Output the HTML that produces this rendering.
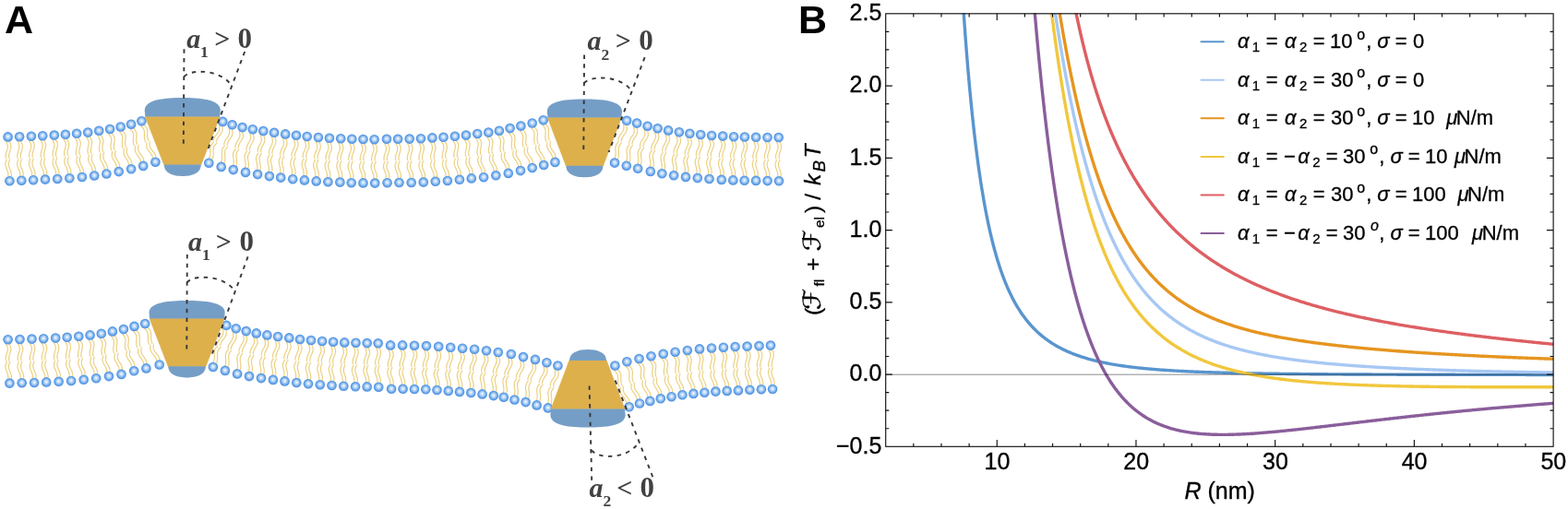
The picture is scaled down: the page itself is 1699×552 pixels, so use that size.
<!DOCTYPE html><html><head><meta charset="utf-8"><style>html,body{margin:0;padding:0;background:#fff;}body{width:1699px;height:552px;position:relative;overflow:hidden;}</style></head><body><svg width="1699" height="552" viewBox="0 0 1699 552" style="position:absolute;left:0;top:0">
<defs><radialGradient id="hg" cx="50%" cy="50%" r="50%" fx="50%" fy="45%"><stop offset="0" stop-color="#f6faff"/><stop offset="0.38" stop-color="#bcd8f6"/><stop offset="0.76" stop-color="#66a3e8"/><stop offset="1" stop-color="#468ce0"/></radialGradient></defs>
<g fill="none" stroke="#ecd181" stroke-width="1.2" stroke-linecap="round">
<path d="M6.54,153.48 L7.23,154.75 L7.80,156.03 L8.18,157.32 L8.35,158.61 L8.30,159.91 L8.08,161.21 L7.72,162.53 L7.29,163.84 L6.86,165.16 L6.50,166.47 L6.24,167.78 L6.13,169.08 L6.16,170.38 L6.32,171.67"/>
<path d="M10.04,153.35 L10.73,154.62 L11.29,155.90 L11.68,157.18 L11.85,158.48 L11.80,159.78 L11.58,161.08 L11.22,162.39 L10.79,163.71 L10.36,165.02 L10.00,166.34 L9.74,167.64 L9.63,168.95 L9.66,170.25 L9.82,171.54"/>
<path d="M8.87,191.25 L8.93,189.95 L8.86,188.66 L8.65,187.37 L8.30,186.08 L7.83,184.80 L7.31,183.52 L6.78,182.24 L6.33,180.96 L6.00,179.67 L5.86,178.38 L5.93,177.08 L6.22,175.77 L6.69,174.46 L7.28,173.13"/>
<path d="M12.36,191.12 L12.43,189.82 L12.36,188.53 L12.15,187.23 L11.80,185.95 L11.33,184.67 L10.81,183.39 L10.28,182.11 L9.83,180.83 L9.50,179.54 L9.36,178.25 L9.43,176.95 L9.72,175.64 L10.18,174.32 L10.78,173.00"/>
<path d="M19.08,153.30 L19.79,154.56 L20.36,155.82 L20.75,157.10 L20.93,158.38 L20.90,159.68 L20.69,160.98 L20.34,162.29 L19.92,163.60 L19.50,164.91 L19.15,166.22 L18.91,167.52 L18.80,168.82 L18.84,170.11 L19.02,171.40"/>
<path d="M22.58,153.14 L23.28,154.40 L23.86,155.66 L24.25,156.94 L24.43,158.22 L24.40,159.52 L24.18,160.82 L23.83,162.13 L23.42,163.44 L23.00,164.75 L22.65,166.06 L22.40,167.36 L22.30,168.66 L22.34,169.95 L22.51,171.23"/>
<path d="M21.72,190.87 L21.78,189.57 L21.70,188.28 L21.48,187.00 L21.11,185.73 L20.64,184.46 L20.10,183.19 L19.57,181.92 L19.10,180.65 L18.77,179.37 L18.61,178.09 L18.67,176.79 L18.95,175.49 L19.40,174.17 L19.99,172.85"/>
<path d="M25.22,190.71 L25.27,189.41 L25.20,188.12 L24.97,186.84 L24.61,185.56 L24.14,184.29 L23.60,183.03 L23.06,181.76 L22.60,180.49 L22.26,179.21 L22.11,177.92 L22.17,176.63 L22.44,175.32 L22.90,174.01 L23.48,172.69"/>
<path d="M31.88,152.90 L32.59,154.15 L33.16,155.41 L33.56,156.68 L33.73,157.95 L33.70,159.24 L33.49,160.54 L33.14,161.84 L32.72,163.14 L32.30,164.45 L31.95,165.75 L31.71,167.05 L31.60,168.34 L31.64,169.62 L31.82,170.90"/>
<path d="M35.38,152.74 L36.08,153.99 L36.66,155.25 L37.05,156.52 L37.23,157.79 L37.20,159.08 L36.98,160.37 L36.63,161.68 L36.22,162.98 L35.80,164.29 L35.45,165.59 L35.20,166.88 L35.10,168.17 L35.14,169.46 L35.31,170.73"/>
<path d="M34.52,190.27 L34.58,188.98 L34.50,187.70 L34.27,186.42 L33.91,185.15 L33.44,183.89 L32.90,182.63 L32.37,181.37 L31.90,180.11 L31.56,178.84 L31.41,177.56 L31.47,176.27 L31.75,174.97 L32.20,173.67 L32.79,172.35"/>
<path d="M38.02,190.11 L38.07,188.82 L38.00,187.54 L37.77,186.26 L37.41,184.99 L36.93,183.73 L36.40,182.47 L35.86,181.21 L35.40,179.94 L35.06,178.67 L34.91,177.40 L34.97,176.11 L35.24,174.81 L35.70,173.50 L36.28,172.19"/>
<path d="M44.25,152.32 L44.97,153.57 L45.56,154.82 L45.97,156.08 L46.16,157.36 L46.15,158.65 L45.95,159.95 L45.62,161.25 L45.22,162.57 L44.82,163.88 L44.48,165.18 L44.25,166.48 L44.16,167.78 L44.22,169.06 L44.41,170.34"/>
<path d="M47.74,152.12 L48.46,153.36 L49.05,154.61 L49.46,155.88 L49.66,157.15 L49.64,158.44 L49.44,159.74 L49.11,161.05 L48.71,162.36 L48.31,163.67 L47.97,164.98 L47.74,166.28 L47.66,167.57 L47.71,168.85 L47.90,170.13"/>
<path d="M47.36,189.69 L47.40,188.40 L47.30,187.12 L47.06,185.84 L46.68,184.58 L46.20,183.32 L45.64,182.07 L45.09,180.81 L44.61,179.55 L44.26,178.29 L44.09,177.01 L44.13,175.72 L44.39,174.42 L44.83,173.10 L45.40,171.78"/>
<path d="M50.85,189.48 L50.89,188.19 L50.80,186.91 L50.56,185.64 L50.18,184.37 L49.69,183.11 L49.14,181.86 L48.59,180.60 L48.10,179.35 L47.75,178.08 L47.58,176.80 L47.63,175.51 L47.88,174.21 L48.33,172.90 L48.89,171.57"/>
<path d="M56.91,151.75 L57.65,152.99 L58.26,154.23 L58.68,155.49 L58.89,156.77 L58.89,158.06 L58.71,159.36 L58.39,160.67 L58.01,161.99 L57.63,163.31 L57.31,164.62 L57.09,165.92 L57.02,167.22 L57.10,168.50 L57.30,169.78"/>
<path d="M60.40,151.50 L61.14,152.73 L61.75,153.98 L62.17,155.24 L62.38,156.52 L62.38,157.80 L62.20,159.11 L61.88,160.42 L61.50,161.74 L61.12,163.05 L60.80,164.37 L60.59,165.67 L60.51,166.97 L60.59,168.25 L60.79,169.53"/>
<path d="M60.50,189.11 L60.52,187.82 L60.41,186.54 L60.15,185.26 L59.76,184.00 L59.25,182.75 L58.69,181.50 L58.12,180.25 L57.62,179.00 L57.25,177.73 L57.07,176.46 L57.10,175.17 L57.34,173.86 L57.76,172.54 L58.31,171.21"/>
<path d="M63.99,188.86 L64.01,187.57 L63.90,186.29 L63.64,185.01 L63.25,183.75 L62.74,182.50 L62.18,181.25 L61.61,180.00 L61.11,178.75 L60.74,177.48 L60.56,176.21 L60.59,174.92 L60.83,173.61 L61.25,172.29 L61.80,170.96"/>
<path d="M69.12,150.99 L69.88,152.21 L70.52,153.45 L70.97,154.70 L71.21,155.97 L71.23,157.27 L71.08,158.57 L70.79,159.90 L70.43,161.22 L70.08,162.55 L69.79,163.87 L69.60,165.19 L69.56,166.49 L69.66,167.77 L69.89,169.04"/>
<path d="M72.61,150.66 L73.37,151.89 L74.00,153.12 L74.45,154.38 L74.69,155.65 L74.72,156.94 L74.56,158.25 L74.28,159.57 L73.92,160.90 L73.56,162.23 L73.27,163.55 L73.09,164.86 L73.04,166.16 L73.14,167.45 L73.38,168.72"/>
<path d="M73.50,188.35 L73.49,187.05 L73.35,185.77 L73.07,184.50 L72.65,183.24 L72.12,182.00 L71.52,180.76 L70.93,179.52 L70.40,178.27 L70.01,177.01 L69.80,175.74 L69.80,174.44 L70.01,173.13 L70.41,171.80 L70.93,170.45"/>
<path d="M76.98,188.02 L76.98,186.73 L76.84,185.45 L76.56,184.18 L76.13,182.92 L75.60,181.68 L75.01,180.44 L74.41,179.20 L73.89,177.95 L73.49,176.69 L73.28,175.42 L73.28,174.12 L73.50,172.81 L73.89,171.47 L74.41,170.13"/>
<path d="M81.48,150.04 L82.27,151.24 L82.94,152.45 L83.43,153.69 L83.71,154.95 L83.77,156.24 L83.66,157.55 L83.41,158.88 L83.09,160.22 L82.78,161.55 L82.52,162.88 L82.38,164.20 L82.37,165.50 L82.51,166.78 L82.78,168.04"/>
<path d="M84.95,149.61 L85.75,150.81 L86.42,152.02 L86.90,153.26 L87.18,154.53 L87.25,155.81 L87.13,157.13 L86.88,158.45 L86.57,159.79 L86.25,161.13 L85.99,162.46 L85.85,163.77 L85.84,165.07 L85.98,166.35 L86.25,167.61"/>
<path d="M86.95,187.20 L86.91,185.91 L86.73,184.63 L86.41,183.38 L85.95,182.13 L85.39,180.91 L84.76,179.69 L84.13,178.47 L83.56,177.24 L83.13,175.99 L82.88,174.73 L82.85,173.44 L83.02,172.12 L83.38,170.78 L83.86,169.42"/>
<path d="M90.43,186.77 L90.38,185.48 L90.21,184.21 L89.89,182.95 L89.43,181.71 L88.86,180.48 L88.23,179.26 L87.60,178.04 L87.04,176.81 L86.61,175.57 L86.36,174.30 L86.32,173.01 L86.49,171.69 L86.85,170.35 L87.33,168.99"/>
<path d="M93.71,148.88 L94.54,150.05 L95.24,151.24 L95.76,152.46 L96.07,153.71 L96.16,155.00 L96.08,156.31 L95.87,157.64 L95.58,158.97 L95.30,160.31 L95.08,161.64 L94.97,162.96 L95.00,164.25 L95.17,165.52 L95.47,166.77"/>
<path d="M97.17,148.36 L98.00,149.53 L98.70,150.73 L99.22,151.95 L99.53,153.20 L99.63,154.48 L99.54,155.79 L99.33,157.12 L99.05,158.46 L98.76,159.80 L98.54,161.13 L98.43,162.44 L98.46,163.73 L98.63,165.01 L98.93,166.26"/>
<path d="M100.13,185.75 L100.05,184.47 L99.85,183.20 L99.49,181.96 L99.00,180.73 L98.40,179.53 L97.74,178.33 L97.08,177.13 L96.49,175.92 L96.03,174.69 L95.75,173.44 L95.68,172.15 L95.82,170.83 L96.14,169.49 L96.59,168.12"/>
<path d="M103.59,185.24 L103.51,183.95 L103.31,182.69 L102.95,181.44 L102.46,180.22 L101.87,179.01 L101.20,177.81 L100.54,176.61 L99.95,175.40 L99.49,174.18 L99.21,172.92 L99.14,171.63 L99.28,170.32 L99.60,168.97 L100.05,167.61"/>
<path d="M105.85,147.11 L106.70,148.27 L107.44,149.44 L107.99,150.65 L108.33,151.89 L108.46,153.17 L108.41,154.48 L108.23,155.81 L107.98,157.16 L107.73,158.50 L107.54,159.84 L107.47,161.15 L107.53,162.45 L107.73,163.71 L108.06,164.96"/>
<path d="M109.30,146.51 L110.15,147.66 L110.88,148.83 L111.43,150.04 L111.77,151.28 L111.90,152.56 L111.85,153.87 L111.67,155.21 L111.43,156.55 L111.18,157.90 L110.99,159.23 L110.91,160.55 L110.97,161.84 L111.18,163.11 L111.51,164.35"/>
<path d="M113.21,183.81 L113.10,182.53 L112.86,181.27 L112.47,180.03 L111.95,178.82 L111.32,177.63 L110.63,176.45 L109.94,175.27 L109.32,174.07 L108.82,172.86 L108.51,171.61 L108.41,170.33 L108.51,169.01 L108.80,167.65 L109.21,166.28"/>
<path d="M116.66,183.20 L116.55,181.92 L116.31,180.66 L115.92,179.42 L115.40,178.21 L114.77,177.02 L114.08,175.84 L113.39,174.66 L112.76,173.47 L112.27,172.25 L111.96,171.00 L111.85,169.72 L111.96,168.40 L112.25,167.05 L112.66,165.67"/>
<path d="M117.92,145.35 L118.81,146.47 L119.57,147.61 L120.16,148.78 L120.53,150.00 L120.70,151.27 L120.69,152.57 L120.55,153.89 L120.34,155.23 L120.14,156.58 L119.99,157.91 L119.95,159.21 L120.05,160.49 L120.29,161.74 L120.66,162.96"/>
<path d="M121.34,144.64 L122.23,145.75 L123.00,146.89 L123.58,148.07 L123.96,149.29 L124.13,150.55 L124.12,151.85 L123.98,153.18 L123.77,154.52 L123.56,155.86 L123.42,157.19 L123.38,158.50 L123.48,159.78 L123.72,161.02 L124.09,162.25"/>
<path d="M126.36,181.48 L126.21,180.21 L125.94,178.97 L125.52,177.76 L124.96,176.58 L124.30,175.42 L123.57,174.27 L122.84,173.12 L122.19,171.96 L121.66,170.77 L121.31,169.55 L121.17,168.28 L121.23,166.97 L121.48,165.62 L121.85,164.24"/>
<path d="M129.79,180.77 L129.64,179.50 L129.36,178.26 L128.94,177.05 L128.39,175.86 L127.72,174.70 L127.00,173.56 L126.27,172.41 L125.61,171.25 L125.08,170.06 L124.73,168.84 L124.59,167.57 L124.66,166.25 L124.91,164.90 L125.28,163.53"/>
<path d="M129.72,142.90 L130.66,143.98 L131.47,145.09 L132.10,146.25 L132.52,147.45 L132.74,148.71 L132.78,150.02 L132.69,151.35 L132.54,152.71 L132.38,154.06 L132.29,155.40 L132.30,156.71 L132.45,157.98 L132.74,159.22 L133.16,160.43"/>
<path d="M133.12,142.05 L134.05,143.13 L134.86,144.24 L135.49,145.40 L135.92,146.61 L136.14,147.87 L136.18,149.17 L136.09,150.51 L135.93,151.86 L135.78,153.21 L135.69,154.55 L135.70,155.86 L135.85,157.14 L136.14,158.38 L136.56,159.59"/>
<path d="M139.59,178.77 L139.39,177.51 L139.06,176.28 L138.59,175.08 L137.99,173.91 L137.28,172.78 L136.51,171.66 L135.74,170.53 L135.04,169.40 L134.46,168.22 L134.06,167.01 L133.87,165.74 L133.89,164.43 L134.08,163.06 L134.40,161.67"/>
<path d="M142.98,177.93 L142.78,176.66 L142.46,175.43 L141.99,174.23 L141.39,173.07 L140.68,171.93 L139.91,170.81 L139.14,169.69 L138.43,168.55 L137.86,167.38 L137.46,166.16 L137.27,164.90 L137.28,163.58 L137.48,162.22 L137.79,160.83"/>
<path d="M141.33,140.13 L142.30,141.17 L143.15,142.25 L143.83,143.37 L144.29,144.56 L144.56,145.80 L144.65,147.10 L144.61,148.43 L144.51,149.79 L144.40,151.14 L144.36,152.47 L144.42,153.78 L144.61,155.04 L144.95,156.27 L145.41,157.46"/>
<path d="M144.69,139.15 L145.66,140.20 L146.51,141.27 L147.19,142.40 L147.66,143.58 L147.92,144.83 L148.01,146.13 L147.97,147.46 L147.87,148.81 L147.76,150.16 L147.72,151.50 L147.78,152.80 L147.98,154.07 L148.31,155.29 L148.77,156.48"/>
<path d="M152.51,175.47 L152.27,174.22 L151.90,173.01 L151.39,171.83 L150.74,170.70 L149.99,169.59 L149.18,168.51 L148.37,167.42 L147.62,166.31 L147.00,165.17 L146.56,163.98 L146.32,162.72 L146.29,161.41 L146.43,160.05 L146.70,158.65"/>
<path d="M155.88,174.50 L155.63,173.25 L155.26,172.03 L154.75,170.86 L154.10,169.72 L153.35,168.62 L152.54,167.53 L151.73,166.44 L150.98,165.34 L150.37,164.19 L149.92,163.00 L149.69,161.75 L149.65,160.44 L149.79,159.07 L150.06,157.67"/>
<path d="M152.87,136.76 L153.88,137.75 L154.78,138.78 L155.50,139.87 L156.01,141.03 L156.33,142.25 L156.47,143.54 L156.49,144.87 L156.44,146.21 L156.40,147.56 L156.41,148.89 L156.53,150.19 L156.77,151.44 L157.16,152.64 L157.67,153.80"/>
<path d="M156.18,135.64 L157.20,136.63 L158.09,137.66 L158.81,138.75 L159.33,139.91 L159.65,141.13 L159.79,142.42 L159.81,143.75 L159.76,145.09 L159.71,146.44 L159.73,147.77 L159.84,149.07 L160.09,150.32 L160.48,151.52 L160.99,152.68"/>
<path d="M165.52,171.39 L165.23,170.16 L164.81,168.97 L164.25,167.83 L163.55,166.73 L162.76,165.66 L161.90,164.62 L161.04,163.58 L160.25,162.51 L159.59,161.40 L159.10,160.23 L158.81,159.00 L158.72,157.70 L158.80,156.33 L159.01,154.93"/>
<path d="M168.84,170.27 L168.54,169.04 L168.12,167.85 L167.56,166.71 L166.87,165.61 L166.07,164.54 L165.22,163.50 L164.36,162.45 L163.57,161.39 L162.90,160.28 L162.41,159.11 L162.12,157.88 L162.03,156.58 L162.12,155.21 L162.32,153.81"/>
<path d="M237.58,135.93 L237.78,137.34 L237.87,138.72 L237.78,140.03 L237.49,141.28 L237.00,142.46 L236.33,143.59 L235.54,144.67 L234.68,145.73 L233.82,146.79 L233.02,147.86 L232.33,148.98 L231.77,150.14 L231.35,151.34 L231.05,152.59"/>
<path d="M240.90,137.04 L241.10,138.45 L241.19,139.83 L241.10,141.14 L240.81,142.39 L240.31,143.57 L239.65,144.70 L238.85,145.78 L238.00,146.84 L237.14,147.90 L236.34,148.98 L235.65,150.09 L235.09,151.25 L234.66,152.45 L234.37,153.70"/>
<path d="M226.61,171.53 L227.12,170.36 L227.51,169.14 L227.76,167.88 L227.88,166.57 L227.89,165.23 L227.84,163.87 L227.80,162.50 L227.81,161.16 L227.96,159.87 L228.28,158.63 L228.80,157.45 L229.52,156.35 L230.41,155.30 L231.43,154.30"/>
<path d="M229.93,172.64 L230.44,171.47 L230.83,170.25 L231.08,168.99 L231.20,167.68 L231.21,166.34 L231.16,164.98 L231.12,163.62 L231.13,162.28 L231.28,160.98 L231.60,159.74 L232.11,158.57 L232.84,157.46 L233.73,156.41 L234.75,155.41"/>
<path d="M248.16,139.57 L248.46,140.96 L248.64,142.33 L248.64,143.64 L248.44,144.90 L248.03,146.11 L247.44,147.27 L246.72,148.40 L245.94,149.51 L245.16,150.62 L244.43,151.75 L243.82,152.90 L243.34,154.09 L243.00,155.32 L242.79,156.58"/>
<path d="M251.55,140.45 L251.85,141.85 L252.03,143.21 L252.03,144.52 L251.82,145.79 L251.41,146.99 L250.82,148.16 L250.11,149.28 L249.33,150.39 L248.54,151.50 L247.82,152.63 L247.21,153.79 L246.73,154.98 L246.39,156.20 L246.17,157.46"/>
<path d="M239.66,175.72 L240.09,174.52 L240.39,173.28 L240.56,172.01 L240.58,170.70 L240.50,169.37 L240.36,168.02 L240.22,166.66 L240.15,165.33 L240.20,164.03 L240.44,162.77 L240.87,161.57 L241.52,160.43 L242.34,159.33 L243.28,158.26"/>
<path d="M243.05,176.61 L243.48,175.40 L243.78,174.17 L243.94,172.89 L243.97,171.59 L243.89,170.25 L243.75,168.90 L243.61,167.55 L243.54,166.21 L243.59,164.91 L243.82,163.66 L244.26,162.46 L244.90,161.31 L245.73,160.21 L246.67,159.14"/>
<path d="M259.36,142.52 L259.72,143.90 L259.96,145.25 L260.03,146.56 L259.88,147.82 L259.52,149.04 L258.99,150.23 L258.33,151.38 L257.60,152.53 L256.86,153.67 L256.20,154.82 L255.63,156.00 L255.21,157.21 L254.93,158.44 L254.77,159.71"/>
<path d="M262.78,143.25 L263.15,144.63 L263.39,145.97 L263.45,147.29 L263.30,148.55 L262.95,149.77 L262.41,150.96 L261.75,152.11 L261.02,153.26 L260.29,154.40 L259.62,155.55 L259.06,156.73 L258.63,157.94 L258.35,159.17 L258.20,160.44"/>
<path d="M252.52,178.93 L252.90,177.71 L253.15,176.47 L253.25,175.19 L253.22,173.89 L253.08,172.56 L252.87,171.22 L252.67,169.88 L252.54,168.55 L252.53,167.25 L252.71,165.99 L253.09,164.78 L253.68,163.61 L254.45,162.47 L255.34,161.36"/>
<path d="M255.95,179.66 L256.32,178.44 L256.57,177.20 L256.67,175.92 L256.64,174.62 L256.50,173.29 L256.30,171.95 L256.10,170.61 L255.96,169.28 L255.96,167.98 L256.13,166.72 L256.51,165.51 L257.10,164.33 L257.87,163.20 L258.77,162.09"/>
<path d="M270.76,144.76 L271.18,146.13 L271.48,147.48 L271.60,148.80 L271.51,150.08 L271.20,151.33 L270.72,152.54 L270.11,153.74 L269.43,154.92 L268.74,156.11 L268.13,157.30 L267.61,158.51 L267.24,159.75 L267.01,161.01 L266.91,162.29"/>
<path d="M274.21,145.34 L274.63,146.71 L274.93,148.05 L275.05,149.37 L274.96,150.65 L274.66,151.90 L274.17,153.12 L273.56,154.31 L272.88,155.50 L272.20,156.68 L271.58,157.88 L271.07,159.09 L270.69,160.33 L270.46,161.59 L270.37,162.87"/>
<path d="M265.50,181.75 L265.82,180.50 L266.01,179.24 L266.06,177.95 L265.97,176.63 L265.77,175.30 L265.51,173.96 L265.25,172.62 L265.06,171.29 L265.00,169.98 L265.12,168.70 L265.45,167.46 L265.99,166.25 L266.71,165.08 L267.56,163.92"/>
<path d="M268.95,182.32 L269.27,181.08 L269.46,179.81 L269.51,178.52 L269.42,177.21 L269.23,175.88 L268.97,174.54 L268.71,173.20 L268.52,171.87 L268.45,170.56 L268.57,169.28 L268.90,168.04 L269.44,166.83 L270.16,165.65 L271.01,164.50"/>
<path d="M282.42,146.66 L282.89,148.02 L283.23,149.36 L283.39,150.68 L283.35,151.97 L283.09,153.24 L282.64,154.48 L282.07,155.70 L281.43,156.91 L280.79,158.12 L280.21,159.34 L279.74,160.58 L279.41,161.83 L279.23,163.11 L279.17,164.39"/>
<path d="M285.89,147.12 L286.36,148.48 L286.70,149.82 L286.86,151.14 L286.82,152.43 L286.56,153.69 L286.12,154.93 L285.54,156.15 L284.90,157.37 L284.26,158.58 L283.68,159.80 L283.21,161.04 L282.88,162.29 L282.70,163.56 L282.64,164.85"/>
<path d="M278.42,183.97 L278.70,182.71 L278.85,181.43 L278.85,180.13 L278.72,178.82 L278.48,177.49 L278.17,176.15 L277.87,174.82 L277.63,173.49 L277.52,172.18 L277.60,170.89 L277.89,169.63 L278.38,168.40 L279.07,167.19 L279.87,166.00"/>
<path d="M281.89,184.42 L282.17,183.16 L282.32,181.89 L282.32,180.59 L282.19,179.28 L281.95,177.95 L281.64,176.61 L281.34,175.27 L281.10,173.94 L280.99,172.63 L281.07,171.35 L281.36,170.09 L281.85,168.86 L282.54,167.65 L283.34,166.46"/>
<path d="M294.32,148.52 L294.82,149.88 L295.19,151.21 L295.38,152.53 L295.36,153.82 L295.13,155.10 L294.71,156.35 L294.16,157.58 L293.55,158.81 L292.93,160.04 L292.38,161.28 L291.94,162.52 L291.63,163.79 L291.48,165.07 L291.45,166.36"/>
<path d="M297.80,148.91 L298.30,150.26 L298.67,151.60 L298.86,152.91 L298.84,154.21 L298.60,155.48 L298.19,156.73 L297.64,157.97 L297.03,159.19 L296.41,160.42 L295.86,161.66 L295.42,162.91 L295.11,164.17 L294.95,165.45 L294.93,166.74"/>
<path d="M291.11,185.98 L291.36,184.71 L291.48,183.43 L291.46,182.13 L291.30,180.82 L291.03,179.49 L290.70,178.16 L290.36,176.83 L290.10,175.50 L289.96,174.19 L290.01,172.90 L290.27,171.63 L290.75,170.38 L291.40,169.16 L292.18,167.95"/>
<path d="M294.59,186.37 L294.84,185.10 L294.96,183.81 L294.94,182.51 L294.78,181.20 L294.51,179.87 L294.18,178.54 L293.84,177.21 L293.58,175.88 L293.44,174.57 L293.49,173.28 L293.75,172.01 L294.23,170.77 L294.88,169.54 L295.66,168.33"/>
<path d="M306.44,150.14 L306.94,151.48 L307.32,152.81 L307.52,154.12 L307.50,155.41 L307.27,156.68 L306.86,157.93 L306.32,159.16 L305.71,160.39 L305.10,161.62 L304.56,162.85 L304.12,164.10 L303.82,165.36 L303.67,166.63 L303.64,167.92"/>
<path d="M309.92,150.50 L310.42,151.85 L310.80,153.18 L311.00,154.49 L310.98,155.78 L310.75,157.05 L310.34,158.30 L309.80,159.53 L309.19,160.76 L308.58,161.99 L308.04,163.22 L307.60,164.47 L307.30,165.73 L307.15,167.00 L307.12,168.29"/>
<path d="M303.39,187.49 L303.64,186.22 L303.75,184.94 L303.72,183.65 L303.56,182.34 L303.28,181.02 L302.94,179.69 L302.60,178.36 L302.33,177.04 L302.19,175.73 L302.24,174.45 L302.49,173.18 L302.96,171.94 L303.61,170.72 L304.38,169.51"/>
<path d="M306.87,187.85 L307.12,186.59 L307.23,185.31 L307.20,184.02 L307.04,182.71 L306.76,181.39 L306.42,180.06 L306.08,178.73 L305.81,177.41 L305.67,176.10 L305.72,174.82 L305.97,173.55 L306.44,172.31 L307.09,171.09 L307.86,169.88"/>
<path d="M318.36,151.60 L318.90,152.94 L319.31,154.26 L319.54,155.57 L319.55,156.87 L319.36,158.14 L318.98,159.40 L318.47,160.66 L317.89,161.90 L317.32,163.15 L316.80,164.40 L316.39,165.66 L316.13,166.93 L316.01,168.21 L316.02,169.50"/>
<path d="M321.85,151.88 L322.39,153.22 L322.80,154.54 L323.03,155.85 L323.04,157.15 L322.85,158.42 L322.47,159.68 L321.96,160.94 L321.38,162.18 L320.81,163.43 L320.29,164.68 L319.88,165.94 L319.62,167.21 L319.50,168.49 L319.51,169.78"/>
<path d="M316.26,189.11 L316.47,187.83 L316.56,186.55 L316.50,185.25 L316.30,183.94 L315.99,182.63 L315.61,181.31 L315.24,179.99 L314.94,178.67 L314.77,177.36 L314.78,176.07 L315.00,174.80 L315.43,173.54 L316.05,172.30 L316.80,171.07"/>
<path d="M319.75,189.39 L319.96,188.11 L320.05,186.83 L319.99,185.53 L319.79,184.22 L319.48,182.91 L319.10,181.59 L318.73,180.26 L318.43,178.95 L318.25,177.64 L318.27,176.35 L318.49,175.08 L318.92,173.82 L319.54,172.58 L320.29,171.35"/>
<path d="M330.16,152.86 L330.73,154.18 L331.17,155.49 L331.42,156.80 L331.47,158.09 L331.30,159.36 L330.95,160.63 L330.46,161.89 L329.91,163.14 L329.36,164.40 L328.87,165.66 L328.49,166.92 L328.25,168.19 L328.16,169.48 L328.20,170.77"/>
<path d="M333.65,153.07 L334.22,154.39 L334.66,155.70 L334.92,157.00 L334.96,158.29 L334.79,159.57 L334.44,160.84 L333.96,162.09 L333.41,163.35 L332.86,164.60 L332.37,165.86 L331.99,167.13 L331.75,168.40 L331.65,169.68 L331.69,170.97"/>
<path d="M328.85,190.33 L329.04,189.05 L329.10,187.77 L329.01,186.48 L328.78,185.18 L328.44,183.87 L328.04,182.56 L327.64,181.25 L327.31,179.94 L327.11,178.64 L327.10,177.35 L327.29,176.08 L327.70,174.81 L328.29,173.56 L329.01,172.32"/>
<path d="M332.34,190.54 L332.53,189.26 L332.59,187.98 L332.50,186.68 L332.27,185.38 L331.94,184.07 L331.54,182.76 L331.14,181.45 L330.81,180.15 L330.61,178.85 L330.59,177.56 L330.78,176.28 L331.19,175.02 L331.79,173.77 L332.50,172.52"/>
<path d="M342.42,153.89 L343.00,155.20 L343.46,156.51 L343.73,157.81 L343.79,159.10 L343.64,160.37 L343.31,161.64 L342.84,162.91 L342.31,164.17 L341.77,165.43 L341.30,166.69 L340.93,167.96 L340.71,169.24 L340.63,170.52 L340.68,171.80"/>
<path d="M345.92,154.05 L346.50,155.37 L346.96,156.67 L347.23,157.97 L347.29,159.26 L347.14,160.54 L346.80,161.81 L346.34,163.07 L345.80,164.33 L345.27,165.59 L344.79,166.85 L344.43,168.12 L344.21,169.40 L344.13,170.68 L344.18,171.97"/>
<path d="M341.59,191.34 L341.76,190.07 L341.80,188.78 L341.70,187.49 L341.45,186.20 L341.10,184.89 L340.68,183.59 L340.26,182.28 L339.92,180.98 L339.70,179.69 L339.67,178.40 L339.85,177.12 L340.24,175.86 L340.82,174.60 L341.52,173.34"/>
<path d="M345.08,191.51 L345.26,190.23 L345.30,188.94 L345.19,187.65 L344.95,186.36 L344.59,185.06 L344.18,183.75 L343.76,182.45 L343.41,181.14 L343.20,179.85 L343.16,178.56 L343.34,177.29 L343.74,176.02 L344.31,174.76 L345.01,173.51"/>
<path d="M354.58,154.72 L355.18,156.03 L355.66,157.33 L355.95,158.62 L356.02,159.91 L355.89,161.18 L355.57,162.46 L355.12,163.73 L354.60,164.99 L354.08,166.26 L353.62,167.53 L353.27,168.80 L353.07,170.08 L353.00,171.36 L353.07,172.64"/>
<path d="M358.08,154.84 L358.68,156.14 L359.15,157.44 L359.44,158.74 L359.52,160.02 L359.38,161.30 L359.07,162.58 L358.61,163.84 L358.10,165.11 L357.58,166.38 L357.12,167.65 L356.77,168.92 L356.56,170.19 L356.50,171.48 L356.57,172.76"/>
<path d="M354.22,192.16 L354.38,190.88 L354.40,189.60 L354.28,188.31 L354.02,187.02 L353.65,185.72 L353.22,184.42 L352.79,183.12 L352.42,181.83 L352.19,180.53 L352.14,179.25 L352.30,177.97 L352.68,176.70 L353.24,175.43 L353.93,174.17"/>
<path d="M357.72,192.28 L357.88,191.00 L357.90,189.71 L357.78,188.43 L357.52,187.13 L357.15,185.84 L356.72,184.54 L356.28,183.24 L355.92,181.94 L355.69,180.65 L355.64,179.37 L355.80,178.09 L356.18,176.82 L356.74,175.55 L357.42,174.29"/>
<path d="M366.87,155.16 L367.49,156.45 L367.98,157.75 L368.29,159.03 L368.39,160.32 L368.28,161.60 L367.98,162.88 L367.55,164.15 L367.05,165.43 L366.56,166.70 L366.12,167.97 L365.79,169.25 L365.61,170.53 L365.57,171.81 L365.66,173.10"/>
<path d="M370.37,155.22 L370.99,156.51 L371.48,157.80 L371.79,159.09 L371.89,160.38 L371.78,161.66 L371.48,162.93 L371.05,164.21 L370.55,165.48 L370.06,166.76 L369.62,168.03 L369.29,169.31 L369.11,170.59 L369.07,171.87 L369.16,173.16"/>
<path d="M367.14,192.58 L367.27,191.30 L367.28,190.02 L367.13,188.73 L366.85,187.44 L366.46,186.15 L366.00,184.86 L365.55,183.57 L365.16,182.28 L364.91,181.00 L364.84,179.71 L364.98,178.43 L365.33,177.16 L365.87,175.88 L366.54,174.61"/>
<path d="M370.64,192.64 L370.77,191.36 L370.78,190.07 L370.63,188.79 L370.35,187.50 L369.96,186.21 L369.50,184.92 L369.05,183.63 L368.66,182.34 L368.41,181.06 L368.34,179.77 L368.48,178.49 L368.83,177.22 L369.37,175.94 L370.04,174.67"/>
<path d="M378.99,155.77 L379.61,157.06 L380.12,158.35 L380.43,159.64 L380.54,160.92 L380.43,162.20 L380.14,163.48 L379.71,164.76 L379.22,166.03 L378.73,167.31 L378.29,168.59 L377.97,169.86 L377.79,171.14 L377.76,172.43 L377.86,173.71"/>
<path d="M382.49,155.82 L383.11,157.11 L383.61,158.39 L383.93,159.68 L384.04,160.96 L383.93,162.25 L383.64,163.52 L383.21,164.80 L382.72,166.08 L382.22,167.35 L381.79,168.63 L381.47,169.91 L381.29,171.19 L381.26,172.47 L381.36,173.75"/>
<path d="M379.42,193.18 L379.55,191.90 L379.54,190.62 L379.40,189.34 L379.11,188.05 L378.71,186.76 L378.25,185.47 L377.79,184.19 L377.40,182.90 L377.14,181.61 L377.06,180.33 L377.20,179.05 L377.55,177.77 L378.08,176.50 L378.74,175.22"/>
<path d="M382.92,193.23 L383.05,191.95 L383.04,190.66 L382.90,189.38 L382.61,188.09 L382.21,186.81 L381.75,185.52 L381.29,184.23 L380.90,182.94 L380.64,181.66 L380.56,180.37 L380.70,179.09 L381.05,177.82 L381.58,176.54 L382.24,175.27"/>
<path d="M391.25,156.00 L391.89,157.28 L392.41,158.56 L392.74,159.85 L392.86,161.13 L392.77,162.41 L392.50,163.69 L392.09,164.97 L391.61,166.26 L391.13,167.54 L390.72,168.82 L390.42,170.10 L390.25,171.39 L390.23,172.67 L390.35,173.95"/>
<path d="M394.75,156.00 L395.39,157.28 L395.91,158.56 L396.24,159.85 L396.36,161.13 L396.27,162.41 L396.00,163.69 L395.59,164.97 L395.11,166.26 L394.63,167.54 L394.22,168.82 L393.92,170.10 L393.75,171.39 L393.73,172.67 L393.85,173.95"/>
<path d="M392.15,193.40 L392.27,192.12 L392.25,190.84 L392.08,189.55 L391.78,188.27 L391.37,186.99 L390.89,185.71 L390.41,184.43 L390.00,183.14 L389.73,181.86 L389.64,180.58 L389.76,179.30 L390.09,178.01 L390.61,176.73 L391.25,175.45"/>
<path d="M395.65,193.40 L395.77,192.12 L395.75,190.84 L395.58,189.55 L395.28,188.27 L394.87,186.99 L394.39,185.71 L393.91,184.43 L393.50,183.14 L393.23,181.86 L393.14,180.58 L393.26,179.30 L393.59,178.01 L394.11,176.73 L394.75,175.45"/>
<path d="M403.41,156.23 L404.07,157.50 L404.61,158.78 L404.96,160.06 L405.09,161.34 L405.02,162.62 L404.76,163.91 L404.36,165.19 L403.90,166.48 L403.44,167.77 L403.05,169.06 L402.76,170.34 L402.61,171.63 L402.61,172.91 L402.74,174.19"/>
<path d="M406.91,156.18 L407.57,157.46 L408.11,158.73 L408.46,160.01 L408.59,161.29 L408.52,162.58 L408.26,163.86 L407.86,165.15 L407.40,166.44 L406.94,167.72 L406.55,169.01 L406.26,170.30 L406.11,171.58 L406.11,172.86 L406.24,174.15"/>
<path d="M404.79,193.62 L404.89,192.33 L404.85,191.05 L404.67,189.77 L404.35,188.49 L403.92,187.22 L403.43,185.94 L402.94,184.66 L402.51,183.39 L402.22,182.11 L402.11,180.83 L402.21,179.54 L402.53,178.26 L403.03,176.97 L403.66,175.68"/>
<path d="M408.29,193.57 L408.39,192.29 L408.35,191.01 L408.17,189.73 L407.85,188.45 L407.42,187.17 L406.93,185.90 L406.44,184.62 L406.01,183.34 L405.72,182.06 L405.61,180.78 L405.71,179.50 L406.03,178.21 L406.53,176.92 L407.16,175.63"/>
<path d="M416.81,155.83 L417.47,157.10 L418.01,158.38 L418.36,159.66 L418.49,160.94 L418.42,162.22 L418.16,163.51 L417.76,164.79 L417.30,166.08 L416.84,167.37 L416.45,168.66 L416.16,169.94 L416.01,171.23 L416.01,172.51 L416.14,173.79"/>
<path d="M420.31,155.78 L420.97,157.06 L421.51,158.33 L421.86,159.61 L421.99,160.89 L421.92,162.18 L421.66,163.46 L421.26,164.75 L420.80,166.04 L420.34,167.32 L419.95,168.61 L419.66,169.90 L419.51,171.18 L419.51,172.46 L419.64,173.75"/>
<path d="M418.19,193.22 L418.29,191.93 L418.25,190.65 L418.07,189.37 L417.75,188.09 L417.32,186.82 L416.83,185.54 L416.34,184.26 L415.91,182.99 L415.62,181.71 L415.51,180.43 L415.61,179.14 L415.93,177.86 L416.43,176.57 L417.06,175.28"/>
<path d="M421.69,193.17 L421.79,191.89 L421.75,190.61 L421.57,189.33 L421.25,188.05 L420.82,186.77 L420.33,185.50 L419.84,184.22 L419.41,182.94 L419.12,181.66 L419.01,180.38 L419.11,179.10 L419.43,177.81 L419.93,176.52 L420.56,175.23"/>
<path d="M429.00,155.86 L429.68,157.12 L430.24,158.38 L430.61,159.65 L430.76,160.92 L430.71,162.20 L430.47,163.48 L430.10,164.77 L429.66,166.06 L429.22,167.34 L428.85,168.63 L428.58,169.92 L428.46,171.20 L428.47,172.47 L428.63,173.74"/>
<path d="M432.50,155.76 L433.18,157.02 L433.73,158.28 L434.10,159.54 L434.26,160.81 L434.21,162.09 L433.97,163.37 L433.60,164.66 L433.16,165.95 L432.72,167.24 L432.35,168.53 L432.08,169.81 L431.95,171.09 L431.97,172.37 L432.12,173.64"/>
<path d="M431.01,193.04 L431.08,191.76 L431.03,190.49 L430.82,189.22 L430.48,187.95 L430.03,186.69 L429.51,185.43 L429.00,184.17 L428.55,182.90 L428.24,181.64 L428.11,180.36 L428.19,179.09 L428.49,177.80 L428.97,176.51 L429.57,175.22"/>
<path d="M434.50,192.94 L434.58,191.66 L434.52,190.39 L434.32,189.11 L433.98,187.85 L433.53,186.59 L433.01,185.32 L432.50,184.06 L432.05,182.80 L431.74,181.53 L431.61,180.26 L431.69,178.98 L431.99,177.70 L432.47,176.41 L433.07,175.11"/>
<path d="M441.66,155.69 L442.36,156.95 L442.93,158.21 L443.32,159.47 L443.49,160.75 L443.45,162.04 L443.23,163.33 L442.88,164.63 L442.46,165.94 L442.03,167.24 L441.67,168.54 L441.42,169.83 L441.31,171.12 L441.35,172.41 L441.52,173.68"/>
<path d="M445.16,155.54 L445.86,156.80 L446.43,158.06 L446.81,159.33 L446.99,160.60 L446.95,161.89 L446.73,163.19 L446.38,164.49 L445.95,165.79 L445.53,167.09 L445.17,168.39 L444.92,169.69 L444.81,170.98 L444.85,172.26 L445.01,173.54"/>
<path d="M444.14,193.06 L444.20,191.77 L444.13,190.49 L443.91,189.22 L443.55,187.95 L443.09,186.68 L442.56,185.42 L442.03,184.16 L441.56,182.89 L441.23,181.62 L441.09,180.34 L441.15,179.05 L441.43,177.76 L441.89,176.45 L442.48,175.14"/>
<path d="M447.64,192.91 L447.70,191.63 L447.63,190.34 L447.41,189.07 L447.05,187.80 L446.58,186.53 L446.05,185.27 L445.52,184.01 L445.06,182.74 L444.73,181.47 L444.58,180.19 L444.65,178.91 L444.93,177.61 L445.39,176.31 L445.98,175.00"/>
<path d="M454.05,155.32 L454.77,156.57 L455.36,157.82 L455.77,159.08 L455.96,160.36 L455.95,161.65 L455.75,162.95 L455.42,164.25 L455.02,165.57 L454.62,166.88 L454.28,168.18 L454.05,169.48 L453.96,170.78 L454.02,172.06 L454.21,173.34"/>
<path d="M457.54,155.12 L458.26,156.36 L458.85,157.61 L459.26,158.88 L459.46,160.15 L459.44,161.44 L459.24,162.74 L458.91,164.05 L458.51,165.36 L458.11,166.67 L457.77,167.98 L457.54,169.28 L457.46,170.57 L457.51,171.85 L457.70,173.13"/>
<path d="M457.16,192.69 L457.20,191.40 L457.10,190.12 L456.86,188.84 L456.48,187.58 L456.00,186.32 L455.44,185.07 L454.89,183.81 L454.41,182.55 L454.06,181.29 L453.89,180.01 L453.93,178.72 L454.19,177.42 L454.63,176.10 L455.20,174.78"/>
<path d="M460.65,192.48 L460.69,191.19 L460.60,189.91 L460.36,188.64 L459.98,187.37 L459.49,186.11 L458.94,184.86 L458.39,183.60 L457.90,182.35 L457.55,181.08 L457.38,179.80 L457.43,178.51 L457.68,177.21 L458.13,175.90 L458.69,174.57"/>
<path d="M466.51,154.55 L467.25,155.79 L467.86,157.03 L468.28,158.29 L468.49,159.57 L468.49,160.86 L468.31,162.16 L467.99,163.47 L467.61,164.79 L467.23,166.11 L466.91,167.42 L466.69,168.72 L466.62,170.02 L466.70,171.30 L466.90,172.58"/>
<path d="M470.00,154.30 L470.74,155.53 L471.35,156.78 L471.77,158.04 L471.98,159.32 L471.98,160.60 L471.80,161.91 L471.48,163.22 L471.10,164.54 L470.72,165.85 L470.40,167.17 L470.19,168.47 L470.11,169.77 L470.19,171.05 L470.39,172.33"/>
<path d="M470.10,191.91 L470.12,190.62 L470.01,189.34 L469.75,188.06 L469.36,186.80 L468.85,185.55 L468.29,184.30 L467.72,183.05 L467.22,181.80 L466.85,180.53 L466.67,179.26 L466.70,177.97 L466.94,176.66 L467.36,175.34 L467.91,174.01"/>
<path d="M473.59,191.66 L473.61,190.37 L473.50,189.09 L473.24,187.81 L472.85,186.55 L472.34,185.30 L471.78,184.05 L471.21,182.80 L470.71,181.55 L470.34,180.28 L470.16,179.01 L470.19,177.72 L470.43,176.41 L470.85,175.09 L471.40,173.76"/>
<path d="M478.72,153.99 L479.48,155.20 L480.12,156.43 L480.57,157.68 L480.81,158.94 L480.83,160.23 L480.68,161.53 L480.39,162.85 L480.04,164.17 L479.68,165.49 L479.39,166.80 L479.20,168.11 L479.16,169.40 L479.26,170.68 L479.49,171.95"/>
<path d="M482.21,153.66 L482.97,154.88 L483.60,156.11 L484.05,157.35 L484.29,158.62 L484.32,159.91 L484.16,161.21 L483.88,162.52 L483.52,163.84 L483.16,165.16 L482.87,166.48 L482.69,167.78 L482.64,169.08 L482.74,170.35 L482.98,171.62"/>
<path d="M483.10,191.15 L483.09,189.86 L482.95,188.58 L482.67,187.32 L482.25,186.07 L481.72,184.84 L481.12,183.60 L480.53,182.37 L480.00,181.13 L479.61,179.88 L479.40,178.61 L479.40,177.32 L479.61,176.02 L480.01,174.69 L480.53,173.36"/>
<path d="M486.58,190.82 L486.57,189.53 L486.44,188.26 L486.15,187.00 L485.73,185.75 L485.20,184.51 L484.61,183.28 L484.01,182.05 L483.49,180.81 L483.09,179.56 L482.88,178.29 L482.88,177.00 L483.10,175.69 L483.49,174.37 L484.01,173.03"/>
<path d="M491.19,153.01 L491.97,154.21 L492.62,155.43 L493.08,156.66 L493.34,157.92 L493.38,159.20 L493.24,160.50 L492.97,161.81 L492.63,163.13 L492.29,164.45 L492.02,165.77 L491.85,167.07 L491.82,168.36 L491.94,169.63 L492.18,170.89"/>
<path d="M494.67,152.64 L495.45,153.84 L496.10,155.06 L496.56,156.29 L496.82,157.55 L496.86,158.83 L496.72,160.13 L496.45,161.44 L496.11,162.76 L495.77,164.08 L495.50,165.40 L495.33,166.70 L495.30,167.99 L495.42,169.26 L495.67,170.52"/>
<path d="M496.03,189.97 L496.01,188.69 L495.86,187.42 L495.56,186.17 L495.12,184.93 L494.57,183.70 L493.96,182.48 L493.35,181.26 L492.81,180.04 L492.40,178.80 L492.18,177.54 L492.16,176.25 L492.36,174.95 L492.74,173.62 L493.24,172.28"/>
<path d="M499.51,189.60 L499.49,188.32 L499.34,187.05 L499.04,185.80 L498.60,184.56 L498.05,183.33 L497.44,182.11 L496.84,180.89 L496.29,179.67 L495.88,178.43 L495.66,177.16 L495.64,175.88 L495.84,174.58 L496.22,173.25 L496.72,171.91"/>
<path d="M503.38,151.84 L504.18,153.02 L504.85,154.22 L505.33,155.45 L505.61,156.70 L505.68,157.97 L505.56,159.27 L505.31,160.58 L504.99,161.91 L504.68,163.23 L504.42,164.54 L504.28,165.84 L504.27,167.13 L504.41,168.39 L504.68,169.64"/>
<path d="M506.86,151.41 L507.65,152.59 L508.32,153.79 L508.81,155.02 L509.08,156.27 L509.15,157.54 L509.03,158.84 L508.78,160.15 L508.47,161.47 L508.15,162.80 L507.90,164.11 L507.75,165.41 L507.74,166.70 L507.88,167.96 L508.15,169.21"/>
<path d="M508.85,188.60 L508.80,187.33 L508.63,186.06 L508.31,184.82 L507.85,183.59 L507.28,182.38 L506.65,181.18 L506.02,179.97 L505.46,178.76 L505.03,177.53 L504.78,176.27 L504.75,175.00 L504.92,173.69 L505.28,172.36 L505.76,171.02"/>
<path d="M512.32,188.17 L512.28,186.90 L512.10,185.63 L511.78,184.39 L511.32,183.16 L510.76,181.95 L510.13,180.75 L509.50,179.54 L508.94,178.33 L508.51,177.10 L508.26,175.84 L508.22,174.57 L508.39,173.26 L508.75,171.93 L509.23,170.59"/>
<path d="M515.79,150.27 L516.61,151.46 L517.30,152.66 L517.82,153.89 L518.12,155.16 L518.21,156.45 L518.12,157.77 L517.91,159.10 L517.62,160.45 L517.33,161.80 L517.10,163.14 L516.99,164.46 L517.01,165.76 L517.18,167.04 L517.47,168.31"/>
<path d="M519.25,149.77 L520.07,150.96 L520.77,152.16 L521.28,153.40 L521.58,154.66 L521.68,155.95 L521.59,157.27 L521.37,158.61 L521.08,159.95 L520.79,161.30 L520.57,162.64 L520.45,163.96 L520.47,165.26 L520.64,166.55 L520.94,167.81"/>
<path d="M522.05,187.44 L521.98,186.15 L521.78,184.87 L521.43,183.62 L520.95,182.38 L520.35,181.16 L519.70,179.95 L519.04,178.74 L518.45,177.52 L518.00,176.28 L517.72,175.01 L517.65,173.71 L517.80,172.39 L518.13,171.03 L518.58,169.66"/>
<path d="M525.52,186.94 L525.45,185.65 L525.24,184.37 L524.90,183.12 L524.41,181.88 L523.82,180.66 L523.16,179.45 L522.51,178.24 L521.92,177.02 L521.46,175.78 L521.18,174.51 L521.12,173.21 L521.26,171.89 L521.59,170.54 L522.04,169.16"/>
<path d="M527.93,148.91 L528.78,150.06 L529.50,151.24 L530.05,152.45 L530.38,153.69 L530.51,154.97 L530.45,156.28 L530.27,157.61 L530.01,158.95 L529.76,160.29 L529.57,161.63 L529.48,162.94 L529.54,164.23 L529.74,165.50 L530.07,166.74"/>
<path d="M531.38,148.32 L532.23,149.47 L532.95,150.65 L533.50,151.85 L533.83,153.10 L533.96,154.38 L533.90,155.69 L533.72,157.02 L533.46,158.36 L533.21,159.70 L533.02,161.04 L532.93,162.35 L532.99,163.64 L533.19,164.91 L533.51,166.15"/>
<path d="M535.13,185.60 L535.02,184.32 L534.79,183.06 L534.41,181.82 L533.89,180.61 L533.27,179.42 L532.58,178.23 L531.90,177.05 L531.28,175.86 L530.79,174.64 L530.48,173.39 L530.39,172.11 L530.50,170.79 L530.79,169.44 L531.21,168.07"/>
<path d="M538.58,185.01 L538.47,183.73 L538.24,182.47 L537.86,181.23 L537.34,180.02 L536.72,178.83 L536.03,177.64 L535.35,176.46 L534.73,175.27 L534.24,174.05 L533.93,172.80 L533.84,171.52 L533.95,170.20 L534.24,168.85 L534.66,167.48"/>
<path d="M539.75,147.06 L540.64,148.17 L541.42,149.31 L542.01,150.49 L542.40,151.72 L542.57,152.98 L542.57,154.29 L542.44,155.62 L542.24,156.97 L542.04,158.32 L541.90,159.66 L541.87,160.97 L541.98,162.25 L542.23,163.50 L542.61,164.73"/>
<path d="M543.17,146.33 L544.07,147.44 L544.84,148.58 L545.43,149.76 L545.82,150.98 L546.00,152.25 L545.99,153.56 L545.86,154.89 L545.66,156.24 L545.46,157.59 L545.33,158.92 L545.30,160.23 L545.40,161.52 L545.65,162.77 L546.03,163.99"/>
<path d="M548.44,183.29 L548.28,182.02 L547.99,180.78 L547.57,179.56 L547.00,178.38 L546.33,177.22 L545.59,176.07 L544.86,174.92 L544.19,173.76 L543.66,172.57 L543.30,171.34 L543.15,170.06 L543.21,168.74 L543.45,167.39 L543.81,166.00"/>
<path d="M551.86,182.56 L551.70,181.29 L551.42,180.04 L550.99,178.83 L550.42,177.64 L549.75,176.48 L549.02,175.33 L548.28,174.19 L547.62,173.02 L547.08,171.83 L546.72,170.60 L546.57,169.33 L546.63,168.01 L546.87,166.65 L547.23,165.27"/>
<path d="M551.62,144.49 L552.55,145.58 L553.36,146.70 L553.99,147.87 L554.42,149.08 L554.64,150.35 L554.68,151.66 L554.59,153.00 L554.44,154.36 L554.28,155.72 L554.19,157.06 L554.20,158.38 L554.35,159.67 L554.64,160.91 L555.06,162.13"/>
<path d="M555.02,143.65 L555.95,144.74 L556.76,145.86 L557.39,147.03 L557.82,148.24 L558.03,149.51 L558.08,150.82 L557.99,152.16 L557.83,153.52 L557.68,154.88 L557.59,156.22 L557.60,157.54 L557.75,158.82 L558.04,160.07 L558.46,161.29"/>
<path d="M561.49,180.57 L561.29,179.30 L560.97,178.06 L560.50,176.85 L559.89,175.68 L559.18,174.54 L558.41,173.41 L557.64,172.28 L556.94,171.13 L556.36,169.96 L555.96,168.73 L555.77,167.46 L555.79,166.14 L555.98,164.77 L556.30,163.37"/>
<path d="M564.89,179.73 L564.69,178.46 L564.36,177.22 L563.89,176.01 L563.29,174.84 L562.58,173.70 L561.81,172.57 L561.04,171.44 L560.33,170.29 L559.76,169.11 L559.36,167.89 L559.17,166.62 L559.18,165.29 L559.38,163.93 L559.69,162.53"/>
<path d="M563.54,142.01 L564.49,143.07 L565.32,144.16 L565.97,145.30 L566.42,146.49 L566.66,147.74 L566.73,149.04 L566.67,150.37 L566.54,151.72 L566.41,153.07 L566.34,154.40 L566.38,155.71 L566.55,156.98 L566.87,158.21 L567.31,159.40"/>
<path d="M566.91,141.10 L567.87,142.16 L568.70,143.25 L569.35,144.38 L569.80,145.58 L570.04,146.83 L570.11,148.12 L570.05,149.46 L569.92,150.80 L569.79,152.15 L569.72,153.49 L569.76,154.79 L569.93,156.06 L570.25,157.29 L570.69,158.49"/>
<path d="M574.09,177.53 L573.87,176.27 L573.52,175.05 L573.03,173.87 L572.40,172.72 L571.67,171.61 L570.88,170.51 L570.09,169.41 L569.36,168.29 L568.77,167.14 L568.34,165.93 L568.13,164.68 L568.12,163.37 L568.28,162.01 L568.57,160.61"/>
<path d="M577.47,176.61 L577.25,175.36 L576.90,174.14 L576.41,172.95 L575.78,171.81 L575.05,170.69 L574.26,169.59 L573.47,168.49 L572.74,167.37 L572.14,166.22 L571.72,165.02 L571.51,163.76 L571.50,162.45 L571.66,161.09 L571.95,159.70"/>
<path d="M575.85,138.92 L576.81,139.98 L577.65,141.07 L578.31,142.21 L578.76,143.41 L579.01,144.66 L579.08,145.96 L579.03,147.30 L578.90,148.65 L578.78,150.01 L578.72,151.35 L578.76,152.66 L578.94,153.93 L579.26,155.16 L579.71,156.36"/>
<path d="M579.23,137.99 L580.19,139.05 L581.02,140.14 L581.68,141.28 L582.14,142.48 L582.39,143.73 L582.46,145.03 L582.40,146.37 L582.28,147.73 L582.16,149.08 L582.10,150.42 L582.14,151.73 L582.32,153.00 L582.64,154.24 L583.09,155.44"/>
<path d="M586.58,174.54 L586.35,173.28 L585.99,172.05 L585.50,170.87 L584.87,169.72 L584.13,168.60 L583.33,167.50 L582.53,166.39 L581.80,165.27 L581.20,164.12 L580.77,162.91 L580.55,161.65 L580.54,160.33 L580.70,158.97 L580.98,157.57"/>
<path d="M589.95,173.61 L589.72,172.35 L589.37,171.13 L588.87,169.94 L588.24,168.79 L587.50,167.67 L586.71,166.57 L585.91,165.47 L585.18,164.35 L584.57,163.19 L584.15,161.99 L583.93,160.72 L583.91,159.41 L584.07,158.04 L584.35,156.64"/>
<path d="M587.87,135.62 L588.83,136.68 L589.68,137.78 L590.34,138.93 L590.80,140.13 L591.05,141.39 L591.13,142.70 L591.08,144.05 L590.97,145.41 L590.85,146.78 L590.80,148.13 L590.85,149.44 L591.03,150.72 L591.36,151.97 L591.81,153.17"/>
<path d="M591.24,134.68 L592.21,135.75 L593.05,136.84 L593.71,137.99 L594.17,139.20 L594.43,140.46 L594.51,141.77 L594.46,143.11 L594.34,144.48 L594.22,145.84 L594.17,147.19 L594.22,148.51 L594.40,149.79 L594.73,151.03 L595.18,152.23"/>
<path d="M598.76,171.44 L598.53,170.18 L598.17,168.94 L597.67,167.75 L597.03,166.60 L596.29,165.47 L595.48,164.36 L594.68,163.25 L593.94,162.13 L593.33,160.96 L592.90,159.75 L592.67,158.48 L592.65,157.16 L592.81,155.78 L593.08,154.38"/>
<path d="M602.14,170.51 L601.90,169.24 L601.54,168.01 L601.04,166.82 L600.40,165.66 L599.66,164.53 L598.86,163.43 L598.05,162.32 L597.32,161.19 L596.71,160.03 L596.27,158.82 L596.05,157.55 L596.02,156.22 L596.18,154.85 L596.46,153.44"/>
<path d="M675.56,134.99 L675.83,136.41 L675.97,137.79 L675.93,139.12 L675.69,140.40 L675.25,141.61 L674.63,142.78 L673.88,143.90 L673.07,145.01 L672.26,146.12 L671.50,147.25 L670.86,148.41 L670.34,149.60 L669.97,150.84 L669.72,152.11"/>
<path d="M678.93,135.95 L679.19,137.37 L679.33,138.75 L679.30,140.08 L679.06,141.36 L678.62,142.57 L678.00,143.74 L677.25,144.87 L676.43,145.98 L675.62,147.09 L674.87,148.21 L674.22,149.37 L673.71,150.57 L673.34,151.80 L673.09,153.07"/>
<path d="M666.08,171.42 L666.54,170.21 L666.88,168.97 L667.08,167.68 L667.14,166.36 L667.10,165.00 L666.99,163.63 L666.89,162.26 L666.85,160.90 L666.94,159.59 L667.21,158.32 L667.68,157.11 L668.35,155.96 L669.21,154.87 L670.18,153.80"/>
<path d="M669.45,172.38 L669.91,171.18 L670.25,169.93 L670.44,168.64 L670.51,167.32 L670.46,165.96 L670.36,164.59 L670.26,163.22 L670.22,161.87 L670.31,160.55 L670.57,159.28 L671.04,158.08 L671.72,156.93 L672.57,155.83 L673.55,154.76"/>
<path d="M686.72,137.92 L687.04,139.32 L687.24,140.69 L687.26,142.02 L687.07,143.29 L686.67,144.52 L686.10,145.70 L685.40,146.85 L684.63,147.99 L683.86,149.12 L683.15,150.27 L682.55,151.44 L682.09,152.65 L681.76,153.90 L681.57,155.17"/>
<path d="M690.12,138.75 L690.44,140.15 L690.64,141.53 L690.66,142.85 L690.47,144.13 L690.07,145.35 L689.50,146.54 L688.80,147.69 L688.03,148.82 L687.26,149.95 L686.55,151.10 L685.95,152.28 L685.48,153.49 L685.16,154.73 L684.97,156.00"/>
<path d="M678.68,174.52 L679.10,173.30 L679.39,172.05 L679.53,170.76 L679.54,169.44 L679.45,168.10 L679.29,166.74 L679.13,165.38 L679.04,164.03 L679.08,162.72 L679.30,161.45 L679.72,160.23 L680.35,159.06 L681.16,157.94 L682.09,156.84"/>
<path d="M682.08,175.36 L682.50,174.14 L682.79,172.88 L682.93,171.60 L682.94,170.28 L682.85,168.93 L682.69,167.57 L682.53,166.21 L682.44,164.86 L682.48,163.55 L682.69,162.28 L683.12,161.06 L683.75,159.89 L684.55,158.77 L685.49,157.68"/>
<path d="M698.30,141.08 L698.64,142.46 L698.86,143.83 L698.90,145.15 L698.73,146.42 L698.36,147.64 L697.81,148.83 L697.13,149.98 L696.38,151.12 L695.63,152.26 L694.94,153.42 L694.36,154.60 L693.92,155.81 L693.62,157.05 L693.44,158.32"/>
<path d="M701.71,141.85 L702.05,143.24 L702.27,144.60 L702.31,145.92 L702.15,147.20 L701.77,148.42 L701.22,149.61 L700.54,150.76 L699.79,151.90 L699.04,153.04 L698.35,154.19 L697.77,155.37 L697.33,156.58 L697.03,157.82 L696.85,159.10"/>
<path d="M690.90,177.63 L691.29,176.41 L691.56,175.15 L691.68,173.87 L691.67,172.56 L691.55,171.22 L691.37,169.87 L691.19,168.52 L691.07,167.18 L691.09,165.87 L691.28,164.61 L691.68,163.39 L692.29,162.22 L693.08,161.08 L693.99,159.98"/>
<path d="M694.31,178.40 L694.70,177.18 L694.97,175.93 L695.09,174.65 L695.08,173.34 L694.96,172.00 L694.78,170.65 L694.60,169.29 L694.48,167.96 L694.50,166.65 L694.69,165.38 L695.09,164.17 L695.70,162.99 L696.49,161.86 L697.40,160.76"/>
<path d="M709.56,143.86 L709.98,145.23 L710.28,146.57 L710.40,147.88 L710.30,149.16 L710.00,150.41 L709.52,151.62 L708.91,152.81 L708.23,153.99 L707.54,155.17 L706.93,156.36 L706.41,157.57 L706.04,158.81 L705.81,160.06 L705.71,161.34"/>
<path d="M713.01,144.44 L713.43,145.80 L713.73,147.15 L713.85,148.46 L713.76,149.74 L713.45,150.98 L712.97,152.20 L712.36,153.39 L711.68,154.57 L711.00,155.75 L710.38,156.94 L709.87,158.15 L709.49,159.38 L709.26,160.64 L709.17,161.92"/>
<path d="M704.30,180.75 L704.62,179.51 L704.81,178.24 L704.86,176.96 L704.77,175.65 L704.57,174.32 L704.31,172.98 L704.06,171.64 L703.86,170.32 L703.80,169.01 L703.92,167.74 L704.25,166.50 L704.79,165.30 L705.51,164.12 L706.36,162.97"/>
<path d="M707.75,181.32 L708.07,180.08 L708.26,178.82 L708.31,177.53 L708.22,176.23 L708.03,174.90 L707.77,173.56 L707.51,172.22 L707.32,170.90 L707.25,169.59 L707.37,168.32 L707.70,167.08 L708.24,165.87 L708.96,164.70 L709.81,163.55"/>
<path d="M721.16,146.03 L721.61,147.39 L721.94,148.73 L722.08,150.05 L722.02,151.33 L721.74,152.59 L721.29,153.82 L720.70,155.03 L720.04,156.23 L719.39,157.43 L718.79,158.63 L718.31,159.86 L717.96,161.10 L717.76,162.37 L717.69,163.66"/>
<path d="M724.62,146.53 L725.07,147.89 L725.40,149.23 L725.55,150.55 L725.48,151.83 L725.21,153.09 L724.75,154.32 L724.16,155.53 L723.51,156.73 L722.85,157.93 L722.26,159.14 L721.77,160.36 L721.42,161.61 L721.22,162.87 L721.15,164.16"/>
<path d="M716.68,183.16 L716.98,181.91 L717.15,180.64 L717.17,179.34 L717.05,178.03 L716.82,176.70 L716.54,175.37 L716.25,174.03 L716.03,172.70 L715.94,171.39 L716.03,170.11 L716.34,168.86 L716.85,167.64 L717.54,166.45 L718.37,165.27"/>
<path d="M720.15,183.66 L720.44,182.41 L720.61,181.14 L720.63,179.85 L720.51,178.53 L720.29,177.21 L720.00,175.87 L719.71,174.53 L719.49,173.20 L719.40,171.90 L719.50,170.61 L719.80,169.36 L720.31,168.14 L721.01,166.95 L721.83,165.77"/>
<path d="M733.06,147.89 L733.54,149.24 L733.89,150.58 L734.07,151.89 L734.03,153.18 L733.78,154.45 L733.35,155.69 L732.79,156.91 L732.16,158.13 L731.53,159.34 L730.96,160.57 L730.50,161.81 L730.18,163.06 L730.01,164.33 L729.96,165.62"/>
<path d="M736.53,148.32 L737.01,149.67 L737.37,151.01 L737.54,152.32 L737.50,153.61 L737.25,154.87 L736.82,156.11 L736.26,157.34 L735.63,158.56 L735.00,159.77 L734.43,161.00 L733.98,162.23 L733.66,163.49 L733.48,164.76 L733.44,166.05"/>
<path d="M729.37,185.17 L729.64,183.91 L729.78,182.64 L729.78,181.34 L729.63,180.03 L729.38,178.70 L729.06,177.37 L728.75,176.04 L728.50,174.71 L728.38,173.41 L728.45,172.12 L728.72,170.86 L729.21,169.63 L729.88,168.42 L730.68,167.22"/>
<path d="M732.85,185.60 L733.12,184.34 L733.26,183.06 L733.25,181.77 L733.11,180.46 L732.85,179.13 L732.54,177.80 L732.22,176.47 L731.97,175.14 L731.85,173.83 L731.92,172.55 L732.20,171.29 L732.68,170.05 L733.35,168.84 L734.15,167.65"/>
<path d="M744.69,149.57 L745.22,150.90 L745.61,152.22 L745.83,153.53 L745.83,154.81 L745.61,156.08 L745.22,157.32 L744.70,158.56 L744.10,159.79 L743.51,161.02 L742.98,162.25 L742.56,163.50 L742.27,164.75 L742.14,166.03 L742.13,167.31"/>
<path d="M748.18,149.89 L748.70,151.23 L749.10,152.55 L749.31,153.85 L749.31,155.14 L749.10,156.40 L748.71,157.65 L748.18,158.88 L747.59,160.11 L746.99,161.34 L746.46,162.58 L746.04,163.82 L745.76,165.08 L745.62,166.35 L745.61,167.64"/>
<path d="M742.12,186.80 L742.36,185.53 L742.46,184.26 L742.41,182.97 L742.23,181.67 L741.93,180.36 L741.58,179.04 L741.22,177.72 L740.94,176.41 L740.78,175.11 L740.81,173.83 L741.05,172.57 L741.50,171.33 L742.13,170.10 L742.89,168.89"/>
<path d="M745.61,187.12 L745.84,185.86 L745.94,184.58 L745.90,183.30 L745.71,181.99 L745.42,180.68 L745.06,179.37 L744.71,178.05 L744.42,176.74 L744.27,175.44 L744.29,174.16 L744.53,172.89 L744.98,171.65 L745.61,170.43 L746.37,169.21"/>
<path d="M756.60,150.82 L757.15,152.14 L757.57,153.45 L757.81,154.74 L757.84,156.02 L757.65,157.28 L757.29,158.53 L756.79,159.77 L756.22,161.00 L755.65,162.24 L755.15,163.48 L754.75,164.72 L754.50,165.98 L754.39,167.25 L754.41,168.52"/>
<path d="M760.09,151.08 L760.64,152.39 L761.06,153.70 L761.30,154.99 L761.33,156.27 L761.14,157.53 L760.78,158.78 L760.28,160.02 L759.71,161.25 L759.14,162.49 L758.64,163.73 L758.24,164.98 L757.99,166.23 L757.88,167.50 L757.90,168.78"/>
<path d="M754.82,187.92 L755.02,186.66 L755.10,185.38 L755.02,184.10 L754.81,182.81 L754.49,181.51 L754.11,180.21 L753.72,178.91 L753.41,177.61 L753.23,176.32 L753.22,175.04 L753.44,173.78 L753.86,172.54 L754.47,171.31 L755.20,170.09"/>
<path d="M758.31,188.17 L758.51,186.91 L758.59,185.64 L758.51,184.36 L758.30,183.07 L757.98,181.77 L757.60,180.46 L757.21,179.16 L756.90,177.86 L756.72,176.57 L756.72,175.30 L756.93,174.04 L757.35,172.79 L757.96,171.56 L758.69,170.34"/>
<path d="M768.58,151.87 L769.15,153.17 L769.60,154.47 L769.86,155.76 L769.91,157.03 L769.75,158.29 L769.40,159.55 L768.92,160.79 L768.38,162.04 L767.83,163.28 L767.35,164.52 L766.97,165.78 L766.74,167.03 L766.65,168.30 L766.69,169.58"/>
<path d="M772.07,152.06 L772.64,153.37 L773.09,154.66 L773.35,155.95 L773.40,157.22 L773.24,158.49 L772.89,159.74 L772.42,160.99 L771.87,162.23 L771.32,163.47 L770.84,164.72 L770.47,165.97 L770.23,167.23 L770.14,168.50 L770.19,169.77"/>
<path d="M767.43,188.93 L767.62,187.67 L767.67,186.40 L767.57,185.12 L767.34,183.84 L767.00,182.55 L766.59,181.25 L766.18,179.96 L765.85,178.67 L765.64,177.38 L765.62,176.11 L765.81,174.85 L766.21,173.60 L766.80,172.36 L767.51,171.12"/>
<path d="M770.93,189.13 L771.11,187.86 L771.16,186.59 L771.07,185.32 L770.83,184.03 L770.49,182.74 L770.08,181.45 L769.68,180.15 L769.34,178.86 L769.14,177.58 L769.11,176.30 L769.30,175.04 L769.71,173.79 L770.29,172.55 L771.01,171.32"/>
<path d="M780.80,152.53 L781.41,153.83 L781.89,155.12 L782.18,156.41 L782.26,157.69 L782.13,158.97 L781.82,160.24 L781.38,161.51 L780.86,162.77 L780.35,164.04 L779.89,165.30 L779.55,166.57 L779.35,167.85 L779.29,169.12 L779.37,170.41"/>
<path d="M784.30,152.63 L784.91,153.93 L785.39,155.23 L785.68,156.52 L785.76,157.80 L785.63,159.07 L785.32,160.34 L784.87,161.61 L784.36,162.88 L783.85,164.14 L783.39,165.41 L783.05,166.68 L782.85,167.95 L782.79,169.23 L782.87,170.51"/>
<path d="M780.60,189.86 L780.75,188.59 L780.77,187.31 L780.65,186.02 L780.38,184.74 L780.00,183.45 L779.57,182.15 L779.13,180.86 L778.76,179.57 L778.52,178.28 L778.46,177.00 L778.62,175.73 L778.99,174.46 L779.55,173.19 L780.23,171.93"/>
<path d="M784.10,189.97 L784.25,188.69 L784.27,187.41 L784.14,186.13 L783.88,184.84 L783.50,183.55 L783.06,182.26 L782.63,180.96 L782.25,179.67 L782.02,178.39 L781.96,177.10 L782.12,175.83 L782.49,174.56 L783.05,173.30 L783.73,172.04"/>
<path d="M792.77,153.16 L793.39,154.45 L793.88,155.73 L794.19,157.01 L794.29,158.29 L794.18,159.56 L793.88,160.83 L793.45,162.10 L792.95,163.37 L792.46,164.63 L792.02,165.90 L791.69,167.17 L791.51,168.44 L791.47,169.72 L791.56,171.00"/>
<path d="M796.27,153.22 L796.89,154.51 L797.38,155.79 L797.69,157.07 L797.79,158.35 L797.68,159.62 L797.38,160.89 L796.95,162.16 L796.45,163.43 L795.96,164.69 L795.52,165.96 L795.19,167.23 L795.01,168.50 L794.97,169.78 L795.06,171.06"/>
<path d="M793.04,190.38 L793.17,189.10 L793.18,187.83 L793.03,186.55 L792.75,185.27 L792.36,183.99 L791.90,182.71 L791.45,181.42 L791.06,180.14 L790.81,178.86 L790.74,177.58 L790.88,176.31 L791.23,175.04 L791.77,173.78 L792.44,172.51"/>
<path d="M796.54,190.44 L796.67,189.16 L796.68,187.89 L796.53,186.61 L796.25,185.33 L795.86,184.05 L795.40,182.77 L794.95,181.48 L794.56,180.20 L794.31,178.92 L794.24,177.64 L794.38,176.37 L794.73,175.10 L795.27,173.84 L795.94,172.57"/>
<path d="M804.62,153.49 L805.25,154.77 L805.76,156.05 L806.09,157.33 L806.20,158.61 L806.10,159.89 L805.82,161.17 L805.40,162.44 L804.91,163.72 L804.43,164.99 L804.01,166.27 L803.70,167.54 L803.52,168.82 L803.50,170.10 L803.60,171.38"/>
<path d="M808.12,153.51 L808.75,154.79 L809.26,156.07 L809.59,157.35 L809.70,158.63 L809.60,159.91 L809.32,161.19 L808.90,162.46 L808.41,163.74 L807.93,165.01 L807.51,166.29 L807.20,167.57 L807.02,168.84 L807.00,170.12 L807.10,171.40"/>
<path d="M805.29,190.79 L805.41,189.51 L805.40,188.24 L805.24,186.96 L804.94,185.67 L804.54,184.39 L804.07,183.11 L803.60,181.83 L803.20,180.55 L802.93,179.27 L802.85,177.99 L802.98,176.71 L803.32,175.44 L803.84,174.16 L804.50,172.89"/>
<path d="M808.79,190.81 L808.91,189.54 L808.90,188.26 L808.74,186.98 L808.44,185.70 L808.04,184.42 L807.57,183.13 L807.10,181.85 L806.70,180.57 L806.43,179.29 L806.35,178.01 L806.48,176.73 L806.82,175.46 L807.34,174.18 L808.00,172.91"/>
<path d="M816.85,153.80 L817.49,155.07 L818.01,156.34 L818.34,157.61 L818.46,158.89 L818.37,160.16 L818.10,161.43 L817.69,162.70 L817.21,163.97 L816.73,165.24 L816.32,166.51 L816.02,167.79 L815.85,169.06 L815.83,170.33 L815.95,171.60"/>
<path d="M820.35,153.80 L820.99,155.07 L821.51,156.34 L821.84,157.61 L821.96,158.89 L821.87,160.16 L821.60,161.43 L821.19,162.70 L820.71,163.97 L820.23,165.24 L819.82,166.51 L819.52,167.79 L819.35,169.06 L819.33,170.33 L819.45,171.60"/>
<path d="M817.75,190.90 L817.87,189.63 L817.85,188.36 L817.68,187.09 L817.38,185.81 L816.97,184.54 L816.49,183.27 L816.01,182.00 L815.60,180.73 L815.33,179.46 L815.24,178.19 L815.36,176.91 L815.69,175.64 L816.21,174.37 L816.85,173.10"/>
<path d="M821.25,190.90 L821.37,189.63 L821.35,188.36 L821.18,187.09 L820.88,185.81 L820.47,184.54 L819.99,183.27 L819.51,182.00 L819.10,180.73 L818.83,179.46 L818.74,178.19 L818.86,176.91 L819.19,175.64 L819.71,174.37 L820.35,173.10"/>
<path d="M829.26,154.00 L829.91,155.27 L830.43,156.55 L830.76,157.82 L830.89,159.09 L830.80,160.36 L830.52,161.63 L830.12,162.90 L829.64,164.18 L829.17,165.45 L828.76,166.72 L828.46,167.99 L828.29,169.26 L828.28,170.54 L828.39,171.81"/>
<path d="M832.76,154.00 L833.41,155.27 L833.93,156.54 L834.26,157.81 L834.39,159.08 L834.30,160.35 L834.02,161.62 L833.62,162.90 L833.14,164.17 L832.67,165.44 L832.26,166.71 L831.96,167.98 L831.79,169.26 L831.78,170.53 L831.89,171.80"/>
<path d="M830.24,191.10 L830.35,189.83 L830.33,188.56 L830.17,187.29 L829.86,186.02 L829.44,184.75 L828.96,183.48 L828.48,182.21 L828.07,180.94 L827.79,179.67 L827.70,178.39 L827.82,177.12 L828.15,175.85 L828.66,174.58 L829.30,173.30"/>
<path d="M833.74,191.10 L833.85,189.82 L833.83,188.55 L833.67,187.28 L833.36,186.01 L832.94,184.74 L832.46,183.47 L831.98,182.20 L831.57,180.93 L831.29,179.66 L831.20,178.39 L831.32,177.11 L831.65,175.84 L832.16,174.57 L832.80,173.30"/>
<path d="M841.48,154.01 L842.13,155.29 L842.66,156.56 L843.00,157.84 L843.13,159.12 L843.04,160.40 L842.78,161.68 L842.38,162.96 L841.91,164.24 L841.44,165.52 L841.03,166.80 L840.74,168.08 L840.58,169.36 L840.57,170.64 L840.69,171.92"/>
<path d="M844.98,153.99 L845.63,155.27 L846.16,156.54 L846.50,157.82 L846.63,159.10 L846.54,160.38 L846.28,161.66 L845.88,162.94 L845.41,164.22 L844.94,165.50 L844.53,166.78 L844.24,168.06 L844.08,169.34 L844.07,170.62 L844.19,171.90"/>
<path d="M842.62,191.31 L842.73,190.03 L842.70,188.75 L842.53,187.47 L842.22,186.20 L841.79,184.92 L841.31,183.65 L840.82,182.37 L840.41,181.09 L840.12,179.82 L840.02,178.54 L840.14,177.26 L840.46,175.98 L840.97,174.70 L841.60,173.41"/>
<path d="M846.12,191.29 L846.23,190.01 L846.20,188.73 L846.03,187.45 L845.72,186.17 L845.29,184.90 L844.81,183.62 L844.32,182.35 L843.91,181.07 L843.62,179.79 L843.52,178.52 L843.64,177.24 L843.96,175.96 L844.47,174.67 L845.10,173.39"/>
</g>
<g fill="url(#hg)">
<circle cx="8.6" cy="148.4" r="5.3"/>
<circle cx="10.4" cy="196.2" r="5.3"/>
<circle cx="21.1" cy="148.2" r="5.3"/>
<circle cx="23.3" cy="195.8" r="5.3"/>
<circle cx="33.9" cy="147.8" r="5.3"/>
<circle cx="36.1" cy="195.2" r="5.3"/>
<circle cx="46.2" cy="147.2" r="5.3"/>
<circle cx="49.0" cy="194.6" r="5.3"/>
<circle cx="58.8" cy="146.6" r="5.3"/>
<circle cx="62.2" cy="194.0" r="5.3"/>
<circle cx="70.9" cy="145.8" r="5.3"/>
<circle cx="75.3" cy="193.2" r="5.3"/>
<circle cx="83.1" cy="144.8" r="5.3"/>
<circle cx="88.9" cy="192.0" r="5.3"/>
<circle cx="95.2" cy="143.6" r="5.3"/>
<circle cx="102.2" cy="190.5" r="5.3"/>
<circle cx="107.2" cy="141.8" r="5.3"/>
<circle cx="115.4" cy="188.5" r="5.3"/>
<circle cx="119.1" cy="140.0" r="5.3"/>
<circle cx="128.7" cy="186.1" r="5.3"/>
<circle cx="130.7" cy="137.5" r="5.3"/>
<circle cx="142.1" cy="183.3" r="5.3"/>
<circle cx="142.1" cy="134.7" r="5.3"/>
<circle cx="155.2" cy="179.9" r="5.3"/>
<circle cx="153.4" cy="131.3" r="5.3"/>
<circle cx="168.4" cy="175.7" r="5.3"/>
<circle cx="241.3" cy="131.9" r="5.3"/>
<circle cx="226.3" cy="176.7" r="5.3"/>
<circle cx="251.6" cy="135.3" r="5.3"/>
<circle cx="239.7" cy="180.9" r="5.3"/>
<circle cx="262.6" cy="138.1" r="5.3"/>
<circle cx="252.8" cy="184.1" r="5.3"/>
<circle cx="273.8" cy="140.2" r="5.3"/>
<circle cx="266.0" cy="186.9" r="5.3"/>
<circle cx="285.3" cy="142.0" r="5.3"/>
<circle cx="279.1" cy="189.1" r="5.3"/>
<circle cx="297.1" cy="143.8" r="5.3"/>
<circle cx="291.9" cy="191.1" r="5.3"/>
<circle cx="309.2" cy="145.4" r="5.3"/>
<circle cx="304.2" cy="192.6" r="5.3"/>
<circle cx="321.0" cy="146.8" r="5.3"/>
<circle cx="317.2" cy="194.2" r="5.3"/>
<circle cx="332.7" cy="148.0" r="5.3"/>
<circle cx="329.9" cy="195.4" r="5.3"/>
<circle cx="344.9" cy="149.0" r="5.3"/>
<circle cx="342.7" cy="196.4" r="5.3"/>
<circle cx="357.0" cy="149.8" r="5.3"/>
<circle cx="355.4" cy="197.2" r="5.3"/>
<circle cx="369.2" cy="150.2" r="5.3"/>
<circle cx="368.4" cy="197.6" r="5.3"/>
<circle cx="381.3" cy="150.8" r="5.3"/>
<circle cx="380.7" cy="198.2" r="5.3"/>
<circle cx="393.5" cy="151.0" r="5.3"/>
<circle cx="393.5" cy="198.4" r="5.3"/>
<circle cx="405.6" cy="151.2" r="5.3"/>
<circle cx="406.2" cy="198.6" r="5.3"/>
<circle cx="419.0" cy="150.8" r="5.3"/>
<circle cx="419.6" cy="198.2" r="5.3"/>
<circle cx="431.1" cy="150.8" r="5.3"/>
<circle cx="432.5" cy="198.0" r="5.3"/>
<circle cx="443.7" cy="150.6" r="5.3"/>
<circle cx="445.7" cy="198.0" r="5.3"/>
<circle cx="456.0" cy="150.2" r="5.3"/>
<circle cx="458.8" cy="197.6" r="5.3"/>
<circle cx="468.4" cy="149.4" r="5.3"/>
<circle cx="471.8" cy="196.8" r="5.3"/>
<circle cx="480.5" cy="148.8" r="5.3"/>
<circle cx="484.9" cy="196.0" r="5.3"/>
<circle cx="492.9" cy="147.8" r="5.3"/>
<circle cx="497.9" cy="194.8" r="5.3"/>
<circle cx="505.0" cy="146.6" r="5.3"/>
<circle cx="510.8" cy="193.4" r="5.3"/>
<circle cx="517.3" cy="145.0" r="5.3"/>
<circle cx="524.1" cy="192.2" r="5.3"/>
<circle cx="529.3" cy="143.6" r="5.3"/>
<circle cx="537.3" cy="190.3" r="5.3"/>
<circle cx="540.9" cy="141.7" r="5.3"/>
<circle cx="550.8" cy="187.9" r="5.3"/>
<circle cx="552.6" cy="139.1" r="5.3"/>
<circle cx="564.0" cy="185.1" r="5.3"/>
<circle cx="564.4" cy="136.6" r="5.3"/>
<circle cx="576.7" cy="182.0" r="5.3"/>
<circle cx="576.7" cy="133.5" r="5.3"/>
<circle cx="589.2" cy="179.0" r="5.3"/>
<circle cx="588.7" cy="130.2" r="5.3"/>
<circle cx="601.4" cy="175.9" r="5.3"/>
<circle cx="679.1" cy="130.8" r="5.3"/>
<circle cx="666.0" cy="176.6" r="5.3"/>
<circle cx="690.1" cy="133.6" r="5.3"/>
<circle cx="678.8" cy="179.7" r="5.3"/>
<circle cx="701.6" cy="136.7" r="5.3"/>
<circle cx="691.1" cy="182.8" r="5.3"/>
<circle cx="712.6" cy="139.3" r="5.3"/>
<circle cx="704.8" cy="185.9" r="5.3"/>
<circle cx="724.1" cy="141.4" r="5.3"/>
<circle cx="717.3" cy="188.3" r="5.3"/>
<circle cx="735.9" cy="143.2" r="5.3"/>
<circle cx="730.1" cy="190.3" r="5.3"/>
<circle cx="747.4" cy="144.8" r="5.3"/>
<circle cx="743.0" cy="191.9" r="5.3"/>
<circle cx="759.2" cy="146.0" r="5.3"/>
<circle cx="755.8" cy="193.0" r="5.3"/>
<circle cx="771.1" cy="147.0" r="5.3"/>
<circle cx="768.5" cy="194.0" r="5.3"/>
<circle cx="783.2" cy="147.6" r="5.3"/>
<circle cx="781.8" cy="194.9" r="5.3"/>
<circle cx="795.1" cy="148.2" r="5.3"/>
<circle cx="794.3" cy="195.4" r="5.3"/>
<circle cx="806.9" cy="148.5" r="5.3"/>
<circle cx="806.6" cy="195.8" r="5.3"/>
<circle cx="819.1" cy="148.8" r="5.3"/>
<circle cx="819.1" cy="195.9" r="5.3"/>
<circle cx="831.5" cy="149.0" r="5.3"/>
<circle cx="831.6" cy="196.1" r="5.3"/>
<circle cx="843.7" cy="149.0" r="5.3"/>
<circle cx="844.0" cy="196.3" r="5.3"/>
</g>
<g fill="none" stroke="#ecd181" stroke-width="1.2" stroke-linecap="round">
<path d="M6.54,373.28 L7.23,374.54 L7.80,375.80 L8.18,377.07 L8.35,378.35 L8.31,379.64 L8.08,380.93 L7.72,382.23 L7.29,383.53 L6.86,384.83 L6.50,386.13 L6.24,387.42 L6.13,388.71 L6.16,389.99 L6.32,391.27"/>
<path d="M10.04,373.15 L10.73,374.41 L11.30,375.67 L11.68,376.94 L11.85,378.22 L11.80,379.50 L11.58,380.80 L11.22,382.09 L10.79,383.39 L10.36,384.70 L10.00,385.99 L9.74,387.29 L9.63,388.58 L9.66,389.86 L9.82,391.14"/>
<path d="M8.86,410.65 L8.93,409.37 L8.86,408.09 L8.65,406.81 L8.30,405.54 L7.83,404.27 L7.31,403.01 L6.78,401.74 L6.33,400.48 L6.00,399.20 L5.86,397.93 L5.93,396.64 L6.22,395.34 L6.69,394.04 L7.28,392.73"/>
<path d="M12.36,410.52 L12.43,409.24 L12.36,407.95 L12.15,406.68 L11.79,405.41 L11.33,404.14 L10.81,402.88 L10.28,401.61 L9.82,400.34 L9.50,399.07 L9.36,397.79 L9.43,396.51 L9.72,395.21 L10.18,393.91 L10.78,392.60"/>
<path d="M19.49,373.10 L20.19,374.34 L20.76,375.60 L21.16,376.86 L21.34,378.13 L21.30,379.41 L21.09,380.69 L20.74,381.99 L20.32,383.29 L19.90,384.58 L19.55,385.88 L19.31,387.17 L19.20,388.45 L19.24,389.73 L19.41,391.00"/>
<path d="M22.98,372.94 L23.68,374.18 L24.26,375.43 L24.65,376.69 L24.83,377.96 L24.80,379.24 L24.58,380.53 L24.23,381.83 L23.82,383.12 L23.40,384.42 L23.05,385.72 L22.80,387.01 L22.70,388.29 L22.74,389.56 L22.91,390.83"/>
<path d="M22.12,410.27 L22.18,408.99 L22.10,407.71 L21.87,406.45 L21.51,405.18 L21.04,403.93 L20.50,402.67 L19.97,401.42 L19.50,400.16 L19.16,398.90 L19.01,397.63 L19.07,396.35 L19.35,395.06 L19.80,393.76 L20.39,392.45"/>
<path d="M25.62,410.11 L25.67,408.82 L25.59,407.55 L25.37,406.28 L25.01,405.02 L24.53,403.76 L24.00,402.51 L23.46,401.26 L23.00,400.00 L22.66,398.74 L22.51,397.47 L22.57,396.19 L22.84,394.90 L23.30,393.60 L23.88,392.29"/>
<path d="M32.53,372.72 L33.24,373.96 L33.83,375.22 L34.23,376.48 L34.42,377.76 L34.40,379.05 L34.19,380.34 L33.86,381.65 L33.45,382.96 L33.05,384.27 L32.70,385.57 L32.47,386.87 L32.37,388.16 L32.43,389.45 L32.61,390.72"/>
<path d="M36.02,372.52 L36.74,373.77 L37.32,375.03 L37.72,376.29 L37.91,377.57 L37.89,378.85 L37.69,380.15 L37.35,381.46 L36.95,382.77 L36.54,384.08 L36.20,385.38 L35.96,386.68 L35.87,387.97 L35.92,389.26 L36.10,390.53"/>
<path d="M35.48,410.08 L35.52,408.79 L35.44,407.51 L35.20,406.24 L34.83,404.97 L34.34,403.71 L33.80,402.45 L33.25,401.20 L32.77,399.94 L32.43,398.67 L32.26,397.39 L32.31,396.10 L32.58,394.80 L33.02,393.49 L33.59,392.17"/>
<path d="M38.98,409.89 L39.02,408.60 L38.93,407.32 L38.70,406.05 L38.32,404.78 L37.84,403.52 L37.29,402.26 L36.75,401.01 L36.27,399.75 L35.92,398.48 L35.76,397.20 L35.81,395.91 L36.07,394.61 L36.52,393.30 L37.09,391.98"/>
<path d="M45.27,372.33 L46.00,373.57 L46.59,374.81 L47.01,376.07 L47.21,377.33 L47.20,378.62 L47.00,379.91 L46.68,381.21 L46.28,382.52 L45.89,383.82 L45.55,385.12 L45.33,386.42 L45.25,387.71 L45.31,388.98 L45.51,390.25"/>
<path d="M48.76,372.11 L49.49,373.35 L50.09,374.59 L50.50,375.84 L50.70,377.11 L50.69,378.39 L50.49,379.69 L50.17,380.99 L49.77,382.29 L49.38,383.60 L49.05,384.90 L48.82,386.20 L48.74,387.48 L48.80,388.76 L49.00,390.03"/>
<path d="M48.54,409.50 L48.57,408.21 L48.47,406.94 L48.23,405.67 L47.84,404.42 L47.35,403.17 L46.79,401.92 L46.23,400.68 L45.75,399.43 L45.39,398.17 L45.22,396.90 L45.25,395.61 L45.51,394.32 L45.94,393.01 L46.50,391.69"/>
<path d="M52.03,409.27 L52.06,407.99 L51.96,406.72 L51.72,405.45 L51.33,404.19 L50.84,402.94 L50.28,401.70 L49.73,400.45 L49.24,399.20 L48.88,397.94 L48.71,396.67 L48.75,395.39 L49.00,394.09 L49.43,392.79 L50.00,391.47"/>
<path d="M58.32,371.75 L59.05,372.98 L59.66,374.22 L60.08,375.47 L60.29,376.74 L60.29,378.02 L60.11,379.32 L59.79,380.62 L59.41,381.93 L59.03,383.24 L58.71,384.55 L58.49,385.85 L58.42,387.13 L58.50,388.41 L58.70,389.68"/>
<path d="M61.81,371.50 L62.54,372.73 L63.15,373.97 L63.57,375.22 L63.78,376.49 L63.78,377.77 L63.60,379.06 L63.28,380.37 L62.90,381.68 L62.52,382.99 L62.20,384.30 L61.99,385.59 L61.91,386.88 L61.99,388.16 L62.19,389.43"/>
<path d="M61.90,408.91 L61.92,407.63 L61.81,406.35 L61.55,405.09 L61.16,403.83 L60.65,402.59 L60.08,401.34 L59.52,400.10 L59.02,398.86 L58.65,397.60 L58.47,396.33 L58.50,395.05 L58.74,393.75 L59.16,392.43 L59.71,391.11"/>
<path d="M65.39,408.66 L65.41,407.37 L65.30,406.10 L65.04,404.84 L64.65,403.58 L64.14,402.33 L63.58,401.09 L63.01,399.85 L62.51,398.60 L62.14,397.35 L61.96,396.08 L61.99,394.79 L62.23,393.49 L62.65,392.18 L63.20,390.86"/>
<path d="M70.92,370.99 L71.68,372.20 L72.32,373.43 L72.77,374.68 L73.01,375.94 L73.03,377.23 L72.88,378.53 L72.59,379.85 L72.24,381.17 L71.88,382.49 L71.59,383.80 L71.40,385.11 L71.36,386.40 L71.46,387.68 L71.69,388.95"/>
<path d="M74.41,370.66 L75.17,371.88 L75.80,373.11 L76.25,374.35 L76.49,375.62 L76.52,376.91 L76.36,378.21 L76.08,379.52 L75.72,380.84 L75.36,382.16 L75.07,383.48 L74.89,384.78 L74.84,386.08 L74.94,387.35 L75.18,388.62"/>
<path d="M75.30,408.15 L75.29,406.86 L75.15,405.58 L74.87,404.32 L74.45,403.07 L73.92,401.84 L73.32,400.60 L72.73,399.37 L72.20,398.13 L71.81,396.88 L71.60,395.61 L71.60,394.32 L71.81,393.02 L72.21,391.69 L72.73,390.36"/>
<path d="M78.78,407.82 L78.77,406.53 L78.64,405.26 L78.35,404.00 L77.93,402.75 L77.40,401.51 L76.81,400.28 L76.21,399.05 L75.69,397.81 L75.29,396.56 L75.08,395.29 L75.08,394.00 L75.30,392.69 L75.69,391.37 L76.21,390.03"/>
<path d="M83.64,370.02 L84.42,371.22 L85.08,372.43 L85.56,373.67 L85.82,374.92 L85.88,376.20 L85.75,377.51 L85.49,378.82 L85.16,380.15 L84.83,381.47 L84.57,382.79 L84.41,384.10 L84.40,385.38 L84.52,386.66 L84.78,387.91"/>
<path d="M87.11,369.62 L87.90,370.82 L88.56,372.03 L89.03,373.27 L89.30,374.52 L89.35,375.80 L89.23,377.11 L88.97,378.42 L88.64,379.75 L88.31,381.07 L88.05,382.39 L87.89,383.70 L87.87,384.99 L88.00,386.26 L88.26,387.52"/>
<path d="M88.79,406.99 L88.76,405.70 L88.59,404.43 L88.28,403.18 L87.84,401.95 L87.28,400.72 L86.66,399.51 L86.04,398.29 L85.49,397.07 L85.07,395.83 L84.83,394.57 L84.80,393.28 L84.99,391.98 L85.36,390.65 L85.85,389.30"/>
<path d="M92.27,406.59 L92.24,405.30 L92.07,404.03 L91.76,402.78 L91.31,401.55 L90.76,400.32 L90.14,399.11 L89.52,397.89 L88.97,396.67 L88.55,395.43 L88.31,394.17 L88.28,392.88 L88.47,391.58 L88.83,390.25 L89.33,388.90"/>
<path d="M96.07,368.66 L96.88,369.84 L97.58,371.04 L98.08,372.26 L98.38,373.51 L98.47,374.79 L98.37,376.10 L98.15,377.43 L97.85,378.76 L97.56,380.10 L97.33,381.42 L97.21,382.73 L97.22,384.02 L97.38,385.29 L97.67,386.55"/>
<path d="M99.53,368.18 L100.35,369.36 L101.04,370.55 L101.55,371.77 L101.85,373.03 L101.93,374.31 L101.84,375.61 L101.61,376.94 L101.32,378.27 L101.03,379.61 L100.79,380.93 L100.67,382.24 L100.69,383.54 L100.85,384.81 L101.14,386.06"/>
<path d="M102.17,405.54 L102.10,404.25 L101.91,402.99 L101.57,401.74 L101.09,400.52 L100.50,399.30 L99.85,398.10 L99.20,396.90 L98.61,395.69 L98.16,394.46 L97.89,393.20 L97.83,391.92 L97.98,390.60 L98.32,389.26 L98.78,387.91"/>
<path d="M105.64,405.05 L105.57,403.76 L105.37,402.50 L105.03,401.25 L104.55,400.03 L103.96,398.82 L103.31,397.62 L102.66,396.41 L102.08,395.20 L101.63,393.97 L101.36,392.72 L101.30,391.43 L101.45,390.12 L101.78,388.78 L102.24,387.42"/>
<path d="M108.46,367.12 L109.31,368.25 L110.04,369.41 L110.59,370.60 L110.93,371.83 L111.06,373.10 L111.01,374.39 L110.83,375.71 L110.58,377.05 L110.33,378.38 L110.15,379.70 L110.07,381.00 L110.13,382.28 L110.33,383.53 L110.66,384.76"/>
<path d="M111.90,366.51 L112.76,367.64 L113.49,368.80 L114.04,369.99 L114.38,371.22 L114.51,372.49 L114.46,373.78 L114.28,375.10 L114.03,376.44 L113.78,377.77 L113.59,379.09 L113.52,380.39 L113.57,381.67 L113.78,382.92 L114.11,384.15"/>
<path d="M115.80,403.41 L115.69,402.14 L115.45,400.90 L115.07,399.68 L114.55,398.48 L113.92,397.30 L113.23,396.14 L112.54,394.97 L111.92,393.79 L111.42,392.59 L111.11,391.36 L111.01,390.09 L111.11,388.78 L111.40,387.44 L111.82,386.08"/>
<path d="M119.25,402.80 L119.14,401.53 L118.90,400.29 L118.52,399.07 L118.00,397.87 L117.37,396.69 L116.68,395.53 L115.99,394.36 L115.36,393.18 L114.87,391.98 L114.56,390.75 L114.45,389.48 L114.56,388.17 L114.85,386.83 L115.26,385.47"/>
<path d="M120.71,364.75 L121.60,365.88 L122.36,367.03 L122.95,368.23 L123.33,369.46 L123.50,370.74 L123.49,372.05 L123.35,373.39 L123.14,374.75 L122.93,376.10 L122.79,377.44 L122.75,378.76 L122.85,380.06 L123.09,381.32 L123.46,382.55"/>
<path d="M124.14,364.04 L125.03,365.17 L125.79,366.33 L126.38,367.52 L126.75,368.75 L126.92,370.03 L126.91,371.34 L126.77,372.68 L126.57,374.04 L126.36,375.39 L126.21,376.74 L126.18,378.06 L126.28,379.35 L126.52,380.61 L126.89,381.85"/>
<path d="M129.17,401.28 L129.02,399.99 L128.74,398.74 L128.32,397.51 L127.77,396.32 L127.10,395.14 L126.37,393.98 L125.65,392.82 L124.99,391.64 L124.46,390.44 L124.11,389.20 L123.96,387.92 L124.03,386.59 L124.28,385.23 L124.65,383.84"/>
<path d="M132.60,400.57 L132.45,399.29 L132.17,398.03 L131.75,396.81 L131.19,395.61 L130.53,394.43 L129.80,393.27 L129.07,392.11 L128.41,390.93 L127.88,389.73 L127.53,388.49 L127.39,387.21 L127.46,385.88 L127.71,384.52 L128.08,383.13"/>
<path d="M132.93,362.50 L133.86,363.56 L134.66,364.65 L135.29,365.78 L135.71,366.97 L135.93,368.21 L135.96,369.49 L135.87,370.80 L135.71,372.14 L135.55,373.47 L135.46,374.78 L135.46,376.07 L135.61,377.33 L135.89,378.55 L136.31,379.74"/>
<path d="M136.33,361.65 L137.25,362.71 L138.06,363.80 L138.69,364.93 L139.11,366.12 L139.32,367.36 L139.36,368.64 L139.27,369.96 L139.11,371.29 L138.95,372.62 L138.85,373.93 L138.86,375.22 L139.00,376.48 L139.29,377.70 L139.70,378.89"/>
<path d="M142.68,397.78 L142.49,396.53 L142.17,395.32 L141.70,394.15 L141.10,393.00 L140.40,391.89 L139.63,390.79 L138.86,389.69 L138.16,388.57 L137.59,387.42 L137.20,386.23 L137.01,384.98 L137.03,383.69 L137.23,382.35 L137.55,380.97"/>
<path d="M146.08,396.93 L145.88,395.68 L145.56,394.47 L145.10,393.30 L144.50,392.15 L143.79,391.04 L143.03,389.94 L142.26,388.84 L141.56,387.72 L140.99,386.57 L140.59,385.38 L140.41,384.13 L140.43,382.84 L140.62,381.50 L140.94,380.12"/>
<path d="M144.70,359.32 L145.67,360.38 L146.51,361.47 L147.18,362.61 L147.65,363.80 L147.91,365.06 L147.99,366.36 L147.95,367.70 L147.84,369.06 L147.73,370.42 L147.68,371.77 L147.73,373.08 L147.92,374.35 L148.25,375.59 L148.71,376.79"/>
<path d="M148.07,358.37 L149.03,359.42 L149.88,360.51 L150.55,361.65 L151.01,362.85 L151.27,364.10 L151.36,365.41 L151.31,366.75 L151.20,368.11 L151.09,369.47 L151.04,370.81 L151.10,372.13 L151.29,373.40 L151.62,374.63 L152.08,375.83"/>
<path d="M155.74,394.96 L155.50,393.70 L155.13,392.47 L154.63,391.29 L153.99,390.14 L153.24,389.02 L152.43,387.92 L151.62,386.82 L150.88,385.70 L150.27,384.55 L149.83,383.34 L149.60,382.08 L149.57,380.76 L149.72,379.39 L149.99,377.99"/>
<path d="M159.11,394.00 L158.87,392.74 L158.50,391.52 L157.99,390.33 L157.35,389.18 L156.61,388.07 L155.80,386.97 L154.99,385.87 L154.25,384.75 L153.64,383.59 L153.20,382.39 L152.97,381.13 L152.94,379.81 L153.09,378.44 L153.36,377.03"/>
<path d="M156.72,356.46 L157.75,357.45 L158.65,358.48 L159.39,359.57 L159.92,360.74 L160.25,361.97 L160.41,363.26 L160.44,364.60 L160.41,365.95 L160.38,367.31 L160.40,368.65 L160.54,369.95 L160.80,371.21 L161.20,372.41 L161.73,373.58"/>
<path d="M160.03,355.31 L161.05,356.30 L161.96,357.33 L162.69,358.42 L163.22,359.59 L163.55,360.82 L163.71,362.11 L163.75,363.45 L163.71,364.80 L163.68,366.16 L163.71,367.50 L163.84,368.80 L164.10,370.06 L164.51,371.26 L165.03,372.43"/>
<path d="M169.78,391.22 L169.47,389.98 L169.04,388.79 L168.46,387.64 L167.76,386.54 L166.95,385.47 L166.08,384.43 L165.21,383.38 L164.41,382.32 L163.73,381.21 L163.22,380.03 L162.92,378.79 L162.81,377.48 L162.88,376.11 L163.07,374.70"/>
<path d="M173.09,390.07 L172.78,388.83 L172.34,387.64 L171.77,386.49 L171.06,385.39 L170.25,384.32 L169.38,383.28 L168.52,382.23 L167.71,381.17 L167.03,380.05 L166.53,378.88 L166.22,377.64 L166.12,376.33 L166.19,374.96 L166.38,373.55"/>
<path d="M241.64,356.88 L241.86,358.30 L241.97,359.68 L241.89,361.00 L241.62,362.26 L241.14,363.46 L240.49,364.60 L239.71,365.70 L238.87,366.77 L238.02,367.85 L237.24,368.95 L236.56,370.08 L236.01,371.25 L235.60,372.47 L235.32,373.73"/>
<path d="M244.97,357.94 L245.20,359.36 L245.30,360.74 L245.23,362.07 L244.95,363.33 L244.47,364.52 L243.82,365.66 L243.04,366.76 L242.20,367.84 L241.36,368.91 L240.57,370.01 L239.89,371.14 L239.35,372.32 L238.94,373.53 L238.66,374.79"/>
<path d="M231.13,392.83 L231.63,391.64 L232.00,390.41 L232.24,389.14 L232.34,387.82 L232.33,386.47 L232.27,385.11 L232.20,383.74 L232.20,382.39 L232.33,381.08 L232.63,379.83 L233.14,378.65 L233.84,377.53 L234.73,376.46 L235.73,375.43"/>
<path d="M234.47,393.89 L234.97,392.70 L235.34,391.47 L235.57,390.20 L235.67,388.88 L235.67,387.54 L235.60,386.17 L235.54,384.80 L235.54,383.45 L235.67,382.15 L235.97,380.90 L236.47,379.71 L237.18,378.59 L238.06,377.52 L239.06,376.49"/>
<path d="M252.27,360.58 L252.57,361.97 L252.76,363.33 L252.76,364.64 L252.56,365.91 L252.15,367.11 L251.56,368.27 L250.85,369.40 L250.07,370.51 L249.29,371.63 L248.57,372.75 L247.96,373.91 L247.48,375.10 L247.14,376.32 L246.93,377.58"/>
<path d="M255.66,361.45 L255.96,362.85 L256.14,364.21 L256.15,365.52 L255.95,366.78 L255.54,367.99 L254.95,369.15 L254.24,370.28 L253.46,371.39 L252.68,372.50 L251.96,373.63 L251.35,374.79 L250.87,375.98 L250.53,377.20 L250.32,378.46"/>
<path d="M243.85,396.72 L244.28,395.52 L244.58,394.28 L244.74,393.01 L244.76,391.70 L244.68,390.37 L244.54,389.02 L244.39,387.67 L244.32,386.34 L244.37,385.04 L244.60,383.78 L245.03,382.58 L245.67,381.43 L246.49,380.33 L247.43,379.26"/>
<path d="M247.24,397.60 L247.67,396.40 L247.97,395.16 L248.13,393.89 L248.15,392.58 L248.07,391.25 L247.92,389.90 L247.78,388.55 L247.70,387.21 L247.76,385.91 L247.99,384.66 L248.42,383.46 L249.06,382.31 L249.88,381.21 L250.82,380.14"/>
<path d="M263.48,363.54 L263.85,364.93 L264.10,366.29 L264.17,367.61 L264.03,368.89 L263.68,370.12 L263.15,371.32 L262.49,372.49 L261.76,373.65 L261.03,374.81 L260.37,375.98 L259.81,377.18 L259.39,378.40 L259.11,379.65 L258.96,380.93"/>
<path d="M266.91,364.25 L267.28,365.63 L267.53,366.99 L267.60,368.32 L267.45,369.60 L267.10,370.83 L266.57,372.03 L265.91,373.20 L265.19,374.36 L264.46,375.52 L263.80,376.69 L263.24,377.89 L262.82,379.11 L262.54,380.36 L262.39,381.64"/>
<path d="M256.79,400.33 L257.17,399.10 L257.41,397.84 L257.51,396.55 L257.47,395.24 L257.32,393.90 L257.11,392.55 L256.91,391.19 L256.77,389.86 L256.76,388.55 L256.93,387.27 L257.30,386.04 L257.89,384.85 L258.65,383.70 L259.54,382.58"/>
<path d="M260.22,401.04 L260.59,399.81 L260.83,398.55 L260.93,397.26 L260.89,395.94 L260.75,394.61 L260.54,393.25 L260.33,391.90 L260.19,390.56 L260.18,389.25 L260.35,387.98 L260.73,386.75 L261.32,385.56 L262.08,384.41 L262.97,383.29"/>
<path d="M274.76,365.96 L275.18,367.33 L275.48,368.68 L275.60,370.00 L275.51,371.28 L275.20,372.53 L274.72,373.74 L274.11,374.94 L273.43,376.12 L272.74,377.31 L272.13,378.50 L271.61,379.71 L271.24,380.95 L271.01,382.21 L270.91,383.49"/>
<path d="M278.21,366.54 L278.63,367.91 L278.93,369.25 L279.05,370.57 L278.96,371.85 L278.66,373.10 L278.17,374.32 L277.56,375.51 L276.88,376.70 L276.20,377.88 L275.58,379.08 L275.07,380.29 L274.69,381.53 L274.46,382.79 L274.37,384.07"/>
<path d="M269.50,402.95 L269.82,401.70 L270.01,400.44 L270.06,399.15 L269.97,397.83 L269.77,396.50 L269.51,395.16 L269.25,393.82 L269.06,392.49 L269.00,391.18 L269.12,389.90 L269.45,388.66 L269.99,387.45 L270.71,386.28 L271.56,385.12"/>
<path d="M272.95,403.52 L273.27,402.28 L273.46,401.01 L273.51,399.72 L273.42,398.41 L273.23,397.08 L272.97,395.74 L272.71,394.40 L272.52,393.07 L272.45,391.76 L272.57,390.48 L272.90,389.24 L273.44,388.03 L274.16,386.85 L275.01,385.70"/>
<path d="M286.49,368.05 L286.96,369.40 L287.30,370.73 L287.45,372.03 L287.40,373.31 L287.14,374.56 L286.69,375.78 L286.11,376.99 L285.47,378.18 L284.82,379.38 L284.24,380.59 L283.77,381.81 L283.43,383.04 L283.24,384.30 L283.18,385.58"/>
<path d="M289.96,368.52 L290.42,369.87 L290.76,371.20 L290.92,372.51 L290.87,373.79 L290.60,375.03 L290.16,376.26 L289.58,377.46 L288.93,378.66 L288.29,379.86 L287.71,381.06 L287.23,382.28 L286.90,383.52 L286.71,384.78 L286.65,386.05"/>
<path d="M282.34,404.96 L282.63,403.72 L282.78,402.45 L282.79,401.17 L282.67,399.87 L282.43,398.55 L282.13,397.23 L281.83,395.90 L281.60,394.58 L281.50,393.29 L281.58,392.01 L281.87,390.77 L282.37,389.55 L283.06,388.36 L283.87,387.19"/>
<path d="M285.81,405.44 L286.10,404.19 L286.25,402.93 L286.26,401.65 L286.13,400.34 L285.90,399.03 L285.60,397.70 L285.30,396.38 L285.07,395.06 L284.97,393.76 L285.05,392.49 L285.34,391.24 L285.84,390.03 L286.53,388.84 L287.34,387.66"/>
<path d="M298.31,369.72 L298.81,371.06 L299.19,372.38 L299.38,373.69 L299.35,374.97 L299.12,376.22 L298.71,377.46 L298.16,378.68 L297.55,379.90 L296.93,381.11 L296.38,382.33 L295.94,383.56 L295.63,384.81 L295.48,386.08 L295.45,387.36"/>
<path d="M301.79,370.11 L302.29,371.45 L302.66,372.77 L302.85,374.07 L302.83,375.35 L302.60,376.61 L302.19,377.85 L301.64,379.07 L301.03,380.28 L300.41,381.50 L299.86,382.72 L299.42,383.95 L299.11,385.20 L298.95,386.46 L298.93,387.74"/>
<path d="M295.11,406.78 L295.37,405.53 L295.49,404.26 L295.46,402.97 L295.30,401.67 L295.03,400.36 L294.70,399.04 L294.37,397.72 L294.10,396.41 L293.97,395.11 L294.02,393.84 L294.27,392.58 L294.75,391.35 L295.40,390.14 L296.18,388.95"/>
<path d="M298.59,407.17 L298.84,405.91 L298.97,404.64 L298.94,403.36 L298.78,402.06 L298.51,400.75 L298.18,399.43 L297.84,398.11 L297.58,396.80 L297.45,395.50 L297.49,394.22 L297.75,392.97 L298.23,391.74 L298.88,390.53 L299.66,389.33"/>
<path d="M310.55,371.15 L311.06,372.48 L311.45,373.80 L311.65,375.11 L311.64,376.39 L311.42,377.65 L311.01,378.89 L310.48,380.12 L309.88,381.34 L309.27,382.56 L308.73,383.79 L308.30,385.03 L308.00,386.28 L307.86,387.55 L307.84,388.83"/>
<path d="M314.04,371.50 L314.55,372.84 L314.93,374.16 L315.13,375.46 L315.12,376.75 L314.90,378.01 L314.50,379.25 L313.96,380.48 L313.36,381.70 L312.75,382.92 L312.21,384.15 L311.78,385.39 L311.49,386.64 L311.34,387.91 L311.32,389.19"/>
<path d="M307.67,408.29 L307.91,407.03 L308.02,405.76 L307.99,404.47 L307.82,403.17 L307.53,401.86 L307.19,400.54 L306.84,399.22 L306.57,397.91 L306.42,396.61 L306.46,395.33 L306.71,394.08 L307.17,392.84 L307.82,391.62 L308.59,390.42"/>
<path d="M311.15,408.64 L311.39,407.39 L311.50,406.11 L311.47,404.83 L311.30,403.53 L311.02,402.21 L310.67,400.90 L310.33,399.58 L310.05,398.27 L309.91,396.97 L309.94,395.69 L310.19,394.43 L310.65,393.20 L311.30,391.98 L312.07,390.77"/>
<path d="M322.36,372.81 L322.91,374.13 L323.32,375.44 L323.55,376.73 L323.57,378.01 L323.38,379.27 L323.01,380.52 L322.50,381.76 L321.93,382.99 L321.35,384.22 L320.84,385.46 L320.43,386.70 L320.17,387.96 L320.05,389.23 L320.07,390.50"/>
<path d="M325.85,373.08 L326.40,374.40 L326.81,375.71 L327.04,377.01 L327.06,378.29 L326.87,379.55 L326.50,380.80 L325.99,382.03 L325.41,383.26 L324.84,384.50 L324.33,385.73 L323.92,386.98 L323.66,388.23 L323.54,389.50 L323.55,390.78"/>
<path d="M320.35,409.91 L320.56,408.65 L320.64,407.38 L320.58,406.10 L320.38,404.80 L320.06,403.50 L319.69,402.20 L319.31,400.89 L319.01,399.59 L318.83,398.30 L318.84,397.02 L319.06,395.76 L319.49,394.52 L320.11,393.29 L320.85,392.07"/>
<path d="M323.84,410.18 L324.05,408.92 L324.13,407.65 L324.07,406.37 L323.87,405.08 L323.55,403.78 L323.18,402.47 L322.80,401.16 L322.50,399.86 L322.32,398.57 L322.33,397.30 L322.55,396.04 L322.98,394.79 L323.60,393.56 L324.34,392.35"/>
<path d="M334.44,373.85 L335.00,375.16 L335.43,376.47 L335.68,377.77 L335.72,379.05 L335.55,380.32 L335.19,381.58 L334.71,382.83 L334.15,384.08 L333.59,385.32 L333.10,386.57 L332.71,387.83 L332.47,389.09 L332.37,390.37 L332.40,391.65"/>
<path d="M337.93,374.07 L338.49,375.39 L338.93,376.69 L339.18,377.99 L339.22,379.27 L339.04,380.54 L338.69,381.80 L338.20,383.05 L337.64,384.30 L337.09,385.54 L336.59,386.79 L336.21,388.05 L335.96,389.32 L335.86,390.59 L335.89,391.87"/>
<path d="M332.97,411.12 L333.17,409.86 L333.23,408.58 L333.15,407.29 L332.92,406.00 L332.59,404.70 L332.20,403.39 L331.80,402.08 L331.48,400.78 L331.28,399.49 L331.27,398.21 L331.47,396.94 L331.89,395.68 L332.48,394.44 L333.21,393.21"/>
<path d="M336.47,411.35 L336.66,410.08 L336.72,408.80 L336.64,407.51 L336.42,406.22 L336.09,404.92 L335.69,403.61 L335.30,402.31 L334.97,401.00 L334.78,399.71 L334.76,398.43 L334.97,397.16 L335.38,395.91 L335.98,394.66 L336.70,393.43"/>
<path d="M346.61,374.88 L347.19,376.19 L347.64,377.49 L347.91,378.78 L347.97,380.07 L347.82,381.34 L347.48,382.60 L347.01,383.85 L346.47,385.11 L345.93,386.36 L345.46,387.61 L345.09,388.87 L344.87,390.14 L344.79,391.42 L344.84,392.70"/>
<path d="M350.11,375.05 L350.69,376.36 L351.14,377.66 L351.41,378.95 L351.47,380.24 L351.31,381.51 L350.98,382.77 L350.51,384.02 L349.97,385.28 L349.43,386.53 L348.95,387.78 L348.59,389.04 L348.36,390.31 L348.28,391.59 L348.33,392.87"/>
<path d="M345.70,412.14 L345.87,410.87 L345.92,409.59 L345.82,408.31 L345.57,407.02 L345.22,405.72 L344.81,404.43 L344.39,403.13 L344.05,401.83 L343.84,400.54 L343.81,399.26 L343.99,397.99 L344.38,396.73 L344.96,395.48 L345.67,394.24"/>
<path d="M349.19,412.31 L349.37,411.04 L349.41,409.76 L349.31,408.48 L349.07,407.19 L348.72,405.89 L348.30,404.60 L347.89,403.30 L347.54,402.00 L347.33,400.71 L347.30,399.43 L347.48,398.16 L347.88,396.90 L348.46,395.65 L349.16,394.41"/>
<path d="M358.68,375.72 L359.28,377.02 L359.76,378.31 L360.05,379.60 L360.12,380.88 L359.99,382.15 L359.67,383.41 L359.22,384.68 L358.70,385.94 L358.18,387.19 L357.72,388.46 L357.37,389.72 L357.17,390.99 L357.10,392.26 L357.17,393.54"/>
<path d="M362.18,375.84 L362.78,377.14 L363.25,378.43 L363.54,379.72 L363.62,381.00 L363.48,382.27 L363.17,383.53 L362.71,384.79 L362.19,386.05 L361.68,387.31 L361.22,388.57 L360.87,389.84 L360.66,391.11 L360.60,392.38 L360.67,393.66"/>
<path d="M358.32,412.96 L358.48,411.69 L358.50,410.41 L358.38,409.13 L358.12,407.84 L357.75,406.55 L357.32,405.26 L356.89,403.97 L356.52,402.68 L356.29,401.40 L356.24,400.12 L356.40,398.85 L356.78,397.58 L357.34,396.33 L358.03,395.07"/>
<path d="M361.82,413.08 L361.98,411.80 L362.00,410.53 L361.88,409.25 L361.62,407.96 L361.25,406.67 L360.82,405.38 L360.38,404.09 L360.02,402.80 L359.79,401.52 L359.74,400.24 L359.90,398.97 L360.28,397.70 L360.84,396.45 L361.52,395.19"/>
<path d="M370.95,376.35 L371.56,377.65 L372.05,378.94 L372.36,380.23 L372.45,381.51 L372.33,382.79 L372.03,384.07 L371.59,385.34 L371.09,386.62 L370.59,387.89 L370.14,389.16 L369.81,390.44 L369.62,391.72 L369.58,393.00 L369.66,394.28"/>
<path d="M374.44,376.43 L375.06,377.72 L375.55,379.01 L375.86,380.30 L375.95,381.59 L375.83,382.87 L375.53,384.14 L375.09,385.42 L374.59,386.69 L374.09,387.96 L373.64,389.24 L373.31,390.51 L373.12,391.79 L373.08,393.07 L373.16,394.36"/>
<path d="M371.06,413.77 L371.20,412.49 L371.21,411.21 L371.07,409.92 L370.79,408.64 L370.41,407.34 L369.96,406.05 L369.51,404.76 L369.13,403.47 L368.88,402.18 L368.81,400.90 L368.96,399.62 L369.32,398.34 L369.86,397.07 L370.53,395.80"/>
<path d="M374.56,413.85 L374.70,412.57 L374.71,411.28 L374.57,410.00 L374.29,408.71 L373.91,407.42 L373.46,406.13 L373.01,404.83 L372.63,403.54 L372.38,402.26 L372.31,400.97 L372.46,399.69 L372.82,398.42 L373.36,397.14 L374.03,395.88"/>
<path d="M383.21,376.68 L383.84,377.98 L384.35,379.27 L384.67,380.56 L384.78,381.85 L384.68,383.14 L384.39,384.43 L383.97,385.71 L383.48,387.00 L382.99,388.28 L382.57,389.57 L382.26,390.86 L382.08,392.14 L382.05,393.43 L382.15,394.72"/>
<path d="M386.71,376.71 L387.34,378.01 L387.85,379.30 L388.17,380.59 L388.28,381.88 L388.18,383.17 L387.89,384.46 L387.47,385.74 L386.98,387.03 L386.49,388.31 L386.07,389.60 L385.75,390.89 L385.58,392.17 L385.55,393.46 L385.65,394.75"/>
<path d="M383.80,414.29 L383.92,413.00 L383.91,411.71 L383.76,410.42 L383.47,409.13 L383.06,407.84 L382.60,406.54 L382.13,405.25 L381.73,403.96 L381.47,402.66 L381.39,401.37 L381.52,400.09 L381.86,398.80 L382.39,397.51 L383.04,396.23"/>
<path d="M387.30,414.32 L387.42,413.03 L387.41,411.74 L387.26,410.45 L386.97,409.16 L386.56,407.87 L386.10,406.57 L385.63,405.28 L385.23,403.99 L384.97,402.69 L384.89,401.40 L385.02,400.12 L385.36,398.83 L385.89,397.54 L386.54,396.26"/>
<path d="M395.45,377.10 L396.09,378.38 L396.61,379.66 L396.94,380.94 L397.06,382.21 L396.97,383.49 L396.70,384.77 L396.29,386.05 L395.81,387.33 L395.33,388.61 L394.92,389.89 L394.62,391.16 L394.45,392.44 L394.43,393.72 L394.55,395.00"/>
<path d="M398.95,377.10 L399.59,378.38 L400.11,379.66 L400.44,380.94 L400.56,382.21 L400.47,383.49 L400.20,384.77 L399.79,386.05 L399.31,387.33 L398.83,388.61 L398.42,389.89 L398.12,391.16 L397.95,392.44 L397.93,393.72 L398.05,395.00"/>
<path d="M396.35,414.40 L396.47,413.12 L396.45,411.84 L396.28,410.56 L395.98,409.29 L395.57,408.01 L395.09,406.73 L394.61,405.45 L394.20,404.17 L393.93,402.89 L393.84,401.61 L393.96,400.34 L394.29,399.06 L394.81,397.78 L395.45,396.50"/>
<path d="M399.85,414.40 L399.97,413.12 L399.95,411.84 L399.78,410.56 L399.48,409.29 L399.07,408.01 L398.59,406.73 L398.11,405.45 L397.70,404.17 L397.43,402.89 L397.34,401.61 L397.46,400.34 L397.79,399.06 L398.31,397.78 L398.95,396.50"/>
<path d="M407.50,377.32 L408.16,378.60 L408.69,379.88 L409.04,381.15 L409.17,382.44 L409.09,383.72 L408.83,385.00 L408.44,386.29 L407.97,387.58 L407.51,388.86 L407.11,390.15 L406.82,391.44 L406.67,392.72 L406.66,394.00 L406.79,395.28"/>
<path d="M411.00,377.29 L411.66,378.56 L412.19,379.84 L412.54,381.12 L412.67,382.40 L412.59,383.68 L412.33,384.97 L411.93,386.25 L411.47,387.54 L411.01,388.83 L410.61,390.11 L410.32,391.40 L410.17,392.68 L410.16,393.97 L410.29,395.25"/>
<path d="M408.80,414.71 L408.90,413.43 L408.87,412.15 L408.69,410.87 L408.37,409.59 L407.95,408.31 L407.46,407.03 L406.97,405.76 L406.54,404.48 L406.25,403.20 L406.15,401.92 L406.25,400.64 L406.57,399.35 L407.08,398.06 L407.71,396.77"/>
<path d="M412.30,414.68 L412.40,413.39 L412.37,412.11 L412.19,410.83 L411.87,409.55 L411.45,408.28 L410.96,407.00 L410.46,405.72 L410.04,404.44 L409.75,403.16 L409.65,401.88 L409.75,400.60 L410.07,399.31 L410.58,398.03 L411.21,396.74"/>
<path d="M420.96,379.45 L421.63,380.72 L422.17,381.99 L422.53,383.26 L422.68,384.54 L422.61,385.83 L422.36,387.11 L421.98,388.40 L421.53,389.70 L421.08,390.99 L420.70,392.28 L420.42,393.57 L420.28,394.85 L420.29,396.14 L420.43,397.42"/>
<path d="M424.46,379.37 L425.13,380.64 L425.67,381.91 L426.03,383.19 L426.18,384.47 L426.11,385.75 L425.86,387.04 L425.48,388.33 L425.03,389.62 L424.58,390.92 L424.20,392.21 L423.92,393.49 L423.78,394.78 L423.79,396.06 L423.93,397.34"/>
<path d="M422.65,416.83 L422.73,415.54 L422.69,414.26 L422.50,412.98 L422.17,411.71 L421.73,410.43 L421.22,409.16 L420.72,407.89 L420.28,406.62 L419.98,405.34 L419.86,404.06 L419.95,402.78 L420.26,401.49 L420.75,400.19 L421.37,398.90"/>
<path d="M426.15,416.76 L426.23,415.47 L426.19,414.19 L426.00,412.91 L425.67,411.63 L425.22,410.36 L424.72,409.09 L424.22,407.82 L423.78,406.54 L423.48,405.27 L423.36,403.99 L423.45,402.70 L423.76,401.41 L424.25,400.12 L424.87,398.82"/>
<path d="M433.90,379.42 L434.56,380.70 L435.09,381.98 L435.44,383.25 L435.57,384.54 L435.49,385.82 L435.23,387.10 L434.84,388.39 L434.37,389.68 L433.91,390.96 L433.51,392.25 L433.22,393.54 L433.07,394.82 L433.06,396.10 L433.19,397.38"/>
<path d="M437.40,379.39 L438.06,380.66 L438.59,381.94 L438.94,383.22 L439.07,384.50 L438.99,385.78 L438.73,387.07 L438.33,388.35 L437.87,389.64 L437.41,390.93 L437.01,392.21 L436.72,393.50 L436.57,394.78 L436.56,396.07 L436.69,397.35"/>
<path d="M435.20,416.81 L435.30,415.53 L435.27,414.25 L435.09,412.97 L434.77,411.69 L434.35,410.41 L433.86,409.13 L433.37,407.86 L432.94,406.58 L432.65,405.30 L432.55,404.02 L432.65,402.74 L432.97,401.45 L433.48,400.16 L434.11,398.87"/>
<path d="M438.70,416.78 L438.80,415.49 L438.77,414.21 L438.59,412.93 L438.27,411.65 L437.85,410.38 L437.36,409.10 L436.86,407.82 L436.44,406.54 L436.15,405.26 L436.05,403.98 L436.15,402.70 L436.47,401.41 L436.98,400.13 L437.61,398.84"/>
<path d="M446.75,379.70 L447.39,380.98 L447.91,382.26 L448.24,383.54 L448.36,384.81 L448.27,386.09 L448.00,387.37 L447.59,388.65 L447.11,389.93 L446.63,391.21 L446.22,392.49 L445.92,393.76 L445.75,395.04 L445.73,396.32 L445.85,397.60"/>
<path d="M450.25,379.70 L450.89,380.98 L451.41,382.26 L451.74,383.54 L451.86,384.81 L451.77,386.09 L451.50,387.37 L451.09,388.65 L450.61,389.93 L450.13,391.21 L449.72,392.49 L449.42,393.76 L449.25,395.04 L449.23,396.32 L449.35,397.60"/>
<path d="M447.65,417.00 L447.77,415.72 L447.75,414.44 L447.58,413.16 L447.28,411.89 L446.87,410.61 L446.39,409.33 L445.91,408.05 L445.50,406.77 L445.23,405.49 L445.14,404.21 L445.26,402.94 L445.59,401.66 L446.11,400.38 L446.75,399.10"/>
<path d="M451.15,417.00 L451.27,415.72 L451.25,414.44 L451.08,413.16 L450.78,411.89 L450.37,410.61 L449.89,409.33 L449.41,408.05 L449.00,406.77 L448.73,405.49 L448.64,404.21 L448.76,402.94 L449.09,401.66 L449.61,400.38 L450.25,399.10"/>
<path d="M459.68,380.07 L460.30,381.35 L460.80,382.63 L461.11,383.91 L461.21,385.19 L461.10,386.46 L460.81,387.73 L460.38,389.00 L459.89,390.27 L459.39,391.54 L458.96,392.81 L458.63,394.08 L458.45,395.35 L458.41,396.63 L458.51,397.90"/>
<path d="M463.18,380.12 L463.80,381.40 L464.30,382.69 L464.61,383.97 L464.71,385.24 L464.60,386.52 L464.31,387.79 L463.88,389.06 L463.39,390.32 L462.89,391.59 L462.46,392.86 L462.13,394.13 L461.95,395.40 L461.91,396.68 L462.01,397.96"/>
<path d="M460.03,417.28 L460.16,416.01 L460.16,414.73 L460.01,413.45 L459.73,412.17 L459.33,410.89 L458.88,409.61 L458.42,408.33 L458.03,407.05 L457.77,405.77 L457.70,404.49 L457.84,403.22 L458.19,401.95 L458.73,400.68 L459.39,399.42"/>
<path d="M463.53,417.33 L463.66,416.06 L463.66,414.78 L463.51,413.51 L463.23,412.23 L462.83,410.95 L462.38,409.66 L461.92,408.38 L461.53,407.10 L461.27,405.82 L461.20,404.54 L461.34,403.27 L461.69,402.00 L462.23,400.73 L462.89,399.47"/>
<path d="M472.77,380.72 L473.37,382.01 L473.84,383.31 L474.13,384.60 L474.20,385.87 L474.06,387.15 L473.74,388.41 L473.29,389.67 L472.76,390.93 L472.24,392.19 L471.78,393.45 L471.43,394.71 L471.22,395.98 L471.16,397.26 L471.23,398.54"/>
<path d="M476.27,380.84 L476.87,382.14 L477.34,383.43 L477.62,384.72 L477.70,386.00 L477.56,387.27 L477.24,388.54 L476.78,389.80 L476.26,391.06 L475.74,392.31 L475.28,393.58 L474.93,394.84 L474.72,396.11 L474.66,397.38 L474.72,398.66"/>
<path d="M472.33,417.95 L472.49,416.68 L472.52,415.41 L472.40,414.13 L472.14,412.84 L471.78,411.55 L471.35,410.26 L470.92,408.97 L470.55,407.68 L470.32,406.39 L470.28,405.11 L470.44,403.84 L470.82,402.58 L471.39,401.32 L472.07,400.07"/>
<path d="M475.83,418.08 L475.99,416.81 L476.02,415.53 L475.90,414.25 L475.64,412.97 L475.27,411.68 L474.84,410.38 L474.41,409.09 L474.05,407.80 L473.82,406.52 L473.78,405.24 L473.94,403.97 L474.32,402.70 L474.88,401.45 L475.57,400.19"/>
<path d="M485.70,381.68 L486.28,382.98 L486.73,384.28 L487.00,385.57 L487.05,386.85 L486.89,388.12 L486.55,389.37 L486.08,390.63 L485.54,391.87 L485.00,393.12 L484.52,394.37 L484.15,395.63 L483.92,396.89 L483.84,398.16 L483.89,399.44"/>
<path d="M489.19,381.86 L489.77,383.16 L490.22,384.46 L490.49,385.75 L490.55,387.03 L490.39,388.29 L490.05,389.55 L489.58,390.80 L489.04,392.05 L488.50,393.30 L488.02,394.55 L487.65,395.81 L487.42,397.07 L487.34,398.34 L487.38,399.62"/>
<path d="M484.71,418.84 L484.89,417.57 L484.93,416.30 L484.83,415.02 L484.60,413.73 L484.25,412.44 L483.84,411.14 L483.42,409.85 L483.08,408.55 L482.87,407.27 L482.84,405.99 L483.03,404.72 L483.43,403.47 L484.01,402.22 L484.71,400.98"/>
<path d="M488.21,419.02 L488.38,417.75 L488.43,416.48 L488.33,415.20 L488.09,413.91 L487.74,412.62 L487.33,411.32 L486.92,410.02 L486.58,408.73 L486.37,407.45 L486.34,406.17 L486.52,404.90 L486.92,403.65 L487.50,402.40 L488.21,401.16"/>
<path d="M498.53,382.54 L499.09,383.86 L499.52,385.17 L499.77,386.47 L499.80,387.75 L499.63,389.02 L499.27,390.28 L498.78,391.53 L498.22,392.77 L497.66,394.02 L497.16,395.27 L496.77,396.52 L496.53,397.79 L496.42,399.06 L496.45,400.34"/>
<path d="M502.02,382.77 L502.58,384.09 L503.01,385.40 L503.26,386.70 L503.29,387.98 L503.12,389.25 L502.76,390.51 L502.27,391.76 L501.71,393.00 L501.15,394.25 L500.65,395.50 L500.27,396.75 L500.02,398.02 L499.92,399.29 L499.94,400.57"/>
<path d="M496.98,419.82 L497.18,418.55 L497.25,417.28 L497.17,415.99 L496.95,414.69 L496.62,413.39 L496.23,412.08 L495.83,410.78 L495.51,409.47 L495.32,408.18 L495.31,406.90 L495.51,405.63 L495.93,404.38 L496.53,403.13 L497.26,401.90"/>
<path d="M500.48,420.05 L500.67,418.78 L500.74,417.51 L500.66,416.22 L500.44,414.92 L500.11,413.62 L499.72,412.31 L499.33,411.01 L499.00,409.70 L498.81,408.41 L498.80,407.13 L499.01,405.86 L499.42,404.61 L500.02,403.36 L500.75,402.13"/>
<path d="M511.46,383.50 L512.00,384.84 L512.41,386.16 L512.64,387.46 L512.65,388.75 L512.46,390.03 L512.08,391.28 L511.57,392.53 L510.99,393.77 L510.42,395.01 L509.90,396.26 L509.49,397.52 L509.23,398.78 L509.11,400.06 L509.12,401.35"/>
<path d="M514.95,383.78 L515.48,385.12 L515.90,386.44 L516.13,387.74 L516.14,389.03 L515.95,390.31 L515.57,391.56 L515.06,392.81 L514.48,394.05 L513.90,395.29 L513.39,396.54 L512.98,397.80 L512.72,399.06 L512.60,400.34 L512.61,401.63"/>
<path d="M509.36,420.91 L509.57,419.64 L509.66,418.36 L509.60,417.06 L509.40,415.76 L509.09,414.45 L508.71,413.13 L508.34,411.81 L508.04,410.50 L507.87,409.20 L507.88,407.91 L508.10,406.64 L508.53,405.38 L509.15,404.15 L509.90,402.92"/>
<path d="M512.85,421.19 L513.06,419.92 L513.15,418.64 L513.09,417.34 L512.89,416.04 L512.58,414.73 L512.20,413.41 L511.83,412.09 L511.53,410.78 L511.36,409.48 L511.37,408.19 L511.59,406.92 L512.02,405.66 L512.64,404.43 L513.39,403.20"/>
<path d="M524.29,385.07 L524.82,386.40 L525.21,387.72 L525.43,389.03 L525.43,390.31 L525.21,391.58 L524.82,392.82 L524.30,394.06 L523.70,395.29 L523.11,396.52 L522.58,397.75 L522.16,399.00 L521.87,400.25 L521.74,401.53 L521.73,402.81"/>
<path d="M527.78,385.39 L528.30,386.73 L528.70,388.05 L528.91,389.35 L528.91,390.64 L528.70,391.90 L528.31,393.15 L527.78,394.38 L527.19,395.61 L526.59,396.84 L526.06,398.08 L525.64,399.32 L525.36,400.58 L525.22,401.85 L525.21,403.14"/>
<path d="M521.72,422.30 L521.96,421.03 L522.06,419.76 L522.01,418.47 L521.83,417.17 L521.53,415.86 L521.18,414.54 L520.82,413.22 L520.54,411.91 L520.38,410.61 L520.41,409.33 L520.65,408.07 L521.10,406.83 L521.73,405.60 L522.49,404.39"/>
<path d="M525.21,422.62 L525.44,421.36 L525.54,420.08 L525.50,418.80 L525.31,417.49 L525.02,416.18 L524.66,414.87 L524.31,413.55 L524.02,412.24 L523.87,410.94 L523.89,409.66 L524.13,408.39 L524.58,407.15 L525.21,405.93 L525.97,404.71"/>
<path d="M537.03,386.73 L537.54,388.08 L537.92,389.40 L538.11,390.71 L538.10,392.00 L537.87,393.26 L537.46,394.51 L536.92,395.74 L536.31,396.96 L535.70,398.19 L535.16,399.42 L534.72,400.66 L534.42,401.91 L534.27,403.19 L534.24,404.47"/>
<path d="M540.52,387.10 L541.02,388.45 L541.40,389.77 L541.60,391.08 L541.58,392.37 L541.35,393.63 L540.94,394.88 L540.40,396.11 L539.79,397.33 L539.18,398.56 L538.64,399.79 L538.20,401.03 L537.90,402.28 L537.75,403.56 L537.72,404.84"/>
<path d="M533.99,423.99 L534.24,422.72 L534.35,421.45 L534.33,420.16 L534.16,418.85 L533.88,417.53 L533.54,416.21 L533.20,414.89 L532.93,413.57 L532.79,412.27 L532.84,410.98 L533.09,409.72 L533.56,408.48 L534.21,407.26 L534.98,406.06"/>
<path d="M537.47,424.36 L537.72,423.09 L537.83,421.82 L537.81,420.53 L537.64,419.22 L537.36,417.90 L537.02,416.58 L536.68,415.26 L536.41,413.94 L536.27,412.64 L536.32,411.35 L536.57,410.09 L537.04,408.85 L537.69,407.63 L538.46,406.43"/>
<path d="M550.74,388.55 L551.16,389.92 L551.45,391.27 L551.56,392.59 L551.46,393.87 L551.16,395.12 L550.67,396.34 L550.05,397.53 L549.36,398.71 L548.68,399.90 L548.05,401.09 L547.54,402.30 L547.16,403.54 L546.92,404.80 L546.82,406.08"/>
<path d="M554.19,389.14 L554.61,390.51 L554.90,391.86 L555.01,393.18 L554.91,394.46 L554.61,395.71 L554.12,396.93 L553.50,398.12 L552.81,399.30 L552.13,400.49 L551.50,401.68 L550.99,402.89 L550.61,404.13 L550.37,405.39 L550.27,406.67"/>
<path d="M545.32,425.54 L545.65,424.30 L545.84,423.03 L545.90,421.74 L545.81,420.43 L545.62,419.10 L545.37,417.75 L545.12,416.41 L544.93,415.08 L544.87,413.77 L545.00,412.49 L545.33,411.25 L545.88,410.04 L546.60,408.86 L547.46,407.71"/>
<path d="M548.77,426.14 L549.09,424.89 L549.29,423.63 L549.35,422.33 L549.26,421.02 L549.07,419.69 L548.82,418.34 L548.57,417.00 L548.38,415.67 L548.32,414.36 L548.45,413.08 L548.78,411.84 L549.33,410.63 L550.05,409.45 L550.91,408.30"/>
<path d="M563.79,391.55 L564.17,392.93 L564.42,394.29 L564.49,395.61 L564.35,396.89 L564.00,398.13 L563.47,399.33 L562.82,400.50 L562.09,401.66 L561.37,402.82 L560.70,403.99 L560.15,405.18 L559.73,406.40 L559.46,407.66 L559.31,408.93"/>
<path d="M567.22,392.25 L567.60,393.63 L567.85,394.99 L567.91,396.31 L567.78,397.59 L567.43,398.83 L566.90,400.03 L566.24,401.20 L565.52,402.36 L564.80,403.52 L564.13,404.69 L563.58,405.88 L563.16,407.11 L562.89,408.36 L562.74,409.63"/>
<path d="M557.18,428.33 L557.55,427.10 L557.79,425.84 L557.89,424.55 L557.85,423.24 L557.70,421.90 L557.49,420.55 L557.28,419.20 L557.13,417.86 L557.12,416.55 L557.29,415.28 L557.66,414.05 L558.24,412.86 L559.01,411.71 L559.90,410.58"/>
<path d="M560.61,429.03 L560.98,427.80 L561.22,426.54 L561.32,425.26 L561.27,423.94 L561.13,422.60 L560.92,421.25 L560.71,419.90 L560.56,418.56 L560.55,417.25 L560.72,415.98 L561.09,414.75 L561.67,413.56 L562.44,412.41 L563.32,411.29"/>
<path d="M576.62,394.29 L576.97,395.68 L577.19,397.04 L577.24,398.36 L577.08,399.64 L576.71,400.87 L576.16,402.06 L575.48,403.22 L574.74,404.36 L574.00,405.51 L573.31,406.67 L572.74,407.85 L572.30,409.06 L572.00,410.31 L571.84,411.58"/>
<path d="M580.03,395.05 L580.38,396.44 L580.61,397.80 L580.65,399.12 L580.49,400.40 L580.12,401.63 L579.58,402.82 L578.90,403.98 L578.16,405.12 L577.41,406.27 L576.73,407.43 L576.15,408.61 L575.72,409.82 L575.42,411.07 L575.25,412.34"/>
<path d="M569.37,430.93 L569.76,429.70 L570.02,428.45 L570.14,427.16 L570.12,425.85 L570.00,424.51 L569.81,423.16 L569.62,421.80 L569.50,420.47 L569.51,419.16 L569.70,417.89 L570.10,416.66 L570.70,415.49 L571.48,414.35 L572.39,413.24"/>
<path d="M572.79,431.69 L573.18,430.46 L573.44,429.21 L573.56,427.93 L573.54,426.61 L573.41,425.27 L573.23,423.92 L573.04,422.57 L572.92,421.23 L572.93,419.92 L573.12,418.65 L573.51,417.43 L574.12,416.25 L574.90,415.11 L575.81,414.00"/>
<path d="M589.07,397.56 L589.41,398.95 L589.62,400.32 L589.65,401.65 L589.47,402.92 L589.09,404.15 L588.53,405.34 L587.84,406.50 L587.08,407.64 L586.33,408.78 L585.63,409.94 L585.04,411.12 L584.59,412.33 L584.28,413.58 L584.10,414.85"/>
<path d="M592.48,398.35 L592.81,399.75 L593.02,401.12 L593.06,402.44 L592.88,403.72 L592.50,404.95 L591.94,406.14 L591.25,407.29 L590.49,408.44 L589.74,409.58 L589.04,410.73 L588.45,411.91 L588.00,413.13 L587.69,414.37 L587.51,415.65"/>
<path d="M581.43,434.22 L581.83,433.00 L582.10,431.75 L582.24,430.46 L582.23,429.14 L582.12,427.80 L581.95,426.44 L581.78,425.08 L581.67,423.73 L581.70,422.42 L581.90,421.15 L582.31,419.93 L582.92,418.75 L583.72,417.62 L584.64,416.52"/>
<path d="M584.84,435.02 L585.24,433.80 L585.51,432.54 L585.64,431.26 L585.64,429.94 L585.53,428.59 L585.36,427.23 L585.19,425.87 L585.08,424.53 L585.10,423.22 L585.31,421.95 L585.72,420.73 L586.33,419.55 L587.13,418.42 L588.05,417.31"/>
<path d="M601.08,400.87 L601.42,402.25 L601.64,403.60 L601.68,404.92 L601.51,406.19 L601.13,407.40 L600.58,408.58 L599.90,409.73 L599.15,410.86 L598.39,411.99 L597.70,413.14 L597.12,414.31 L596.68,415.51 L596.37,416.75 L596.20,418.01"/>
<path d="M604.49,401.65 L604.83,403.04 L605.05,404.39 L605.09,405.71 L604.92,406.97 L604.54,408.19 L603.99,409.37 L603.31,410.52 L602.56,411.65 L601.80,412.78 L601.11,413.92 L600.53,415.10 L600.09,416.30 L599.78,417.53 L599.61,418.80"/>
<path d="M593.61,437.23 L594.01,436.01 L594.28,434.77 L594.40,433.49 L594.39,432.18 L594.28,430.85 L594.10,429.51 L593.92,428.16 L593.81,426.83 L593.83,425.53 L594.02,424.27 L594.42,423.06 L595.04,421.89 L595.83,420.77 L596.74,419.67"/>
<path d="M597.02,438.01 L597.42,436.80 L597.69,435.56 L597.81,434.28 L597.80,432.97 L597.69,431.64 L597.51,430.29 L597.33,428.95 L597.22,427.62 L597.24,426.32 L597.43,425.06 L597.84,423.84 L598.45,422.68 L599.24,421.56 L600.15,420.46"/>
<path d="M665.89,401.96 L666.91,402.96 L667.81,404.01 L668.54,405.11 L669.07,406.28 L669.40,407.52 L669.55,408.82 L669.58,410.17 L669.54,411.53 L669.50,412.90 L669.52,414.24 L669.65,415.55 L669.91,416.82 L670.30,418.03 L670.82,419.21"/>
<path d="M669.20,400.83 L670.22,401.83 L671.12,402.88 L671.85,403.98 L672.38,405.15 L672.71,406.39 L672.86,407.69 L672.89,409.04 L672.85,410.40 L672.81,411.77 L672.83,413.11 L672.96,414.42 L673.22,415.69 L673.61,416.90 L674.14,418.08"/>
<path d="M678.81,437.00 L678.50,435.76 L678.07,434.55 L677.50,433.39 L676.80,432.28 L676.00,431.20 L675.13,430.14 L674.27,429.09 L673.47,428.01 L672.79,426.89 L672.29,425.70 L671.99,424.45 L671.89,423.13 L671.97,421.76 L672.16,420.34"/>
<path d="M682.12,435.87 L681.82,434.62 L681.38,433.42 L680.81,432.26 L680.11,431.15 L679.31,430.07 L678.44,429.01 L677.58,427.96 L676.78,426.88 L676.10,425.75 L675.60,424.57 L675.30,423.32 L675.20,422.00 L675.28,420.63 L675.48,419.21"/>
<path d="M678.60,397.74 L679.58,398.77 L680.45,399.84 L681.14,400.97 L681.62,402.15 L681.90,403.40 L682.01,404.70 L681.99,406.04 L681.90,407.40 L681.82,408.76 L681.79,410.10 L681.87,411.41 L682.08,412.68 L682.44,413.91 L682.91,415.10"/>
<path d="M681.95,396.72 L682.93,397.76 L683.80,398.83 L684.49,399.95 L684.97,401.14 L685.25,402.39 L685.36,403.69 L685.34,405.03 L685.25,406.39 L685.17,407.75 L685.14,409.09 L685.22,410.40 L685.43,411.67 L685.79,412.89 L686.26,414.08"/>
<path d="M690.26,433.11 L690.00,431.85 L689.61,430.64 L689.08,429.46 L688.42,428.33 L687.66,427.23 L686.83,426.14 L686.00,425.06 L685.24,423.96 L684.61,422.82 L684.15,421.62 L683.90,420.37 L683.84,419.05 L683.97,417.68 L684.21,416.27"/>
<path d="M693.61,432.09 L693.35,430.84 L692.96,429.62 L692.43,428.45 L691.77,427.31 L691.01,426.21 L690.18,425.13 L689.35,424.05 L688.59,422.94 L687.96,421.80 L687.50,420.61 L687.24,419.35 L687.19,418.03 L687.32,416.66 L687.56,415.26"/>
<path d="M691.57,394.40 L692.51,395.48 L693.33,396.60 L693.97,397.76 L694.41,398.97 L694.64,400.23 L694.69,401.54 L694.61,402.88 L694.47,404.24 L694.33,405.61 L694.24,406.95 L694.27,408.27 L694.43,409.55 L694.73,410.80 L695.16,412.01"/>
<path d="M694.96,393.53 L695.90,394.61 L696.72,395.73 L697.36,396.88 L697.80,398.10 L698.03,399.36 L698.08,400.67 L698.00,402.01 L697.86,403.37 L697.72,404.73 L697.63,406.08 L697.66,407.40 L697.82,408.68 L698.12,409.92 L698.55,411.14"/>
<path d="M701.75,430.39 L701.54,429.12 L701.20,427.89 L700.73,426.69 L700.11,425.52 L699.39,424.38 L698.61,423.26 L697.83,422.14 L697.12,421.00 L696.53,419.82 L696.12,418.60 L695.92,417.33 L695.92,416.01 L696.10,414.64 L696.41,413.24"/>
<path d="M705.14,429.52 L704.93,428.25 L704.59,427.01 L704.12,425.81 L703.50,424.65 L702.78,423.51 L702.00,422.39 L701.22,421.26 L700.51,420.12 L699.92,418.95 L699.51,417.73 L699.31,416.46 L699.31,415.14 L699.49,413.77 L699.80,412.37"/>
<path d="M704.39,391.57 L705.30,392.68 L706.08,393.81 L706.69,394.98 L707.08,396.20 L707.27,397.47 L707.28,398.77 L707.16,400.11 L706.97,401.46 L706.79,402.81 L706.66,404.14 L706.64,405.45 L706.76,406.74 L707.02,407.98 L707.41,409.21"/>
<path d="M707.81,390.81 L708.72,391.91 L709.50,393.05 L710.10,394.22 L710.50,395.44 L710.69,396.70 L710.70,398.01 L710.58,399.34 L710.39,400.69 L710.20,402.04 L710.08,403.38 L710.06,404.69 L710.18,405.97 L710.44,407.22 L710.82,408.44"/>
<path d="M713.40,427.71 L713.23,426.44 L712.93,425.20 L712.49,423.99 L711.92,422.81 L711.24,421.66 L710.49,420.52 L709.75,419.37 L709.07,418.22 L708.52,417.03 L708.16,415.81 L707.99,414.54 L708.04,413.22 L708.27,411.86 L708.62,410.47"/>
<path d="M716.81,426.95 L716.64,425.68 L716.35,424.44 L715.91,423.23 L715.33,422.05 L714.65,420.89 L713.91,419.75 L713.16,418.61 L712.49,417.45 L711.94,416.27 L711.57,415.04 L711.41,413.77 L711.46,412.45 L711.68,411.10 L712.03,409.71"/>
<path d="M717.43,389.13 L718.30,390.27 L719.05,391.42 L719.62,392.61 L719.98,393.85 L720.13,395.12 L720.10,396.42 L719.94,397.75 L719.71,399.10 L719.48,400.44 L719.32,401.77 L719.26,403.08 L719.34,404.37 L719.56,405.63 L719.91,406.86"/>
<path d="M720.87,388.48 L721.74,389.61 L722.49,390.76 L723.06,391.95 L723.42,393.19 L723.57,394.46 L723.54,395.76 L723.38,397.09 L723.15,398.44 L722.92,399.78 L722.75,401.11 L722.70,402.42 L722.77,403.71 L723.00,404.97 L723.35,406.20"/>
<path d="M725.34,425.54 L725.21,424.27 L724.95,423.02 L724.55,421.79 L724.01,420.60 L723.36,419.42 L722.65,418.26 L721.94,417.09 L721.30,415.92 L720.79,414.72 L720.46,413.48 L720.34,412.20 L720.42,410.89 L720.69,409.54 L721.08,408.16"/>
<path d="M728.77,424.88 L728.64,423.61 L728.39,422.36 L727.98,421.14 L727.44,419.94 L726.80,418.76 L726.09,417.60 L725.38,416.44 L724.74,415.26 L724.23,414.06 L723.90,412.82 L723.77,411.54 L723.86,410.23 L724.13,408.88 L724.52,407.50"/>
<path d="M730.21,387.00 L731.05,388.16 L731.77,389.33 L732.31,390.53 L732.64,391.77 L732.76,393.05 L732.70,394.35 L732.51,395.68 L732.25,397.02 L731.99,398.35 L731.79,399.68 L731.70,400.99 L731.75,402.28 L731.94,403.54 L732.27,404.78"/>
<path d="M733.66,386.43 L734.50,387.58 L735.22,388.75 L735.76,389.96 L736.09,391.20 L736.21,392.47 L736.15,393.77 L735.96,395.10 L735.70,396.44 L735.44,397.78 L735.24,399.10 L735.15,400.41 L735.20,401.70 L735.40,402.96 L735.72,404.20"/>
<path d="M737.25,423.59 L737.15,422.31 L736.92,421.06 L736.55,419.82 L736.04,418.62 L735.42,417.42 L734.73,416.24 L734.05,415.06 L733.44,413.87 L732.96,412.66 L732.66,411.41 L732.56,410.14 L732.68,408.82 L732.98,407.48 L733.40,406.11"/>
<path d="M740.70,423.01 L740.60,421.74 L740.37,420.48 L740.00,419.25 L739.49,418.04 L738.87,416.85 L738.19,415.67 L737.51,414.49 L736.89,413.29 L736.41,412.08 L736.11,410.84 L736.02,409.56 L736.13,408.24 L736.43,406.90 L736.86,405.53"/>
<path d="M743.27,385.26 L744.08,386.44 L744.78,387.64 L745.28,388.86 L745.58,390.11 L745.67,391.39 L745.57,392.70 L745.35,394.03 L745.05,395.36 L744.76,396.70 L744.53,398.02 L744.41,399.33 L744.42,400.62 L744.58,401.89 L744.87,403.15"/>
<path d="M746.73,384.78 L747.55,385.96 L748.24,387.15 L748.75,388.37 L749.05,389.63 L749.13,390.91 L749.04,392.21 L748.81,393.54 L748.52,394.87 L748.23,396.21 L747.99,397.53 L747.87,398.84 L747.89,400.14 L748.05,401.41 L748.34,402.66"/>
<path d="M749.37,422.14 L749.30,420.85 L749.11,419.59 L748.77,418.34 L748.29,417.12 L747.70,415.90 L747.05,414.70 L746.40,413.50 L745.81,412.29 L745.36,411.06 L745.09,409.80 L745.03,408.52 L745.18,407.20 L745.52,405.86 L745.98,404.51"/>
<path d="M752.84,421.65 L752.77,420.36 L752.57,419.10 L752.23,417.85 L751.75,416.63 L751.16,415.42 L750.51,414.22 L749.86,413.01 L749.28,411.80 L748.83,410.57 L748.56,409.32 L748.50,408.03 L748.65,406.72 L748.98,405.38 L749.44,404.02"/>
<path d="M756.33,383.62 L757.12,384.83 L757.78,386.05 L758.25,387.30 L758.52,388.56 L758.57,389.86 L758.45,391.17 L758.19,392.50 L757.86,393.83 L757.53,395.17 L757.27,396.50 L757.11,397.81 L757.10,399.11 L757.22,400.39 L757.48,401.66"/>
<path d="M759.81,383.23 L760.59,384.43 L761.25,385.66 L761.73,386.90 L762.00,388.17 L762.05,389.46 L761.92,390.77 L761.67,392.10 L761.34,393.43 L761.01,394.77 L760.75,396.10 L760.59,397.41 L760.57,398.71 L760.70,400.00 L760.96,401.27"/>
<path d="M761.50,420.88 L761.46,419.59 L761.30,418.31 L760.99,417.05 L760.54,415.80 L759.98,414.57 L759.36,413.34 L758.74,412.11 L758.19,410.88 L757.77,409.63 L757.53,408.36 L757.50,407.06 L757.69,405.74 L758.06,404.40 L758.55,403.05"/>
<path d="M764.97,420.49 L764.94,419.19 L764.77,417.91 L764.46,416.65 L764.02,415.41 L763.46,414.17 L762.84,412.94 L762.22,411.72 L761.67,410.48 L761.25,409.23 L761.01,407.96 L760.98,406.67 L761.17,405.35 L761.53,404.01 L762.03,402.65"/>
<path d="M769.22,382.69 L769.98,383.90 L770.62,385.13 L771.07,386.37 L771.31,387.63 L771.33,388.91 L771.18,390.21 L770.89,391.52 L770.54,392.84 L770.18,394.16 L769.89,395.47 L769.70,396.77 L769.66,398.06 L769.76,399.33 L769.99,400.60"/>
<path d="M772.71,382.36 L773.47,383.58 L774.10,384.80 L774.55,386.04 L774.79,387.30 L774.82,388.59 L774.66,389.89 L774.38,391.20 L774.02,392.51 L773.67,393.83 L773.37,395.14 L773.19,396.44 L773.14,397.73 L773.24,399.01 L773.48,400.27"/>
<path d="M773.59,419.75 L773.59,418.46 L773.45,417.19 L773.17,415.93 L772.75,414.69 L772.22,413.45 L771.62,412.23 L771.03,411.00 L770.50,409.76 L770.11,408.51 L769.90,407.25 L769.90,405.96 L770.11,404.66 L770.51,403.34 L771.03,402.01"/>
<path d="M777.08,419.42 L777.07,418.14 L776.94,416.87 L776.65,415.61 L776.23,414.36 L775.70,413.13 L775.11,411.90 L774.51,410.67 L773.99,409.44 L773.59,408.19 L773.38,406.92 L773.38,405.64 L773.60,404.33 L773.99,403.01 L774.51,401.68"/>
<path d="M782.06,381.86 L782.80,383.09 L783.42,384.32 L783.86,385.57 L784.08,386.84 L784.09,388.12 L783.92,389.42 L783.61,390.73 L783.24,392.05 L782.87,393.36 L782.56,394.67 L782.36,395.97 L782.30,397.26 L782.38,398.54 L782.60,399.81"/>
<path d="M785.55,381.58 L786.29,382.81 L786.91,384.04 L787.34,385.29 L787.57,386.56 L787.58,387.84 L787.41,389.14 L787.10,390.45 L786.73,391.77 L786.36,393.08 L786.05,394.39 L785.85,395.69 L785.79,396.98 L785.87,398.26 L786.09,399.52"/>
<path d="M785.96,419.02 L785.97,417.74 L785.85,416.46 L785.58,415.20 L785.17,413.95 L784.66,412.71 L784.08,411.47 L783.50,410.23 L782.99,408.99 L782.61,407.73 L782.42,406.46 L782.44,405.18 L782.67,403.87 L783.08,402.56 L783.62,401.23"/>
<path d="M789.45,418.74 L789.46,417.46 L789.33,416.18 L789.07,414.92 L788.66,413.67 L788.15,412.42 L787.57,411.19 L786.99,409.95 L786.48,408.71 L786.10,407.45 L785.91,406.18 L785.93,404.90 L786.15,403.59 L786.57,402.28 L787.11,400.95"/>
<path d="M794.70,381.14 L795.43,382.38 L796.04,383.63 L796.46,384.89 L796.67,386.16 L796.67,387.45 L796.48,388.76 L796.16,390.07 L795.78,391.38 L795.39,392.70 L795.07,394.01 L794.85,395.32 L794.78,396.61 L794.85,397.90 L795.05,399.17"/>
<path d="M798.19,380.90 L798.93,382.14 L799.53,383.39 L799.95,384.65 L800.16,385.92 L800.16,387.21 L799.97,388.51 L799.66,389.82 L799.27,391.14 L798.88,392.46 L798.56,393.77 L798.35,395.07 L798.27,396.37 L798.34,397.65 L798.54,398.93"/>
<path d="M798.21,418.51 L798.23,417.21 L798.13,415.93 L797.87,414.66 L797.48,413.40 L796.98,412.14 L796.41,410.89 L795.85,409.64 L795.35,408.39 L794.99,407.13 L794.80,405.85 L794.84,404.56 L795.08,403.25 L795.50,401.93 L796.06,400.60"/>
<path d="M801.70,418.26 L801.72,416.97 L801.62,415.69 L801.36,414.42 L800.97,413.16 L800.47,411.90 L799.90,410.65 L799.34,409.40 L798.84,408.15 L798.48,406.88 L798.30,405.61 L798.33,404.31 L798.57,403.01 L799.00,401.69 L799.55,400.36"/>
<path d="M807.65,380.72 L808.37,381.96 L808.96,383.20 L809.37,384.45 L809.56,385.72 L809.55,387.00 L809.35,388.28 L809.02,389.58 L808.62,390.88 L808.22,392.18 L807.88,393.48 L807.65,394.77 L807.56,396.05 L807.62,397.32 L807.81,398.59"/>
<path d="M811.14,380.52 L811.86,381.75 L812.45,382.99 L812.86,384.24 L813.06,385.51 L813.04,386.79 L812.84,388.08 L812.51,389.37 L812.11,390.67 L811.71,391.97 L811.37,393.27 L811.14,394.56 L811.06,395.84 L811.11,397.12 L811.30,398.38"/>
<path d="M810.76,417.79 L810.80,416.51 L810.70,415.24 L810.46,413.98 L810.08,412.72 L809.59,411.47 L809.04,410.23 L808.49,408.99 L808.01,407.74 L807.66,406.48 L807.49,405.22 L807.53,403.94 L807.79,402.65 L808.23,401.34 L808.80,400.03"/>
<path d="M814.25,417.58 L814.29,416.30 L814.20,415.03 L813.96,413.77 L813.58,412.51 L813.09,411.27 L812.54,410.02 L811.99,408.78 L811.50,407.53 L811.15,406.28 L810.98,405.01 L811.03,403.73 L811.28,402.44 L811.73,401.13 L812.29,399.82"/>
<path d="M820.51,380.21 L821.22,381.45 L821.80,382.69 L822.19,383.95 L822.38,385.21 L822.35,386.49 L822.14,387.78 L821.80,389.07 L821.39,390.37 L820.98,391.66 L820.63,392.95 L820.39,394.24 L820.29,395.52 L820.33,396.80 L820.51,398.06"/>
<path d="M824.00,380.03 L824.71,381.27 L825.29,382.51 L825.69,383.77 L825.87,385.04 L825.85,386.31 L825.64,387.60 L825.29,388.89 L824.88,390.19 L824.47,391.48 L824.12,392.78 L823.88,394.06 L823.78,395.34 L823.83,396.62 L824.01,397.88"/>
<path d="M823.30,417.28 L823.35,416.00 L823.27,414.73 L823.04,413.46 L822.67,412.21 L822.19,410.96 L821.65,409.71 L821.11,408.46 L820.64,407.21 L820.30,405.95 L820.14,404.68 L820.19,403.41 L820.46,402.12 L820.91,400.82 L821.49,399.51"/>
<path d="M826.80,417.10 L826.84,415.82 L826.76,414.55 L826.53,413.28 L826.16,412.03 L825.69,410.78 L825.14,409.53 L824.60,408.28 L824.13,407.03 L823.79,405.77 L823.63,404.51 L823.69,403.23 L823.96,401.94 L824.41,400.64 L824.99,399.34"/>
<path d="M832.97,379.69 L833.67,380.95 L834.25,382.21 L834.64,383.48 L834.81,384.75 L834.78,386.04 L834.56,387.33 L834.21,388.64 L833.79,389.94 L833.37,391.24 L833.01,392.54 L832.77,393.84 L832.66,395.13 L832.70,396.41 L832.87,397.69"/>
<path d="M836.47,379.54 L837.17,380.79 L837.74,382.05 L838.13,383.32 L838.31,384.60 L838.27,385.89 L838.06,387.18 L837.70,388.48 L837.29,389.78 L836.87,391.09 L836.51,392.39 L836.26,393.68 L836.15,394.97 L836.19,396.26 L836.36,397.54"/>
<path d="M835.53,417.06 L835.59,415.78 L835.51,414.50 L835.29,413.22 L834.93,411.95 L834.46,410.69 L833.93,409.43 L833.40,408.16 L832.93,406.90 L832.60,405.63 L832.45,404.35 L832.51,403.06 L832.79,401.77 L833.25,400.46 L833.84,399.15"/>
<path d="M839.03,416.91 L839.09,415.62 L839.01,414.34 L838.79,413.07 L838.43,411.80 L837.96,410.53 L837.43,409.27 L836.89,408.01 L836.43,406.74 L836.10,405.47 L835.95,404.20 L836.01,402.91 L836.29,401.61 L836.75,400.30 L837.33,398.99"/>
</g>
<g fill="url(#hg)">
<circle cx="8.6" cy="368.2" r="5.3"/>
<circle cx="10.4" cy="415.6" r="5.3"/>
<circle cx="21.5" cy="368.0" r="5.3"/>
<circle cx="23.7" cy="415.2" r="5.3"/>
<circle cx="34.5" cy="367.6" r="5.3"/>
<circle cx="37.1" cy="415.0" r="5.3"/>
<circle cx="47.2" cy="367.2" r="5.3"/>
<circle cx="50.2" cy="414.4" r="5.3"/>
<circle cx="60.2" cy="366.6" r="5.3"/>
<circle cx="63.6" cy="413.8" r="5.3"/>
<circle cx="72.7" cy="365.8" r="5.3"/>
<circle cx="77.1" cy="413.0" r="5.3"/>
<circle cx="85.3" cy="364.8" r="5.3"/>
<circle cx="90.7" cy="411.8" r="5.3"/>
<circle cx="97.6" cy="363.4" r="5.3"/>
<circle cx="104.2" cy="410.3" r="5.3"/>
<circle cx="109.8" cy="361.8" r="5.3"/>
<circle cx="118.0" cy="408.1" r="5.3"/>
<circle cx="121.9" cy="359.4" r="5.3"/>
<circle cx="131.5" cy="405.9" r="5.3"/>
<circle cx="133.9" cy="357.1" r="5.3"/>
<circle cx="145.2" cy="402.3" r="5.3"/>
<circle cx="145.5" cy="353.9" r="5.3"/>
<circle cx="158.4" cy="399.4" r="5.3"/>
<circle cx="157.2" cy="351.0" r="5.3"/>
<circle cx="172.7" cy="395.5" r="5.3"/>
<circle cx="245.3" cy="352.8" r="5.3"/>
<circle cx="230.9" cy="398.0" r="5.3"/>
<circle cx="255.7" cy="356.3" r="5.3"/>
<circle cx="243.9" cy="401.9" r="5.3"/>
<circle cx="266.7" cy="359.1" r="5.3"/>
<circle cx="257.1" cy="405.5" r="5.3"/>
<circle cx="277.8" cy="361.4" r="5.3"/>
<circle cx="270.0" cy="408.1" r="5.3"/>
<circle cx="289.4" cy="363.4" r="5.3"/>
<circle cx="283.0" cy="410.1" r="5.3"/>
<circle cx="301.1" cy="365.0" r="5.3"/>
<circle cx="295.9" cy="411.9" r="5.3"/>
<circle cx="313.3" cy="366.4" r="5.3"/>
<circle cx="308.5" cy="413.4" r="5.3"/>
<circle cx="325.0" cy="368.0" r="5.3"/>
<circle cx="321.3" cy="415.0" r="5.3"/>
<circle cx="337.0" cy="369.0" r="5.3"/>
<circle cx="334.0" cy="416.2" r="5.3"/>
<circle cx="349.1" cy="370.0" r="5.3"/>
<circle cx="346.8" cy="417.2" r="5.3"/>
<circle cx="361.1" cy="370.8" r="5.3"/>
<circle cx="359.5" cy="418.0" r="5.3"/>
<circle cx="373.3" cy="371.4" r="5.3"/>
<circle cx="372.3" cy="418.8" r="5.3"/>
<circle cx="385.5" cy="371.7" r="5.3"/>
<circle cx="385.1" cy="419.3" r="5.3"/>
<circle cx="397.7" cy="372.1" r="5.3"/>
<circle cx="397.7" cy="419.4" r="5.3"/>
<circle cx="409.7" cy="372.3" r="5.3"/>
<circle cx="410.2" cy="419.7" r="5.3"/>
<circle cx="423.1" cy="374.4" r="5.3"/>
<circle cx="424.1" cy="421.8" r="5.3"/>
<circle cx="436.1" cy="374.4" r="5.3"/>
<circle cx="436.6" cy="421.8" r="5.3"/>
<circle cx="449.0" cy="374.7" r="5.3"/>
<circle cx="449.0" cy="422.0" r="5.3"/>
<circle cx="462.0" cy="375.1" r="5.3"/>
<circle cx="461.3" cy="422.3" r="5.3"/>
<circle cx="475.2" cy="375.8" r="5.3"/>
<circle cx="473.5" cy="423.0" r="5.3"/>
<circle cx="488.2" cy="376.8" r="5.3"/>
<circle cx="485.8" cy="423.9" r="5.3"/>
<circle cx="501.1" cy="377.7" r="5.3"/>
<circle cx="498.0" cy="424.9" r="5.3"/>
<circle cx="514.1" cy="378.7" r="5.3"/>
<circle cx="510.3" cy="426.0" r="5.3"/>
<circle cx="527.0" cy="380.3" r="5.3"/>
<circle cx="522.6" cy="427.4" r="5.3"/>
<circle cx="539.8" cy="382.0" r="5.3"/>
<circle cx="534.8" cy="429.1" r="5.3"/>
<circle cx="553.8" cy="384.0" r="5.3"/>
<circle cx="545.8" cy="430.7" r="5.3"/>
<circle cx="567.0" cy="387.1" r="5.3"/>
<circle cx="557.5" cy="433.5" r="5.3"/>
<circle cx="579.9" cy="389.9" r="5.3"/>
<circle cx="569.6" cy="436.1" r="5.3"/>
<circle cx="592.4" cy="393.2" r="5.3"/>
<circle cx="581.6" cy="439.4" r="5.3"/>
<circle cx="604.4" cy="396.5" r="5.3"/>
<circle cx="593.8" cy="442.4" r="5.3"/>
<circle cx="666.4" cy="396.5" r="5.3"/>
<circle cx="681.7" cy="441.3" r="5.3"/>
<circle cx="679.3" cy="392.3" r="5.3"/>
<circle cx="693.0" cy="437.5" r="5.3"/>
<circle cx="692.5" cy="389.0" r="5.3"/>
<circle cx="704.3" cy="434.9" r="5.3"/>
<circle cx="705.5" cy="386.2" r="5.3"/>
<circle cx="715.8" cy="432.3" r="5.3"/>
<circle cx="718.7" cy="383.8" r="5.3"/>
<circle cx="727.6" cy="430.2" r="5.3"/>
<circle cx="731.6" cy="381.7" r="5.3"/>
<circle cx="739.4" cy="428.3" r="5.3"/>
<circle cx="744.8" cy="380.0" r="5.3"/>
<circle cx="751.4" cy="426.9" r="5.3"/>
<circle cx="758.0" cy="378.4" r="5.3"/>
<circle cx="763.4" cy="425.7" r="5.3"/>
<circle cx="771.0" cy="377.5" r="5.3"/>
<circle cx="775.4" cy="424.6" r="5.3"/>
<circle cx="783.9" cy="376.7" r="5.3"/>
<circle cx="787.7" cy="423.9" r="5.3"/>
<circle cx="796.6" cy="376.0" r="5.3"/>
<circle cx="799.9" cy="423.4" r="5.3"/>
<circle cx="809.6" cy="375.6" r="5.3"/>
<circle cx="812.4" cy="422.7" r="5.3"/>
<circle cx="822.5" cy="375.1" r="5.3"/>
<circle cx="824.9" cy="422.2" r="5.3"/>
<circle cx="835.0" cy="374.6" r="5.3"/>
<circle cx="837.1" cy="422.0" r="5.3"/>
</g>
<path d="M157.4,126.4 L238.2,126.4 L217.8,178.8 L177.8,178.8 Z" fill="#ddb04b" stroke="#ddb04b" stroke-width="0.8"/><path d="M157.4,126.4 L156.7,119.9 C156.8,107.5 179.4,106.0 197.8,106.0 C216.2,106.0 238.8,107.5 238.9,119.9 L238.2,126.4 Z" fill="#759ec6"/><path d="M177.8,178.5 C177.8,188.0 187.8,191.0 197.8,191.0 C207.8,191.0 217.8,188.0 217.8,178.5 Z" fill="#759ec6"/>
<path d="M593.5,127.6 L673.3,127.6 L653.4,180.0 L613.4,180.0 Z" fill="#ddb04b" stroke="#ddb04b" stroke-width="0.8"/><path d="M593.5,127.6 L592.8,121.1 C592.9,109.1 615.2,107.6 633.4,107.6 C651.6,107.6 673.9,109.1 674.0,121.1 L673.3,127.6 Z" fill="#759ec6"/><path d="M613.4,179.7 C613.4,189.2 623.4,192.2 633.4,192.2 C643.4,192.2 653.4,189.2 653.4,179.7 Z" fill="#759ec6"/>
<path d="M162.2,345.6 L243.0,345.6 L222.8,397.6 L182.3,397.6 Z" fill="#ddb04b" stroke="#ddb04b" stroke-width="0.8"/><path d="M162.2,345.6 L161.5,339.1 C161.6,327.5 184.2,326.0 202.6,326.0 C221.0,326.0 243.6,327.5 243.7,339.1 L243.0,345.6 Z" fill="#759ec6"/><path d="M182.3,397.3 C182.3,406.5 192.5,409.5 202.6,409.5 C212.7,409.5 222.8,406.5 222.8,397.3 Z" fill="#759ec6"/>
<path d="M617.0,390.6 L657.0,390.6 L676.9,443.6 L597.1,443.6 Z" fill="#ddb04b" stroke="#ddb04b" stroke-width="0.8"/><path d="M617.0,390.9 C617.0,381.9 627.0,378.9 637.0,378.9 C647.0,378.9 657.0,381.9 657.0,390.9 Z" fill="#759ec6"/><path d="M597.1,443.6 L596.4,450.1 C596.5,462.1 618.8,463.6 637.0,463.6 C655.2,463.6 677.5,462.1 677.6,450.1 L676.9,443.6 Z" fill="#759ec6"/>
<path d="M199.5,53.3 L198.8,156.0" fill="none" stroke="#383838" stroke-width="1.9" stroke-dasharray="4.4 5.4"/>
<path d="M265.2,56.0 L225.5,161.5" fill="none" stroke="#383838" stroke-width="1.9" stroke-dasharray="4.4 5.4"/>
<path d="M199.4,83.2 C205,75.5 236,74 249.8,91.2" fill="none" stroke="#383838" stroke-width="1.9" stroke-dasharray="4.4 5.4"/>
<path d="M633.1,59.5 L632.3,162.5" fill="none" stroke="#383838" stroke-width="1.9" stroke-dasharray="4.4 5.4"/>
<path d="M698.6,62.2 L659.6,165.0" fill="none" stroke="#383838" stroke-width="1.9" stroke-dasharray="4.4 5.4"/>
<path d="M632.9,90.2 C639,82.5 669,80.5 683.4,97.2" fill="none" stroke="#383838" stroke-width="1.9" stroke-dasharray="4.4 5.4"/>
<path d="M202.8,276.0 L202.3,380.0" fill="none" stroke="#383838" stroke-width="1.9" stroke-dasharray="4.4 5.4"/>
<path d="M268.6,278.4 L230.0,383.5" fill="none" stroke="#383838" stroke-width="1.9" stroke-dasharray="4.4 5.4"/>
<path d="M202.6,306.4 C208,298.5 239,297 253.4,314.0" fill="none" stroke="#383838" stroke-width="1.9" stroke-dasharray="4.4 5.4"/>
<path d="M638.6,418.5 L641.2,521.0" fill="none" stroke="#383838" stroke-width="1.9" stroke-dasharray="4.4 5.4"/>
<path d="M666.6,412.5 L707.4,517.5" fill="none" stroke="#383838" stroke-width="1.9" stroke-dasharray="4.4 5.4"/>
<path d="M640.9,488.4 C650,498.5 680,497.5 691.4,480.6" fill="none" stroke="#383838" stroke-width="1.9" stroke-dasharray="4.4 5.4"/>
<text x="5.0" y="35.9" font-family="Liberation Sans, sans-serif" font-weight="bold" font-size="43" fill="#000">A</text>
<text x="865.0" y="35.9" font-family="Liberation Sans, sans-serif" font-weight="bold" font-size="43" fill="#000">B</text>
<clipPath id="pc"><rect x="959.7" y="14.3" width="723.3999999999999" height="470.5"/></clipPath>
<g clip-path="url(#pc)" fill="none" stroke-width="3.4" stroke-linejoin="round" stroke-linecap="round">
<path d="M1043.01,-3.98 L1043.10,-2.48 L1043.20,-0.99 L1043.30,0.51 L1043.40,2.01 L1043.50,3.50 L1043.59,5.00 L1043.69,6.50 L1043.79,7.99 L1043.90,9.49 L1044.00,10.99 L1044.10,12.48 L1044.20,13.98 L1044.30,15.48 L1044.41,16.97 L1044.51,18.47 L1044.61,19.97 L1044.72,21.46 L1044.82,22.96 L1044.93,24.45 L1045.04,25.95 L1045.14,27.45 L1045.25,28.94 L1045.36,30.44 L1045.47,31.94 L1045.58,33.43 L1045.68,34.93 L1045.79,36.42 L1045.91,37.92 L1046.02,39.42 L1046.13,40.91 L1046.24,42.41 L1046.35,43.90 L1046.47,45.40 L1046.58,46.89 L1046.70,48.39 L1046.81,49.89 L1046.93,51.38 L1047.04,52.88 L1047.16,54.37 L1047.28,55.87 L1047.40,57.36 L1047.52,58.86 L1047.64,60.35 L1047.76,61.85 L1047.88,63.34 L1048.00,64.84 L1048.12,66.33 L1048.25,67.83 L1048.37,69.32 L1048.49,70.82 L1048.62,72.31 L1048.74,73.81 L1048.87,75.30 L1049.00,76.80 L1049.13,78.29 L1049.26,79.79 L1049.39,81.28 L1049.52,82.77 L1049.65,84.27 L1049.78,85.76 L1049.91,87.26 L1050.05,88.75 L1050.18,90.24 L1050.31,91.74 L1050.45,93.23 L1050.59,94.73 L1050.73,96.22 L1050.86,97.71 L1051.00,99.21 L1051.14,100.70 L1051.28,102.19 L1051.43,103.69 L1051.57,105.18 L1051.71,106.67 L1051.86,108.17 L1052.00,109.66 L1052.15,111.15 L1052.30,112.64 L1052.45,114.14 L1052.60,115.63 L1052.75,117.12 L1052.90,118.61 L1053.05,120.11 L1053.20,121.60 L1053.36,123.09 L1053.51,124.58 L1053.67,126.07 L1053.83,127.57 L1053.99,129.06 L1054.15,130.55 L1054.31,132.04 L1054.47,133.53 L1054.63,135.02 L1054.80,136.51 L1054.96,138.01 L1055.13,139.50 L1055.30,140.99 L1055.46,142.48 L1055.63,143.97 L1055.81,145.46 L1055.98,146.95 L1056.15,148.44 L1056.33,149.93 L1056.51,151.42 L1056.68,152.91 L1056.86,154.40 L1057.04,155.88 L1057.23,157.37 L1057.41,158.86 L1057.59,160.35 L1057.78,161.84 L1057.97,163.33 L1058.16,164.82 L1058.35,166.30 L1058.54,167.79 L1058.73,169.28 L1058.93,170.77 L1059.13,172.25 L1059.32,173.74 L1059.52,175.23 L1059.73,176.71 L1059.93,178.20 L1060.13,179.68 L1060.34,181.17 L1060.55,182.66 L1060.76,184.14 L1060.97,185.63 L1061.19,187.11 L1061.40,188.59 L1061.62,190.08 L1061.84,191.56 L1062.06,193.05 L1062.28,194.53 L1062.51,196.01 L1062.74,197.49 L1062.97,198.98 L1063.20,200.46 L1063.43,201.94 L1063.67,203.42 L1063.91,204.90 L1064.15,206.38 L1064.39,207.86 L1064.64,209.34 L1064.88,210.82 L1065.13,212.30 L1065.39,213.78 L1065.64,215.26 L1065.90,216.74 L1066.16,218.21 L1066.42,219.69 L1066.68,221.17 L1066.95,222.64 L1067.22,224.12 L1067.50,225.59 L1067.77,227.07 L1068.05,228.54 L1068.33,230.01 L1068.62,231.49 L1068.91,232.96 L1069.20,234.43 L1069.49,235.90 L1069.79,237.37 L1070.09,238.84 L1070.39,240.31 L1070.70,241.78 L1071.01,243.25 L1071.33,244.71 L1071.64,246.18 L1071.97,247.64 L1072.29,249.11 L1072.62,250.57 L1072.95,252.03 L1073.29,253.50 L1073.63,254.96 L1073.98,256.42 L1074.33,257.88 L1074.68,259.33 L1075.04,260.79 L1075.40,262.25 L1075.77,263.70 L1076.14,265.15 L1076.51,266.60 L1076.90,268.06 L1077.28,269.50 L1077.67,270.95 L1078.07,272.40 L1078.47,273.85 L1078.88,275.29 L1079.29,276.73 L1079.71,278.17 L1080.13,279.61 L1080.56,281.05 L1081.00,282.48 L1081.44,283.92 L1081.89,285.35 L1082.34,286.78 L1082.80,288.21 L1083.27,289.63 L1083.74,291.05 L1084.22,292.47 L1084.71,293.89 L1085.21,295.31 L1085.71,296.72 L1086.22,298.13 L1086.74,299.54 L1087.26,300.95 L1087.80,302.35 L1088.34,303.75 L1088.89,305.14 L1089.45,306.53 L1090.02,307.92 L1090.59,309.31 L1091.18,310.69 L1091.77,312.06 L1092.38,313.44 L1092.99,314.81 L1093.62,316.17 L1094.25,317.53 L1094.90,318.88 L1095.55,320.23 L1096.22,321.58 L1096.90,322.91 L1097.58,324.25 L1098.28,325.57 L1099.00,326.89 L1099.72,328.21 L1100.46,329.51 L1101.20,330.81 L1101.96,332.11 L1102.74,333.39 L1103.52,334.67 L1104.32,335.94 L1105.13,337.20 L1105.96,338.45 L1106.80,339.70 L1107.65,340.93 L1108.51,342.16 L1109.39,343.37 L1110.29,344.58 L1111.20,345.77 L1112.12,346.95 L1113.06,348.12 L1114.01,349.28 L1114.97,350.43 L1115.95,351.57 L1116.95,352.69 L1117.96,353.80 L1118.98,354.90 L1120.02,355.98 L1121.07,357.05 L1122.14,358.10 L1123.22,359.14 L1124.31,360.17 L1125.42,361.18 L1126.55,362.17 L1127.68,363.15 L1128.83,364.12 L1129.99,365.06 L1131.17,366.00 L1132.36,366.91 L1133.56,367.81 L1134.77,368.70 L1135.99,369.56 L1137.23,370.41 L1138.47,371.25 L1139.73,372.07 L1141.00,372.87 L1142.28,373.65 L1143.56,374.42 L1144.86,375.18 L1146.17,375.91 L1147.48,376.63 L1148.81,377.34 L1150.14,378.03 L1151.48,378.70 L1152.83,379.36 L1154.18,380.00 L1155.55,380.63 L1156.91,381.24 L1158.29,381.84 L1159.67,382.43 L1161.06,383.00 L1162.45,383.56 L1163.85,384.10 L1165.25,384.63 L1166.66,385.15 L1168.07,385.65 L1169.49,386.14 L1170.91,386.62 L1172.34,387.09 L1173.77,387.54 L1175.20,387.99 L1176.63,388.42 L1178.07,388.84 L1179.52,389.26 L1180.96,389.66 L1182.41,390.05 L1183.86,390.43 L1185.31,390.80 L1186.77,391.16 L1188.23,391.52 L1189.69,391.86 L1191.15,392.20 L1192.61,392.52 L1194.08,392.84 L1195.55,393.15 L1197.02,393.45 L1198.49,393.75 L1199.96,394.04 L1201.43,394.32 L1202.91,394.59 L1204.38,394.86 L1205.86,395.12 L1207.34,395.37 L1208.82,395.62 L1210.30,395.86 L1211.78,396.09 L1213.26,396.32 L1214.75,396.54 L1216.23,396.76 L1217.72,396.97 L1219.20,397.18 L1220.69,397.38 L1222.17,397.58 L1223.66,397.77 L1225.15,397.96 L1226.64,398.14 L1228.13,398.32 L1229.62,398.49 L1231.11,398.66 L1232.60,398.83 L1234.09,398.99 L1235.58,399.15 L1237.08,399.30 L1238.57,399.45 L1240.06,399.60 L1241.55,399.74 L1243.05,399.88 L1244.54,400.02 L1246.03,400.15 L1247.53,400.28 L1249.02,400.41 L1250.52,400.53 L1252.01,400.65 L1253.51,400.77 L1255.00,400.89 L1256.50,401.00 L1258.00,401.11 L1259.49,401.22 L1260.99,401.32 L1262.49,401.43 L1263.98,401.53 L1265.48,401.62 L1266.98,401.72 L1268.47,401.81 L1269.97,401.90 L1271.47,401.99 L1272.96,402.08 L1274.46,402.17 L1275.96,402.25 L1277.46,402.33 L1278.96,402.41 L1280.45,402.49 L1281.95,402.57 L1283.45,402.64 L1284.95,402.72 L1286.45,402.79 L1287.94,402.86 L1289.44,402.93 L1290.94,402.99 L1292.44,403.06 L1293.94,403.12 L1295.44,403.18 L1296.94,403.25 L1298.43,403.31 L1299.93,403.37 L1301.43,403.42 L1302.93,403.48 L1304.43,403.53 L1305.93,403.59 L1307.43,403.64 L1308.93,403.69 L1310.43,403.74 L1311.93,403.79 L1313.43,403.84 L1314.92,403.89 L1316.42,403.94 L1317.92,403.98 L1319.42,404.03 L1320.92,404.07 L1322.42,404.11 L1323.92,404.15 L1325.42,404.20 L1326.92,404.24 L1328.42,404.28 L1329.92,404.31 L1331.42,404.35 L1332.92,404.39 L1334.42,404.43 L1335.92,404.46 L1337.42,404.50 L1338.92,404.53 L1340.42,404.56 L1341.92,404.60 L1343.41,404.63 L1344.91,404.66 L1346.41,404.69 L1347.91,404.72 L1349.41,404.75 L1350.91,404.78 L1352.41,404.81 L1353.91,404.84 L1355.41,404.87 L1356.91,404.89 L1358.41,404.92 L1359.91,404.95 L1361.41,404.97 L1362.91,405.00 L1364.41,405.02 L1365.91,405.05 L1367.41,405.07 L1368.91,405.09 L1370.41,405.12 L1371.91,405.14 L1373.41,405.16 L1374.91,405.18 L1376.41,405.20 L1377.91,405.22 L1379.41,405.24 L1380.91,405.26 L1382.41,405.28 L1383.91,405.30 L1385.41,405.32 L1386.91,405.34 L1388.41,405.36 L1389.91,405.38 L1391.41,405.40 L1392.91,405.41 L1394.41,405.43 L1395.91,405.45 L1397.41,405.46 L1398.91,405.48 L1400.41,405.50 L1401.91,405.51 L1403.41,405.53 L1404.91,405.54 L1406.41,405.56 L1407.91,405.57 L1409.41,405.58 L1410.91,405.60 L1412.41,405.61 L1413.91,405.63 L1415.41,405.64 L1416.91,405.65 L1418.41,405.67 L1419.91,405.68 L1421.41,405.69 L1422.91,405.70 L1424.41,405.72 L1425.91,405.73 L1427.41,405.74 L1428.91,405.75 L1430.41,405.76 L1431.91,405.77 L1433.41,405.78 L1434.91,405.79 L1436.41,405.80 L1437.91,405.82 L1439.41,405.83 L1440.91,405.84 L1442.41,405.85 L1443.91,405.86 L1445.41,405.86 L1446.91,405.87 L1448.41,405.88 L1449.91,405.89 L1451.41,405.90 L1452.91,405.91 L1454.41,405.92 L1455.91,405.93 L1457.41,405.94 L1458.91,405.94 L1460.41,405.95 L1461.91,405.96 L1463.41,405.97 L1464.91,405.98 L1466.41,405.98 L1467.91,405.99 L1469.41,406.00 L1470.91,406.01 L1472.41,406.01 L1473.91,406.02 L1475.41,406.03 L1476.91,406.03 L1478.41,406.04 L1479.91,406.05 L1481.41,406.05 L1482.91,406.06 L1484.41,406.07 L1485.91,406.07 L1487.41,406.08 L1488.91,406.09 L1490.41,406.09 L1491.91,406.10 L1493.41,406.10 L1494.91,406.11 L1496.41,406.11 L1497.91,406.12 L1499.41,406.13 L1500.91,406.13 L1502.41,406.14 L1503.91,406.14 L1505.41,406.15 L1506.91,406.15 L1508.41,406.16 L1509.91,406.16 L1511.41,406.17 L1512.91,406.17 L1514.41,406.18 L1515.91,406.18 L1517.41,406.19 L1518.91,406.19 L1520.41,406.19 L1521.91,406.20 L1523.41,406.20 L1524.91,406.21 L1526.41,406.21 L1527.91,406.22 L1529.41,406.22 L1530.91,406.22 L1532.41,406.23 L1533.91,406.23 L1535.41,406.24 L1536.91,406.24 L1538.41,406.24 L1539.91,406.25 L1541.41,406.25 L1542.91,406.25 L1544.41,406.26 L1545.91,406.26 L1547.41,406.27 L1548.91,406.27 L1550.41,406.27 L1551.91,406.28 L1553.41,406.28 L1554.91,406.28 L1556.41,406.29 L1557.91,406.29 L1559.41,406.29 L1560.91,406.29 L1562.41,406.30 L1563.91,406.30 L1565.41,406.30 L1566.91,406.31 L1568.41,406.31 L1569.91,406.31 L1571.41,406.32 L1572.91,406.32 L1574.41,406.32 L1575.91,406.32 L1577.41,406.33 L1578.91,406.33 L1580.41,406.33 L1581.91,406.33 L1583.41,406.34 L1584.91,406.34 L1586.41,406.34 L1587.91,406.34 L1589.41,406.35 L1590.91,406.35 L1592.41,406.35 L1593.91,406.35 L1595.41,406.36 L1596.91,406.36 L1598.41,406.36 L1599.91,406.36 L1601.41,406.36 L1602.91,406.37 L1604.41,406.37 L1605.91,406.37 L1607.41,406.37 L1608.91,406.37 L1610.41,406.38 L1611.91,406.38 L1613.41,406.38 L1614.91,406.38 L1616.41,406.38 L1617.91,406.39 L1619.41,406.39 L1620.91,406.39 L1622.41,406.39 L1623.91,406.39 L1625.41,406.40 L1626.91,406.40 L1628.41,406.40 L1629.91,406.40 L1631.41,406.40 L1632.91,406.40 L1634.41,406.41 L1635.91,406.41 L1637.41,406.41 L1638.91,406.41 L1640.41,406.41 L1641.91,406.41 L1643.41,406.42 L1644.91,406.42 L1646.41,406.42 L1647.91,406.42 L1649.41,406.42 L1650.91,406.42 L1652.41,406.42 L1653.91,406.43 L1655.41,406.43 L1656.91,406.43 L1658.41,406.43 L1659.91,406.43 L1661.41,406.43 L1662.91,406.43 L1664.41,406.44 L1665.91,406.44 L1667.41,406.44 L1668.91,406.44 L1670.41,406.44 L1671.91,406.44 L1673.41,406.44 L1674.91,406.44 L1676.41,406.45 L1677.91,406.45 L1679.41,406.45 L1680.91,406.45 L1682.41,406.45 L1683.91,406.45 L1685.41,406.45 L1686.11,406.45" stroke="#5995cf"/>
<path d="M1140.77,-3.98 L1140.98,-2.50 L1141.19,-1.01 L1141.41,0.47 L1141.63,1.96 L1141.84,3.44 L1142.06,4.93 L1142.28,6.41 L1142.50,7.89 L1142.72,9.38 L1142.94,10.86 L1143.17,12.34 L1143.39,13.83 L1143.62,15.31 L1143.84,16.79 L1144.07,18.28 L1144.29,19.76 L1144.52,21.24 L1144.75,22.72 L1144.98,24.21 L1145.21,25.69 L1145.45,27.17 L1145.68,28.65 L1145.91,30.13 L1146.15,31.62 L1146.38,33.10 L1146.62,34.58 L1146.86,36.06 L1147.10,37.54 L1147.34,39.02 L1147.58,40.50 L1147.82,41.98 L1148.06,43.46 L1148.31,44.94 L1148.55,46.42 L1148.80,47.90 L1149.05,49.38 L1149.30,50.86 L1149.55,52.34 L1149.80,53.82 L1150.05,55.30 L1150.30,56.77 L1150.56,58.25 L1150.81,59.73 L1151.07,61.21 L1151.33,62.69 L1151.59,64.16 L1151.85,65.64 L1152.11,67.12 L1152.37,68.59 L1152.64,70.07 L1152.90,71.55 L1153.17,73.02 L1153.44,74.50 L1153.70,75.98 L1153.98,77.45 L1154.25,78.93 L1154.52,80.40 L1154.79,81.88 L1155.07,83.35 L1155.35,84.82 L1155.63,86.30 L1155.90,87.77 L1156.19,89.24 L1156.47,90.72 L1156.75,92.19 L1157.04,93.66 L1157.32,95.14 L1157.61,96.61 L1157.90,98.08 L1158.19,99.55 L1158.49,101.02 L1158.78,102.49 L1159.08,103.96 L1159.37,105.43 L1159.67,106.90 L1159.97,108.37 L1160.28,109.84 L1160.58,111.31 L1160.89,112.78 L1161.19,114.25 L1161.50,115.72 L1161.81,117.18 L1162.12,118.65 L1162.44,120.12 L1162.75,121.58 L1163.07,123.05 L1163.39,124.52 L1163.71,125.98 L1164.03,127.45 L1164.36,128.91 L1164.68,130.37 L1165.01,131.84 L1165.34,133.30 L1165.67,134.76 L1166.01,136.23 L1166.34,137.69 L1166.68,139.15 L1167.02,140.61 L1167.36,142.07 L1167.70,143.53 L1168.05,144.99 L1168.40,146.45 L1168.75,147.91 L1169.10,149.37 L1169.45,150.83 L1169.81,152.28 L1170.17,153.74 L1170.53,155.20 L1170.89,156.65 L1171.26,158.11 L1171.62,159.56 L1171.99,161.01 L1172.37,162.47 L1172.74,163.92 L1173.12,165.37 L1173.50,166.82 L1173.88,168.27 L1174.26,169.72 L1174.65,171.17 L1175.04,172.62 L1175.43,174.07 L1175.82,175.52 L1176.22,176.96 L1176.62,178.41 L1177.02,179.85 L1177.43,181.30 L1177.83,182.74 L1178.25,184.18 L1178.66,185.63 L1179.07,187.07 L1179.49,188.51 L1179.92,189.95 L1180.34,191.39 L1180.77,192.82 L1181.20,194.26 L1181.63,195.70 L1182.07,197.13 L1182.51,198.56 L1182.95,200.00 L1183.40,201.43 L1183.85,202.86 L1184.30,204.29 L1184.76,205.72 L1185.22,207.15 L1185.68,208.57 L1186.15,210.00 L1186.62,211.42 L1187.09,212.85 L1187.57,214.27 L1188.05,215.69 L1188.54,217.11 L1189.03,218.53 L1189.52,219.94 L1190.01,221.36 L1190.51,222.77 L1191.02,224.19 L1191.53,225.60 L1192.04,227.01 L1192.55,228.42 L1193.08,229.82 L1193.60,231.23 L1194.13,232.63 L1194.66,234.03 L1195.20,235.43 L1195.74,236.83 L1196.29,238.23 L1196.84,239.62 L1197.40,241.02 L1197.96,242.41 L1198.52,243.80 L1199.09,245.19 L1199.67,246.57 L1200.25,247.95 L1200.83,249.34 L1201.42,250.71 L1202.02,252.09 L1202.62,253.47 L1203.23,254.84 L1203.84,256.21 L1204.45,257.58 L1205.08,258.94 L1205.70,260.30 L1206.34,261.66 L1206.98,263.02 L1207.62,264.37 L1208.27,265.72 L1208.93,267.07 L1209.59,268.42 L1210.26,269.76 L1210.94,271.10 L1211.62,272.44 L1212.31,273.77 L1213.00,275.10 L1213.70,276.42 L1214.41,277.75 L1215.12,279.07 L1215.85,280.38 L1216.57,281.69 L1217.31,283.00 L1218.05,284.30 L1218.80,285.60 L1219.56,286.90 L1220.32,288.19 L1221.09,289.48 L1221.87,290.76 L1222.65,292.04 L1223.45,293.31 L1224.25,294.58 L1225.06,295.84 L1225.88,297.10 L1226.70,298.35 L1227.53,299.60 L1228.37,300.84 L1229.22,302.08 L1230.08,303.31 L1230.95,304.53 L1231.82,305.75 L1232.70,306.97 L1233.59,308.17 L1234.49,309.37 L1235.40,310.57 L1236.32,311.76 L1237.24,312.94 L1238.18,314.11 L1239.12,315.28 L1240.07,316.44 L1241.03,317.59 L1242.00,318.73 L1242.98,319.87 L1243.97,321.00 L1244.96,322.12 L1245.97,323.23 L1246.98,324.34 L1248.01,325.43 L1249.04,326.52 L1250.08,327.60 L1251.13,328.67 L1252.19,329.73 L1253.26,330.79 L1254.34,331.83 L1255.42,332.86 L1256.52,333.89 L1257.62,334.90 L1258.74,335.91 L1259.86,336.90 L1260.99,337.89 L1262.13,338.86 L1263.28,339.83 L1264.43,340.79 L1265.60,341.73 L1266.77,342.67 L1267.95,343.59 L1269.14,344.50 L1270.34,345.41 L1271.55,346.30 L1272.76,347.18 L1273.98,348.05 L1275.21,348.91 L1276.45,349.76 L1277.69,350.60 L1278.94,351.43 L1280.20,352.24 L1281.47,353.05 L1282.74,353.84 L1284.02,354.63 L1285.30,355.40 L1286.59,356.16 L1287.89,356.91 L1289.20,357.65 L1290.51,358.38 L1291.82,359.10 L1293.15,359.81 L1294.47,360.51 L1295.81,361.19 L1297.15,361.87 L1298.49,362.54 L1299.84,363.19 L1301.19,363.84 L1302.55,364.47 L1303.92,365.10 L1305.28,365.72 L1306.66,366.32 L1308.03,366.92 L1309.41,367.50 L1310.80,368.08 L1312.19,368.65 L1313.58,369.20 L1314.97,369.75 L1316.37,370.29 L1317.78,370.82 L1319.18,371.34 L1320.59,371.86 L1322.01,372.36 L1323.42,372.86 L1324.84,373.34 L1326.26,373.82 L1327.69,374.29 L1329.11,374.76 L1330.54,375.21 L1331.97,375.66 L1333.41,376.10 L1334.84,376.53 L1336.28,376.96 L1337.72,377.37 L1339.17,377.78 L1340.61,378.19 L1342.06,378.58 L1343.51,378.97 L1344.96,379.36 L1346.41,379.73 L1347.86,380.10 L1349.32,380.47 L1350.77,380.83 L1352.23,381.18 L1353.69,381.52 L1355.15,381.86 L1356.62,382.20 L1358.08,382.53 L1359.54,382.85 L1361.01,383.17 L1362.48,383.48 L1363.95,383.78 L1365.41,384.09 L1366.88,384.38 L1368.36,384.68 L1369.83,384.96 L1371.30,385.24 L1372.78,385.52 L1374.25,385.80 L1375.73,386.06 L1377.20,386.33 L1378.68,386.59 L1380.16,386.84 L1381.64,387.09 L1383.12,387.34 L1384.60,387.59 L1386.08,387.82 L1387.56,388.06 L1389.04,388.29 L1390.52,388.52 L1392.01,388.74 L1393.49,388.97 L1394.97,389.18 L1396.46,389.40 L1397.94,389.61 L1399.43,389.82 L1400.92,390.02 L1402.40,390.22 L1403.89,390.42 L1405.38,390.61 L1406.86,390.81 L1408.35,390.99 L1409.84,391.18 L1411.33,391.36 L1412.82,391.54 L1414.31,391.72 L1415.80,391.90 L1417.29,392.07 L1418.78,392.24 L1420.27,392.41 L1421.76,392.57 L1423.25,392.74 L1424.74,392.90 L1426.23,393.05 L1427.73,393.21 L1429.22,393.36 L1430.71,393.51 L1432.20,393.66 L1433.70,393.81 L1435.19,393.95 L1436.68,394.10 L1438.18,394.24 L1439.67,394.38 L1441.16,394.51 L1442.66,394.65 L1444.15,394.78 L1445.64,394.91 L1447.14,395.04 L1448.63,395.17 L1450.13,395.29 L1451.62,395.42 L1453.12,395.54 L1454.61,395.66 L1456.11,395.78 L1457.60,395.90 L1459.10,396.01 L1460.60,396.13 L1462.09,396.24 L1463.59,396.35 L1465.08,396.46 L1466.58,396.57 L1468.08,396.68 L1469.57,396.78 L1471.07,396.89 L1472.56,396.99 L1474.06,397.09 L1475.56,397.19 L1477.05,397.29 L1478.55,397.39 L1480.05,397.48 L1481.55,397.58 L1483.04,397.67 L1484.54,397.76 L1486.04,397.86 L1487.53,397.95 L1489.03,398.04 L1490.53,398.12 L1492.03,398.21 L1493.52,398.30 L1495.02,398.38 L1496.52,398.47 L1498.02,398.55 L1499.51,398.63 L1501.01,398.71 L1502.51,398.79 L1504.01,398.87 L1505.51,398.95 L1507.00,399.02 L1508.50,399.10 L1510.00,399.18 L1511.50,399.25 L1513.00,399.32 L1514.49,399.40 L1515.99,399.47 L1517.49,399.54 L1518.99,399.61 L1520.49,399.68 L1521.99,399.75 L1523.48,399.81 L1524.98,399.88 L1526.48,399.95 L1527.98,400.01 L1529.48,400.08 L1530.98,400.14 L1532.48,400.20 L1533.98,400.26 L1535.47,400.33 L1536.97,400.39 L1538.47,400.45 L1539.97,400.51 L1541.47,400.57 L1542.97,400.62 L1544.47,400.68 L1545.97,400.74 L1547.46,400.80 L1548.96,400.85 L1550.46,400.91 L1551.96,400.96 L1553.46,401.01 L1554.96,401.07 L1556.46,401.12 L1557.96,401.17 L1559.46,401.22 L1560.96,401.27 L1562.46,401.32 L1563.95,401.37 L1565.45,401.42 L1566.95,401.47 L1568.45,401.52 L1569.95,401.57 L1571.45,401.62 L1572.95,401.66 L1574.45,401.71 L1575.95,401.76 L1577.45,401.80 L1578.95,401.85 L1580.45,401.89 L1581.95,401.93 L1583.45,401.98 L1584.94,402.02 L1586.44,402.06 L1587.94,402.10 L1589.44,402.15 L1590.94,402.19 L1592.44,402.23 L1593.94,402.27 L1595.44,402.31 L1596.94,402.35 L1598.44,402.39 L1599.94,402.43 L1601.44,402.46 L1602.94,402.50 L1604.44,402.54 L1605.94,402.58 L1607.44,402.61 L1608.94,402.65 L1610.44,402.69 L1611.94,402.72 L1613.44,402.76 L1614.93,402.79 L1616.43,402.83 L1617.93,402.86 L1619.43,402.89 L1620.93,402.93 L1622.43,402.96 L1623.93,402.99 L1625.43,403.03 L1626.93,403.06 L1628.43,403.09 L1629.93,403.12 L1631.43,403.15 L1632.93,403.19 L1634.43,403.22 L1635.93,403.25 L1637.43,403.28 L1638.93,403.31 L1640.43,403.34 L1641.93,403.37 L1643.43,403.39 L1644.93,403.42 L1646.43,403.45 L1647.93,403.48 L1649.43,403.51 L1650.93,403.54 L1652.43,403.56 L1653.93,403.59 L1655.43,403.62 L1656.93,403.64 L1658.43,403.67 L1659.93,403.70 L1661.43,403.72 L1662.93,403.75 L1664.42,403.77 L1665.92,403.80 L1667.42,403.82 L1668.92,403.85 L1670.42,403.87 L1671.92,403.90 L1673.42,403.92 L1674.92,403.94 L1676.42,403.97 L1677.92,403.99 L1679.42,404.01 L1680.92,404.04 L1682.42,404.06 L1683.92,404.08 L1685.42,404.10 L1686.11,404.11" stroke="#a7c8f4"/>
<path d="M1145.31,-3.98 L1145.54,-2.50 L1145.77,-1.02 L1146.01,0.47 L1146.24,1.95 L1146.47,3.43 L1146.71,4.91 L1146.95,6.39 L1147.18,7.87 L1147.42,9.35 L1147.66,10.83 L1147.90,12.32 L1148.14,13.80 L1148.39,15.28 L1148.63,16.76 L1148.87,18.24 L1149.12,19.72 L1149.37,21.20 L1149.62,22.67 L1149.86,24.15 L1150.12,25.63 L1150.37,27.11 L1150.62,28.59 L1150.87,30.07 L1151.13,31.55 L1151.38,33.02 L1151.64,34.50 L1151.90,35.98 L1152.16,37.46 L1152.42,38.93 L1152.68,40.41 L1152.95,41.89 L1153.21,43.36 L1153.48,44.84 L1153.74,46.32 L1154.01,47.79 L1154.28,49.27 L1154.55,50.74 L1154.82,52.22 L1155.10,53.69 L1155.37,55.17 L1155.65,56.64 L1155.93,58.12 L1156.21,59.59 L1156.49,61.06 L1156.77,62.54 L1157.05,64.01 L1157.34,65.48 L1157.62,66.96 L1157.91,68.43 L1158.20,69.90 L1158.49,71.37 L1158.78,72.84 L1159.07,74.31 L1159.37,75.78 L1159.67,77.25 L1159.96,78.72 L1160.26,80.19 L1160.56,81.66 L1160.87,83.13 L1161.17,84.60 L1161.48,86.07 L1161.79,87.54 L1162.10,89.01 L1162.41,90.47 L1162.72,91.94 L1163.03,93.41 L1163.35,94.87 L1163.67,96.34 L1163.99,97.80 L1164.31,99.27 L1164.63,100.73 L1164.96,102.20 L1165.28,103.66 L1165.61,105.13 L1165.94,106.59 L1166.27,108.05 L1166.61,109.51 L1166.95,110.98 L1167.28,112.44 L1167.62,113.90 L1167.97,115.36 L1168.31,116.82 L1168.66,118.28 L1169.01,119.74 L1169.36,121.20 L1169.71,122.65 L1170.06,124.11 L1170.42,125.57 L1170.78,127.03 L1171.14,128.48 L1171.50,129.94 L1171.87,131.39 L1172.24,132.85 L1172.61,134.30 L1172.98,135.75 L1173.35,137.20 L1173.73,138.66 L1174.11,140.11 L1174.49,141.56 L1174.88,143.01 L1175.26,144.46 L1175.65,145.91 L1176.04,147.35 L1176.44,148.80 L1176.84,150.25 L1177.24,151.69 L1177.64,153.14 L1178.04,154.58 L1178.45,156.03 L1178.86,157.47 L1179.28,158.91 L1179.69,160.35 L1180.11,161.79 L1180.53,163.23 L1180.96,164.67 L1181.39,166.11 L1181.82,167.54 L1182.25,168.98 L1182.69,170.42 L1183.13,171.85 L1183.57,173.28 L1184.02,174.71 L1184.47,176.15 L1184.92,177.58 L1185.37,179.00 L1185.83,180.43 L1186.30,181.86 L1186.76,183.28 L1187.23,184.71 L1187.71,186.13 L1188.18,187.55 L1188.66,188.98 L1189.15,190.40 L1189.63,191.81 L1190.13,193.23 L1190.62,194.65 L1191.12,196.06 L1191.62,197.47 L1192.13,198.89 L1192.64,200.30 L1193.16,201.71 L1193.68,203.11 L1194.20,204.52 L1194.73,205.92 L1195.26,207.33 L1195.79,208.73 L1196.33,210.13 L1196.88,211.52 L1197.43,212.92 L1197.98,214.31 L1198.54,215.71 L1199.10,217.10 L1199.67,218.48 L1200.24,219.87 L1200.82,221.26 L1201.40,222.64 L1201.99,224.02 L1202.58,225.40 L1203.18,226.77 L1203.78,228.15 L1204.39,229.52 L1205.00,230.89 L1205.62,232.25 L1206.25,233.62 L1206.87,234.98 L1207.51,236.34 L1208.15,237.69 L1208.80,239.05 L1209.45,240.40 L1210.11,241.75 L1210.77,243.09 L1211.44,244.43 L1212.12,245.77 L1212.80,247.11 L1213.49,248.44 L1214.18,249.77 L1214.88,251.10 L1215.59,252.42 L1216.31,253.74 L1217.03,255.05 L1217.76,256.36 L1218.49,257.67 L1219.23,258.98 L1219.98,260.28 L1220.74,261.57 L1221.50,262.86 L1222.27,264.15 L1223.05,265.43 L1223.83,266.71 L1224.62,267.99 L1225.42,269.26 L1226.23,270.52 L1227.04,271.78 L1227.86,273.03 L1228.69,274.28 L1229.53,275.53 L1230.38,276.77 L1231.23,278.00 L1232.09,279.23 L1232.96,280.45 L1233.84,281.67 L1234.73,282.88 L1235.62,284.08 L1236.53,285.28 L1237.44,286.47 L1238.36,287.65 L1239.28,288.83 L1240.22,290.00 L1241.17,291.17 L1242.12,292.33 L1243.08,293.48 L1244.06,294.62 L1245.04,295.75 L1246.02,296.88 L1247.02,298.00 L1248.03,299.11 L1249.04,300.22 L1250.07,301.32 L1251.10,302.40 L1252.14,303.48 L1253.19,304.55 L1254.25,305.62 L1255.32,306.67 L1256.39,307.71 L1257.48,308.75 L1258.57,309.78 L1259.67,310.79 L1260.79,311.80 L1261.90,312.80 L1263.03,313.79 L1264.17,314.77 L1265.31,315.74 L1266.46,316.70 L1267.63,317.65 L1268.79,318.59 L1269.97,319.52 L1271.16,320.44 L1272.35,321.35 L1273.55,322.25 L1274.76,323.14 L1275.97,324.02 L1277.19,324.89 L1278.42,325.75 L1279.66,326.60 L1280.91,327.43 L1282.16,328.26 L1283.41,329.08 L1284.68,329.88 L1285.95,330.68 L1287.23,331.47 L1288.51,332.24 L1289.80,333.01 L1291.10,333.76 L1292.40,334.51 L1293.71,335.24 L1295.02,335.97 L1296.34,336.68 L1297.67,337.38 L1298.99,338.08 L1300.33,338.76 L1301.67,339.44 L1303.01,340.10 L1304.36,340.76 L1305.72,341.40 L1307.08,342.04 L1308.44,342.66 L1309.81,343.28 L1311.18,343.89 L1312.55,344.49 L1313.93,345.08 L1315.31,345.66 L1316.70,346.23 L1318.09,346.79 L1319.49,347.35 L1320.88,347.90 L1322.28,348.43 L1323.69,348.96 L1325.09,349.49 L1326.50,350.00 L1327.91,350.50 L1329.33,351.00 L1330.75,351.49 L1332.17,351.98 L1333.59,352.45 L1335.01,352.92 L1336.44,353.38 L1337.87,353.83 L1339.30,354.28 L1340.74,354.72 L1342.17,355.15 L1343.61,355.58 L1345.05,356.00 L1346.49,356.42 L1347.94,356.82 L1349.38,357.23 L1350.83,357.62 L1352.28,358.01 L1353.73,358.39 L1355.18,358.77 L1356.63,359.14 L1358.09,359.51 L1359.54,359.87 L1361.00,360.23 L1362.46,360.58 L1363.92,360.93 L1365.38,361.27 L1366.84,361.60 L1368.30,361.93 L1369.77,362.26 L1371.23,362.58 L1372.70,362.90 L1374.16,363.21 L1375.63,363.52 L1377.10,363.82 L1378.57,364.12 L1380.04,364.42 L1381.51,364.71 L1382.99,365.00 L1384.46,365.28 L1385.93,365.56 L1387.41,365.84 L1388.88,366.11 L1390.36,366.38 L1391.83,366.65 L1393.31,366.91 L1394.79,367.17 L1396.27,367.42 L1397.74,367.67 L1399.22,367.92 L1400.70,368.17 L1402.18,368.41 L1403.66,368.65 L1405.15,368.88 L1406.63,369.12 L1408.11,369.35 L1409.59,369.58 L1411.08,369.80 L1412.56,370.02 L1414.04,370.24 L1415.53,370.46 L1417.01,370.67 L1418.50,370.88 L1419.98,371.09 L1421.47,371.30 L1422.95,371.51 L1424.44,371.71 L1425.93,371.91 L1427.41,372.10 L1428.90,372.30 L1430.39,372.49 L1431.88,372.68 L1433.36,372.87 L1434.85,373.06 L1436.34,373.24 L1437.83,373.43 L1439.32,373.61 L1440.81,373.79 L1442.30,373.96 L1443.79,374.14 L1445.28,374.31 L1446.77,374.48 L1448.26,374.65 L1449.75,374.82 L1451.24,374.99 L1452.73,375.15 L1454.22,375.31 L1455.71,375.47 L1457.20,375.63 L1458.70,375.79 L1460.19,375.95 L1461.68,376.10 L1463.17,376.26 L1464.66,376.41 L1466.16,376.56 L1467.65,376.71 L1469.14,376.85 L1470.64,377.00 L1472.13,377.15 L1473.62,377.29 L1475.11,377.43 L1476.61,377.57 L1478.10,377.71 L1479.60,377.85 L1481.09,377.99 L1482.58,378.12 L1484.08,378.26 L1485.57,378.39 L1487.07,378.52 L1488.56,378.65 L1490.05,378.78 L1491.55,378.91 L1493.04,379.04 L1494.54,379.16 L1496.03,379.29 L1497.53,379.41 L1499.02,379.54 L1500.52,379.66 L1502.01,379.78 L1503.51,379.90 L1505.00,380.02 L1506.50,380.14 L1507.99,380.25 L1509.49,380.37 L1510.98,380.48 L1512.48,380.60 L1513.98,380.71 L1515.47,380.82 L1516.97,380.93 L1518.46,381.04 L1519.96,381.15 L1521.46,381.26 L1522.95,381.37 L1524.45,381.48 L1525.94,381.58 L1527.44,381.69 L1528.94,381.79 L1530.43,381.89 L1531.93,382.00 L1533.43,382.10 L1534.92,382.20 L1536.42,382.30 L1537.92,382.40 L1539.41,382.50 L1540.91,382.60 L1542.41,382.69 L1543.90,382.79 L1545.40,382.89 L1546.90,382.98 L1548.39,383.07 L1549.89,383.17 L1551.39,383.26 L1552.89,383.35 L1554.38,383.44 L1555.88,383.54 L1557.38,383.63 L1558.88,383.71 L1560.37,383.80 L1561.87,383.89 L1563.37,383.98 L1564.86,384.07 L1566.36,384.15 L1567.86,384.24 L1569.36,384.32 L1570.86,384.41 L1572.35,384.49 L1573.85,384.57 L1575.35,384.65 L1576.85,384.74 L1578.34,384.82 L1579.84,384.90 L1581.34,384.98 L1582.84,385.06 L1584.34,385.14 L1585.83,385.21 L1587.33,385.29 L1588.83,385.37 L1590.33,385.45 L1591.83,385.52 L1593.32,385.60 L1594.82,385.67 L1596.32,385.75 L1597.82,385.82 L1599.32,385.89 L1600.81,385.97 L1602.31,386.04 L1603.81,386.11 L1605.31,386.18 L1606.81,386.25 L1608.31,386.32 L1609.80,386.39 L1611.30,386.46 L1612.80,386.53 L1614.30,386.60 L1615.80,386.67 L1617.30,386.73 L1618.80,386.80 L1620.29,386.87 L1621.79,386.93 L1623.29,387.00 L1624.79,387.06 L1626.29,387.13 L1627.79,387.19 L1629.29,387.26 L1630.78,387.32 L1632.28,387.38 L1633.78,387.44 L1635.28,387.51 L1636.78,387.57 L1638.28,387.63 L1639.78,387.69 L1641.28,387.75 L1642.77,387.81 L1644.27,387.87 L1645.77,387.93 L1647.27,387.99 L1648.77,388.04 L1650.27,388.10 L1651.77,388.16 L1653.27,388.22 L1654.76,388.27 L1656.26,388.33 L1657.76,388.38 L1659.26,388.44 L1660.76,388.49 L1662.26,388.55 L1663.76,388.60 L1665.26,388.66 L1666.76,388.71 L1668.26,388.76 L1669.76,388.82 L1671.25,388.87 L1672.75,388.92 L1674.25,388.97 L1675.75,389.02 L1677.25,389.07 L1678.75,389.12 L1680.25,389.17 L1681.75,389.22 L1683.25,389.27 L1684.75,389.32 L1686.11,389.37" stroke="#e5951f"/>
<path d="M1137.27,-3.98 L1137.45,-2.49 L1137.63,-1.00 L1137.81,0.49 L1137.99,1.98 L1138.17,3.47 L1138.36,4.95 L1138.54,6.44 L1138.72,7.93 L1138.91,9.42 L1139.09,10.91 L1139.28,12.40 L1139.47,13.89 L1139.66,15.37 L1139.84,16.86 L1140.03,18.35 L1140.22,19.84 L1140.42,21.33 L1140.61,22.81 L1140.80,24.30 L1141.00,25.79 L1141.19,27.28 L1141.39,28.76 L1141.58,30.25 L1141.78,31.74 L1141.98,33.22 L1142.18,34.71 L1142.38,36.20 L1142.58,37.68 L1142.78,39.17 L1142.98,40.66 L1143.19,42.14 L1143.39,43.63 L1143.60,45.11 L1143.80,46.60 L1144.01,48.09 L1144.22,49.57 L1144.43,51.06 L1144.64,52.54 L1144.85,54.03 L1145.06,55.51 L1145.27,57.00 L1145.49,58.48 L1145.70,59.96 L1145.92,61.45 L1146.14,62.93 L1146.35,64.42 L1146.57,65.90 L1146.79,67.39 L1147.02,68.87 L1147.24,70.35 L1147.46,71.84 L1147.69,73.32 L1147.91,74.80 L1148.14,76.28 L1148.37,77.77 L1148.60,79.25 L1148.83,80.73 L1149.06,82.21 L1149.29,83.69 L1149.53,85.18 L1149.76,86.66 L1150.00,88.14 L1150.24,89.62 L1150.47,91.10 L1150.71,92.58 L1150.96,94.06 L1151.20,95.54 L1151.44,97.02 L1151.69,98.50 L1151.93,99.98 L1152.18,101.46 L1152.43,102.94 L1152.68,104.42 L1152.93,105.90 L1153.18,107.38 L1153.44,108.86 L1153.69,110.33 L1153.95,111.81 L1154.21,113.29 L1154.47,114.77 L1154.73,116.24 L1154.99,117.72 L1155.26,119.20 L1155.53,120.67 L1155.79,122.15 L1156.06,123.62 L1156.33,125.10 L1156.60,126.57 L1156.88,128.05 L1157.15,129.52 L1157.43,131.00 L1157.71,132.47 L1157.99,133.95 L1158.27,135.42 L1158.55,136.89 L1158.84,138.37 L1159.12,139.84 L1159.41,141.31 L1159.70,142.78 L1159.99,144.25 L1160.28,145.72 L1160.58,147.19 L1160.88,148.66 L1161.18,150.13 L1161.48,151.60 L1161.78,153.07 L1162.08,154.54 L1162.39,156.01 L1162.70,157.48 L1163.01,158.95 L1163.32,160.41 L1163.63,161.88 L1163.95,163.35 L1164.27,164.81 L1164.59,166.28 L1164.91,167.74 L1165.23,169.21 L1165.56,170.67 L1165.89,172.14 L1166.22,173.60 L1166.55,175.06 L1166.88,176.52 L1167.22,177.99 L1167.56,179.45 L1167.90,180.91 L1168.25,182.37 L1168.59,183.83 L1168.94,185.29 L1169.29,186.74 L1169.65,188.20 L1170.00,189.66 L1170.36,191.12 L1170.72,192.57 L1171.08,194.03 L1171.45,195.48 L1171.82,196.94 L1172.19,198.39 L1172.56,199.84 L1172.94,201.29 L1173.32,202.74 L1173.70,204.19 L1174.09,205.64 L1174.48,207.09 L1174.87,208.54 L1175.26,209.99 L1175.66,211.44 L1176.05,212.88 L1176.46,214.33 L1176.86,215.77 L1177.27,217.21 L1177.68,218.66 L1178.10,220.10 L1178.52,221.54 L1178.94,222.98 L1179.36,224.42 L1179.79,225.86 L1180.22,227.29 L1180.65,228.73 L1181.09,230.16 L1181.53,231.60 L1181.98,233.03 L1182.43,234.46 L1182.88,235.89 L1183.34,237.32 L1183.80,238.75 L1184.26,240.17 L1184.73,241.60 L1185.20,243.02 L1185.67,244.44 L1186.15,245.87 L1186.64,247.29 L1187.12,248.70 L1187.61,250.12 L1188.11,251.54 L1188.61,252.95 L1189.12,254.36 L1189.62,255.78 L1190.14,257.19 L1190.65,258.59 L1191.18,260.00 L1191.70,261.40 L1192.24,262.81 L1192.77,264.21 L1193.31,265.61 L1193.86,267.00 L1194.41,268.40 L1194.97,269.79 L1195.53,271.18 L1196.09,272.57 L1196.67,273.96 L1197.24,275.34 L1197.82,276.73 L1198.41,278.11 L1199.01,279.48 L1199.60,280.86 L1200.21,282.23 L1200.82,283.60 L1201.44,284.97 L1202.06,286.33 L1202.69,287.70 L1203.32,289.06 L1203.96,290.41 L1204.61,291.77 L1205.26,293.12 L1205.92,294.46 L1206.58,295.81 L1207.26,297.15 L1207.94,298.49 L1208.62,299.82 L1209.31,301.15 L1210.01,302.48 L1210.72,303.80 L1211.43,305.12 L1212.15,306.44 L1212.88,307.75 L1213.62,309.05 L1214.36,310.36 L1215.11,311.66 L1215.87,312.95 L1216.63,314.24 L1217.41,315.53 L1218.19,316.81 L1218.98,318.08 L1219.77,319.35 L1220.58,320.62 L1221.39,321.88 L1222.21,323.13 L1223.04,324.38 L1223.88,325.63 L1224.73,326.87 L1225.58,328.10 L1226.45,329.32 L1227.32,330.54 L1228.20,331.76 L1229.09,332.97 L1229.99,334.17 L1230.90,335.36 L1231.82,336.55 L1232.74,337.73 L1233.68,338.90 L1234.62,340.07 L1235.57,341.22 L1236.54,342.37 L1237.51,343.52 L1238.49,344.65 L1239.48,345.78 L1240.48,346.90 L1241.49,348.01 L1242.51,349.11 L1243.54,350.20 L1244.57,351.28 L1245.62,352.36 L1246.67,353.42 L1247.74,354.48 L1248.81,355.53 L1249.90,356.56 L1250.99,357.59 L1252.09,358.61 L1253.20,359.62 L1254.32,360.62 L1255.45,361.60 L1256.59,362.58 L1257.74,363.55 L1258.89,364.51 L1260.05,365.45 L1261.23,366.39 L1262.41,367.31 L1263.60,368.23 L1264.80,369.13 L1266.00,370.02 L1267.22,370.90 L1268.44,371.77 L1269.67,372.63 L1270.91,373.48 L1272.15,374.31 L1273.40,375.14 L1274.66,375.95 L1275.93,376.75 L1277.21,377.54 L1278.49,378.32 L1279.78,379.09 L1281.07,379.85 L1282.37,380.60 L1283.68,381.33 L1284.99,382.06 L1286.31,382.77 L1287.64,383.47 L1288.97,384.16 L1290.31,384.84 L1291.65,385.51 L1293.00,386.17 L1294.35,386.82 L1295.71,387.45 L1297.07,388.08 L1298.44,388.69 L1299.81,389.30 L1301.19,389.89 L1302.57,390.48 L1303.96,391.05 L1305.35,391.62 L1306.74,392.17 L1308.14,392.72 L1309.54,393.25 L1310.94,393.78 L1312.35,394.30 L1313.76,394.80 L1315.18,395.30 L1316.60,395.79 L1318.02,396.27 L1319.44,396.74 L1320.87,397.20 L1322.30,397.66 L1323.73,398.10 L1325.16,398.54 L1326.60,398.97 L1328.04,399.39 L1329.48,399.80 L1330.93,400.21 L1332.37,400.61 L1333.82,401.00 L1335.27,401.38 L1336.72,401.76 L1338.18,402.12 L1339.63,402.49 L1341.09,402.84 L1342.55,403.19 L1344.01,403.53 L1345.47,403.86 L1346.94,404.19 L1348.40,404.51 L1349.87,404.83 L1351.34,405.14 L1352.81,405.44 L1354.28,405.74 L1355.75,406.03 L1357.22,406.32 L1358.69,406.60 L1360.17,406.87 L1361.64,407.14 L1363.12,407.41 L1364.60,407.67 L1366.08,407.92 L1367.55,408.17 L1369.03,408.41 L1370.52,408.65 L1372.00,408.89 L1373.48,409.12 L1374.96,409.34 L1376.45,409.56 L1377.93,409.78 L1379.41,409.99 L1380.90,410.20 L1382.39,410.41 L1383.87,410.61 L1385.36,410.80 L1386.85,411.00 L1388.34,411.19 L1389.82,411.37 L1391.31,411.55 L1392.80,411.73 L1394.29,411.90 L1395.78,412.08 L1397.27,412.24 L1398.76,412.41 L1400.26,412.57 L1401.75,412.73 L1403.24,412.88 L1404.73,413.03 L1406.22,413.18 L1407.72,413.33 L1409.21,413.47 L1410.70,413.61 L1412.20,413.75 L1413.69,413.88 L1415.19,414.01 L1416.68,414.14 L1418.17,414.27 L1419.67,414.39 L1421.16,414.52 L1422.66,414.63 L1424.16,414.75 L1425.65,414.87 L1427.15,414.98 L1428.64,415.09 L1430.14,415.20 L1431.63,415.30 L1433.13,415.41 L1434.63,415.51 L1436.12,415.61 L1437.62,415.70 L1439.12,415.80 L1440.62,415.89 L1442.11,415.99 L1443.61,416.08 L1445.11,416.16 L1446.60,416.25 L1448.10,416.33 L1449.60,416.42 L1451.10,416.50 L1452.60,416.58 L1454.09,416.66 L1455.59,416.73 L1457.09,416.81 L1458.59,416.88 L1460.09,416.95 L1461.58,417.02 L1463.08,417.09 L1464.58,417.16 L1466.08,417.22 L1467.58,417.29 L1469.08,417.35 L1470.58,417.41 L1472.08,417.48 L1473.57,417.53 L1475.07,417.59 L1476.57,417.65 L1478.07,417.71 L1479.57,417.76 L1481.07,417.81 L1482.57,417.87 L1484.07,417.92 L1485.57,417.97 L1487.07,418.02 L1488.56,418.06 L1490.06,418.11 L1491.56,418.16 L1493.06,418.20 L1494.56,418.25 L1496.06,418.29 L1497.56,418.33 L1499.06,418.37 L1500.56,418.41 L1502.06,418.45 L1503.56,418.49 L1505.06,418.53 L1506.56,418.57 L1508.06,418.60 L1509.56,418.64 L1511.06,418.67 L1512.56,418.71 L1514.06,418.74 L1515.56,418.77 L1517.05,418.80 L1518.55,418.83 L1520.05,418.86 L1521.55,418.89 L1523.05,418.92 L1524.55,418.95 L1526.05,418.98 L1527.55,419.00 L1529.05,419.03 L1530.55,419.05 L1532.05,419.08 L1533.55,419.10 L1535.05,419.13 L1536.55,419.15 L1538.05,419.17 L1539.55,419.19 L1541.05,419.22 L1542.55,419.24 L1544.05,419.26 L1545.55,419.28 L1547.05,419.30 L1548.55,419.31 L1550.05,419.33 L1551.55,419.35 L1553.05,419.37 L1554.55,419.38 L1556.05,419.40 L1557.55,419.42 L1559.05,419.43 L1560.55,419.45 L1562.05,419.46 L1563.55,419.48 L1565.05,419.49 L1566.55,419.50 L1568.05,419.52 L1569.55,419.53 L1571.05,419.54 L1572.55,419.55 L1574.05,419.56 L1575.55,419.57 L1577.05,419.59 L1578.55,419.60 L1580.05,419.61 L1581.55,419.62 L1583.05,419.62 L1584.55,419.63 L1586.05,419.64 L1587.55,419.65 L1589.05,419.66 L1590.55,419.67 L1592.05,419.67 L1593.55,419.68 L1595.05,419.69 L1596.55,419.70 L1598.05,419.70 L1599.55,419.71 L1601.05,419.71 L1602.55,419.72 L1604.05,419.72 L1605.55,419.73 L1607.05,419.73 L1608.55,419.74 L1610.05,419.74 L1611.55,419.75 L1613.05,419.75 L1614.55,419.76 L1616.05,419.76 L1617.55,419.76 L1619.05,419.77 L1620.55,419.77 L1622.05,419.77 L1623.55,419.77 L1625.05,419.78 L1626.55,419.78 L1628.05,419.78 L1629.55,419.78 L1631.05,419.78 L1632.55,419.78 L1634.05,419.79 L1635.55,419.79 L1637.05,419.79 L1638.55,419.79 L1640.05,419.79 L1641.55,419.79 L1643.05,419.79 L1644.55,419.79 L1646.05,419.79 L1647.55,419.79 L1649.05,419.79 L1650.55,419.79 L1652.05,419.79 L1653.55,419.79 L1655.05,419.79 L1656.55,419.78 L1658.05,419.78 L1659.55,419.78 L1661.05,419.78 L1662.55,419.78 L1664.05,419.78 L1665.55,419.78 L1667.05,419.77 L1668.55,419.77 L1670.05,419.77 L1671.55,419.77 L1673.05,419.77 L1674.55,419.76 L1676.05,419.76 L1677.55,419.76 L1679.05,419.76 L1680.55,419.75 L1682.05,419.75 L1683.55,419.75 L1685.05,419.74 L1686.11,419.74" stroke="#f1c73d"/>
<path d="M1162.46,-3.98 L1162.74,-2.51 L1163.02,-1.03 L1163.30,0.44 L1163.58,1.91 L1163.87,3.39 L1164.16,4.86 L1164.45,6.33 L1164.74,7.80 L1165.03,9.27 L1165.33,10.74 L1165.63,12.21 L1165.93,13.68 L1166.23,15.15 L1166.53,16.62 L1166.84,18.09 L1167.15,19.56 L1167.46,21.03 L1167.77,22.49 L1168.08,23.96 L1168.40,25.43 L1168.72,26.89 L1169.04,28.36 L1169.36,29.82 L1169.68,31.29 L1170.01,32.75 L1170.34,34.21 L1170.67,35.68 L1171.01,37.14 L1171.34,38.60 L1171.68,40.06 L1172.02,41.52 L1172.37,42.98 L1172.71,44.44 L1173.06,45.90 L1173.41,47.36 L1173.77,48.82 L1174.12,50.27 L1174.48,51.73 L1174.84,53.19 L1175.20,54.64 L1175.57,56.10 L1175.94,57.55 L1176.31,59.00 L1176.68,60.46 L1177.06,61.91 L1177.44,63.36 L1177.82,64.81 L1178.21,66.26 L1178.59,67.71 L1178.98,69.16 L1179.38,70.61 L1179.77,72.05 L1180.17,73.50 L1180.57,74.94 L1180.98,76.39 L1181.39,77.83 L1181.80,79.27 L1182.21,80.72 L1182.63,82.16 L1183.05,83.60 L1183.47,85.04 L1183.90,86.47 L1184.33,87.91 L1184.76,89.35 L1185.19,90.78 L1185.63,92.22 L1186.08,93.65 L1186.52,95.08 L1186.97,96.51 L1187.42,97.94 L1187.88,99.37 L1188.34,100.80 L1188.80,102.23 L1189.27,103.65 L1189.74,105.08 L1190.21,106.50 L1190.69,107.92 L1191.17,109.34 L1191.65,110.76 L1192.14,112.18 L1192.63,113.60 L1193.12,115.02 L1193.62,116.43 L1194.13,117.84 L1194.63,119.26 L1195.14,120.67 L1195.66,122.08 L1196.18,123.48 L1196.70,124.89 L1197.23,126.29 L1197.76,127.70 L1198.29,129.10 L1198.83,130.50 L1199.37,131.90 L1199.92,133.29 L1200.47,134.69 L1201.03,136.08 L1201.59,137.47 L1202.15,138.86 L1202.72,140.25 L1203.29,141.64 L1203.87,143.02 L1204.45,144.40 L1205.04,145.78 L1205.63,147.16 L1206.23,148.54 L1206.83,149.91 L1207.43,151.29 L1208.04,152.66 L1208.66,154.02 L1209.28,155.39 L1209.90,156.75 L1210.53,158.12 L1211.17,159.47 L1211.80,160.83 L1212.45,162.19 L1213.10,163.54 L1213.75,164.89 L1214.41,166.24 L1215.08,167.58 L1215.74,168.92 L1216.42,170.26 L1217.10,171.60 L1217.79,172.93 L1218.48,174.27 L1219.17,175.59 L1219.87,176.92 L1220.58,178.24 L1221.29,179.56 L1222.01,180.88 L1222.73,182.20 L1223.46,183.51 L1224.20,184.81 L1224.94,186.12 L1225.68,187.42 L1226.43,188.72 L1227.19,190.01 L1227.95,191.31 L1228.72,192.59 L1229.50,193.88 L1230.28,195.16 L1231.06,196.44 L1231.85,197.71 L1232.65,198.98 L1233.45,200.25 L1234.26,201.51 L1235.08,202.77 L1235.90,204.02 L1236.73,205.28 L1237.56,206.52 L1238.40,207.77 L1239.25,209.00 L1240.10,210.24 L1240.96,211.47 L1241.82,212.70 L1242.69,213.92 L1243.57,215.13 L1244.45,216.35 L1245.34,217.56 L1246.24,218.76 L1247.14,219.96 L1248.04,221.15 L1248.96,222.34 L1249.88,223.53 L1250.80,224.71 L1251.74,225.88 L1252.67,227.05 L1253.62,228.22 L1254.57,229.38 L1255.53,230.53 L1256.49,231.68 L1257.46,232.83 L1258.44,233.97 L1259.42,235.10 L1260.41,236.23 L1261.40,237.35 L1262.40,238.47 L1263.41,239.58 L1264.42,240.69 L1265.44,241.79 L1266.47,242.88 L1267.50,243.97 L1268.53,245.05 L1269.58,246.13 L1270.63,247.20 L1271.68,248.27 L1272.74,249.33 L1273.81,250.38 L1274.88,251.43 L1275.96,252.47 L1277.05,253.51 L1278.14,254.54 L1279.24,255.56 L1280.34,256.58 L1281.45,257.59 L1282.56,258.60 L1283.68,259.60 L1284.80,260.59 L1285.93,261.57 L1287.07,262.55 L1288.21,263.53 L1289.36,264.49 L1290.51,265.45 L1291.67,266.41 L1292.83,267.36 L1294.00,268.30 L1295.17,269.23 L1296.35,270.16 L1297.53,271.08 L1298.72,272.00 L1299.91,272.91 L1301.11,273.81 L1302.32,274.70 L1303.52,275.59 L1304.74,276.48 L1305.95,277.35 L1307.18,278.22 L1308.40,279.08 L1309.63,279.94 L1310.87,280.79 L1312.11,281.64 L1313.35,282.47 L1314.60,283.30 L1315.86,284.13 L1317.11,284.95 L1318.38,285.76 L1319.64,286.56 L1320.91,287.36 L1322.19,288.15 L1323.46,288.94 L1324.74,289.72 L1326.03,290.49 L1327.32,291.26 L1328.61,292.02 L1329.91,292.77 L1331.21,293.52 L1332.51,294.26 L1333.82,295.00 L1335.13,295.73 L1336.44,296.45 L1337.76,297.17 L1339.08,297.88 L1340.40,298.59 L1341.73,299.29 L1343.06,299.98 L1344.39,300.67 L1345.73,301.35 L1347.07,302.03 L1348.41,302.70 L1349.76,303.36 L1351.10,304.02 L1352.45,304.67 L1353.81,305.32 L1355.16,305.96 L1356.52,306.60 L1357.88,307.23 L1359.25,307.86 L1360.61,308.48 L1361.98,309.09 L1363.35,309.70 L1364.72,310.30 L1366.10,310.90 L1367.48,311.49 L1368.86,312.08 L1370.24,312.67 L1371.62,313.24 L1373.01,313.82 L1374.40,314.38 L1375.79,314.95 L1377.18,315.50 L1378.57,316.06 L1379.97,316.61 L1381.37,317.15 L1382.77,317.69 L1384.17,318.22 L1385.57,318.75 L1386.98,319.28 L1388.39,319.80 L1389.80,320.31 L1391.21,320.82 L1392.62,321.33 L1394.03,321.83 L1395.45,322.33 L1396.86,322.82 L1398.28,323.31 L1399.70,323.80 L1401.12,324.28 L1402.54,324.75 L1403.97,325.22 L1405.39,325.69 L1406.82,326.16 L1408.25,326.62 L1409.68,327.07 L1411.11,327.53 L1412.54,327.97 L1413.97,328.42 L1415.40,328.86 L1416.84,329.30 L1418.27,329.73 L1419.71,330.16 L1421.15,330.59 L1422.59,331.01 L1424.03,331.43 L1425.47,331.84 L1426.91,332.25 L1428.36,332.66 L1429.80,333.07 L1431.25,333.47 L1432.69,333.87 L1434.14,334.26 L1435.59,334.65 L1437.04,335.04 L1438.49,335.43 L1439.94,335.81 L1441.39,336.19 L1442.84,336.56 L1444.29,336.94 L1445.75,337.31 L1447.20,337.67 L1448.66,338.04 L1450.11,338.40 L1451.57,338.76 L1453.03,339.11 L1454.48,339.46 L1455.94,339.81 L1457.40,340.16 L1458.86,340.50 L1460.32,340.84 L1461.78,341.18 L1463.25,341.52 L1464.71,341.85 L1466.17,342.18 L1467.64,342.51 L1469.10,342.83 L1470.56,343.16 L1472.03,343.48 L1473.50,343.80 L1474.96,344.11 L1476.43,344.43 L1477.90,344.74 L1479.36,345.04 L1480.83,345.35 L1482.30,345.65 L1483.77,345.96 L1485.24,346.26 L1486.71,346.55 L1488.18,346.85 L1489.65,347.14 L1491.12,347.43 L1492.60,347.72 L1494.07,348.01 L1495.54,348.29 L1497.02,348.57 L1498.49,348.85 L1499.96,349.13 L1501.44,349.41 L1502.91,349.68 L1504.39,349.95 L1505.86,350.22 L1507.34,350.49 L1508.81,350.76 L1510.29,351.02 L1511.77,351.29 L1513.24,351.55 L1514.72,351.81 L1516.20,352.07 L1517.68,352.32 L1519.16,352.58 L1520.63,352.83 L1522.11,353.08 L1523.59,353.33 L1525.07,353.57 L1526.55,353.82 L1528.03,354.06 L1529.51,354.31 L1530.99,354.55 L1532.47,354.79 L1533.95,355.03 L1535.44,355.26 L1536.92,355.50 L1538.40,355.73 L1539.88,355.96 L1541.36,356.19 L1542.85,356.42 L1544.33,356.65 L1545.81,356.87 L1547.29,357.10 L1548.78,357.32 L1550.26,357.54 L1551.74,357.76 L1553.23,357.98 L1554.71,358.20 L1556.20,358.42 L1557.68,358.63 L1559.17,358.85 L1560.65,359.06 L1562.14,359.27 L1563.62,359.48 L1565.11,359.69 L1566.59,359.90 L1568.08,360.11 L1569.56,360.31 L1571.05,360.51 L1572.54,360.72 L1574.02,360.92 L1575.51,361.12 L1577.00,361.32 L1578.48,361.52 L1579.97,361.72 L1581.46,361.91 L1582.94,362.11 L1584.43,362.30 L1585.92,362.50 L1587.41,362.69 L1588.89,362.88 L1590.38,363.07 L1591.87,363.26 L1593.36,363.45 L1594.85,363.63 L1596.33,363.82 L1597.82,364.00 L1599.31,364.19 L1600.80,364.37 L1602.29,364.55 L1603.78,364.74 L1605.27,364.92 L1606.76,365.10 L1608.25,365.27 L1609.74,365.45 L1611.22,365.63 L1612.71,365.81 L1614.20,365.98 L1615.69,366.16 L1617.18,366.33 L1618.67,366.50 L1620.16,366.67 L1621.65,366.84 L1623.14,367.02 L1624.64,367.18 L1626.13,367.35 L1627.62,367.52 L1629.11,367.69 L1630.60,367.86 L1632.09,368.02 L1633.58,368.19 L1635.07,368.35 L1636.56,368.51 L1638.05,368.68 L1639.54,368.84 L1641.03,369.00 L1642.53,369.16 L1644.02,369.32 L1645.51,369.48 L1647.00,369.64 L1648.49,369.80 L1649.98,369.95 L1651.48,370.11 L1652.97,370.27 L1654.46,370.42 L1655.95,370.58 L1657.44,370.73 L1658.94,370.88 L1660.43,371.04 L1661.92,371.19 L1663.41,371.34 L1664.91,371.49 L1666.40,371.64 L1667.89,371.79 L1669.38,371.94 L1670.88,372.09 L1672.37,372.24 L1673.86,372.39 L1675.35,372.53 L1676.85,372.68 L1678.34,372.83 L1679.83,372.97 L1681.32,373.12 L1682.82,373.26 L1684.31,373.41 L1685.80,373.55 L1686.11,373.58" stroke="#dd5f63"/>
<path d="M1119.76,-3.98 L1119.88,-2.49 L1120.01,-0.99 L1120.13,0.50 L1120.25,2.00 L1120.38,3.49 L1120.50,4.99 L1120.63,6.48 L1120.75,7.98 L1120.88,9.47 L1121.01,10.97 L1121.13,12.46 L1121.26,13.96 L1121.39,15.45 L1121.52,16.95 L1121.65,18.44 L1121.78,19.94 L1121.91,21.43 L1122.04,22.92 L1122.17,24.42 L1122.30,25.91 L1122.43,27.41 L1122.56,28.90 L1122.69,30.39 L1122.83,31.89 L1122.96,33.38 L1123.09,34.88 L1123.23,36.37 L1123.36,37.86 L1123.50,39.36 L1123.64,40.85 L1123.77,42.35 L1123.91,43.84 L1124.05,45.33 L1124.18,46.83 L1124.32,48.32 L1124.46,49.81 L1124.60,51.31 L1124.74,52.80 L1124.88,54.29 L1125.02,55.79 L1125.16,57.28 L1125.31,58.77 L1125.45,60.27 L1125.59,61.76 L1125.74,63.25 L1125.88,64.75 L1126.03,66.24 L1126.17,67.73 L1126.32,69.23 L1126.46,70.72 L1126.61,72.21 L1126.76,73.70 L1126.91,75.20 L1127.06,76.69 L1127.21,78.18 L1127.36,79.67 L1127.51,81.17 L1127.66,82.66 L1127.81,84.15 L1127.96,85.64 L1128.12,87.14 L1128.27,88.63 L1128.42,90.12 L1128.58,91.61 L1128.73,93.10 L1128.89,94.60 L1129.05,96.09 L1129.21,97.58 L1129.36,99.07 L1129.52,100.56 L1129.68,102.05 L1129.84,103.55 L1130.00,105.04 L1130.17,106.53 L1130.33,108.02 L1130.49,109.51 L1130.66,111.00 L1130.82,112.49 L1130.98,113.98 L1131.15,115.47 L1131.32,116.96 L1131.48,118.46 L1131.65,119.95 L1131.82,121.44 L1131.99,122.93 L1132.16,124.42 L1132.33,125.91 L1132.50,127.40 L1132.68,128.89 L1132.85,130.38 L1133.03,131.87 L1133.20,133.36 L1133.38,134.85 L1133.55,136.34 L1133.73,137.83 L1133.91,139.31 L1134.09,140.80 L1134.27,142.29 L1134.45,143.78 L1134.63,145.27 L1134.81,146.76 L1135.00,148.25 L1135.18,149.74 L1135.36,151.23 L1135.55,152.71 L1135.74,154.20 L1135.92,155.69 L1136.11,157.18 L1136.30,158.67 L1136.49,160.16 L1136.68,161.64 L1136.88,163.13 L1137.07,164.62 L1137.26,166.11 L1137.46,167.59 L1137.66,169.08 L1137.85,170.57 L1138.05,172.05 L1138.25,173.54 L1138.45,175.03 L1138.65,176.51 L1138.85,178.00 L1139.06,179.49 L1139.26,180.97 L1139.47,182.46 L1139.67,183.94 L1139.88,185.43 L1140.09,186.91 L1140.30,188.40 L1140.51,189.88 L1140.72,191.37 L1140.94,192.85 L1141.15,194.34 L1141.37,195.82 L1141.58,197.31 L1141.80,198.79 L1142.02,200.28 L1142.24,201.76 L1142.46,203.24 L1142.68,204.73 L1142.91,206.21 L1143.13,207.69 L1143.36,209.18 L1143.59,210.66 L1143.82,212.14 L1144.05,213.62 L1144.28,215.10 L1144.51,216.59 L1144.75,218.07 L1144.98,219.55 L1145.22,221.03 L1145.46,222.51 L1145.70,223.99 L1145.94,225.47 L1146.18,226.95 L1146.43,228.43 L1146.67,229.91 L1146.92,231.39 L1147.17,232.87 L1147.42,234.35 L1147.67,235.83 L1147.92,237.31 L1148.18,238.79 L1148.44,240.26 L1148.69,241.74 L1148.95,243.22 L1149.22,244.69 L1149.48,246.17 L1149.74,247.65 L1150.01,249.12 L1150.28,250.60 L1150.55,252.08 L1150.82,253.55 L1151.09,255.03 L1151.37,256.50 L1151.65,257.97 L1151.93,259.45 L1152.21,260.92 L1152.49,262.39 L1152.78,263.87 L1153.06,265.34 L1153.35,266.81 L1153.64,268.28 L1153.94,269.75 L1154.23,271.22 L1154.53,272.69 L1154.83,274.16 L1155.13,275.63 L1155.43,277.10 L1155.74,278.57 L1156.05,280.04 L1156.36,281.51 L1156.67,282.97 L1156.98,284.44 L1157.30,285.91 L1157.62,287.37 L1157.94,288.84 L1158.27,290.30 L1158.60,291.77 L1158.93,293.23 L1159.26,294.69 L1159.59,296.15 L1159.93,297.62 L1160.27,299.08 L1160.61,300.54 L1160.96,302.00 L1161.31,303.46 L1161.66,304.91 L1162.01,306.37 L1162.37,307.83 L1162.73,309.28 L1163.09,310.74 L1163.46,312.19 L1163.83,313.65 L1164.20,315.10 L1164.57,316.55 L1164.95,318.01 L1165.33,319.46 L1165.72,320.91 L1166.11,322.35 L1166.50,323.80 L1166.89,325.25 L1167.29,326.70 L1167.70,328.14 L1168.10,329.58 L1168.51,331.03 L1168.93,332.47 L1169.34,333.91 L1169.76,335.35 L1170.19,336.79 L1170.62,338.22 L1171.05,339.66 L1171.49,341.10 L1171.93,342.53 L1172.38,343.96 L1172.83,345.39 L1173.28,346.82 L1173.74,348.25 L1174.21,349.68 L1174.68,351.10 L1175.15,352.52 L1175.63,353.94 L1176.11,355.36 L1176.60,356.78 L1177.10,358.20 L1177.60,359.61 L1178.10,361.03 L1178.61,362.44 L1179.13,363.85 L1179.65,365.25 L1180.17,366.66 L1180.70,368.06 L1181.24,369.46 L1181.79,370.86 L1182.34,372.25 L1182.90,373.65 L1183.46,375.04 L1184.03,376.42 L1184.60,377.81 L1185.19,379.19 L1185.78,380.57 L1186.37,381.95 L1186.98,383.32 L1187.59,384.69 L1188.21,386.05 L1188.83,387.42 L1189.47,388.78 L1190.11,390.13 L1190.76,391.48 L1191.42,392.83 L1192.08,394.18 L1192.76,395.52 L1193.44,396.85 L1194.13,398.18 L1194.83,399.51 L1195.54,400.83 L1196.26,402.15 L1196.99,403.46 L1197.73,404.76 L1198.48,406.06 L1199.24,407.36 L1200.01,408.65 L1200.78,409.93 L1201.57,411.20 L1202.37,412.47 L1203.18,413.74 L1204.00,414.99 L1204.84,416.24 L1205.68,417.48 L1206.54,418.71 L1207.40,419.93 L1208.28,421.15 L1209.17,422.36 L1210.07,423.56 L1210.99,424.74 L1211.92,425.92 L1212.86,427.09 L1213.81,428.25 L1214.78,429.40 L1215.75,430.53 L1216.75,431.66 L1217.75,432.77 L1218.77,433.88 L1219.80,434.96 L1220.84,436.04 L1221.90,437.10 L1222.97,438.15 L1224.06,439.19 L1225.16,440.21 L1226.27,441.22 L1227.39,442.21 L1228.53,443.19 L1229.68,444.15 L1230.85,445.10 L1232.02,446.03 L1233.21,446.94 L1234.42,447.83 L1235.63,448.71 L1236.86,449.57 L1238.10,450.42 L1239.35,451.24 L1240.62,452.05 L1241.89,452.84 L1243.18,453.61 L1244.48,454.37 L1245.78,455.10 L1247.10,455.82 L1248.43,456.52 L1249.77,457.19 L1251.11,457.85 L1252.47,458.50 L1253.83,459.12 L1255.21,459.72 L1256.59,460.31 L1257.98,460.87 L1259.37,461.42 L1260.78,461.95 L1262.19,462.47 L1263.60,462.96 L1265.02,463.44 L1266.45,463.90 L1267.88,464.34 L1269.32,464.77 L1270.77,465.18 L1272.21,465.57 L1273.66,465.95 L1275.12,466.31 L1276.58,466.66 L1278.04,466.99 L1279.51,467.30 L1280.98,467.60 L1282.45,467.89 L1283.93,468.17 L1285.40,468.43 L1286.88,468.67 L1288.36,468.91 L1289.85,469.13 L1291.33,469.34 L1292.82,469.53 L1294.31,469.72 L1295.80,469.89 L1297.29,470.05 L1298.78,470.20 L1300.28,470.34 L1301.77,470.48 L1303.27,470.60 L1304.76,470.71 L1306.26,470.81 L1307.76,470.90 L1309.25,470.98 L1310.75,471.06 L1312.25,471.12 L1313.75,471.18 L1315.25,471.23 L1316.75,471.28 L1318.25,471.31 L1319.75,471.34 L1321.25,471.36 L1322.75,471.37 L1324.25,471.38 L1325.75,471.38 L1327.25,471.37 L1328.75,471.36 L1330.25,471.34 L1331.75,471.32 L1333.25,471.29 L1334.75,471.26 L1336.24,471.22 L1337.74,471.17 L1339.24,471.12 L1340.74,471.07 L1342.24,471.01 L1343.74,470.95 L1345.24,470.88 L1346.74,470.81 L1348.23,470.73 L1349.73,470.65 L1351.23,470.57 L1352.73,470.48 L1354.22,470.39 L1355.72,470.29 L1357.22,470.20 L1358.71,470.10 L1360.21,469.99 L1361.71,469.88 L1363.20,469.77 L1364.70,469.66 L1366.19,469.55 L1367.69,469.43 L1369.19,469.31 L1370.68,469.18 L1372.17,469.06 L1373.67,468.93 L1375.16,468.80 L1376.66,468.67 L1378.15,468.53 L1379.65,468.39 L1381.14,468.26 L1382.63,468.12 L1384.13,467.97 L1385.62,467.83 L1387.11,467.68 L1388.60,467.54 L1390.10,467.39 L1391.59,467.24 L1393.08,467.09 L1394.57,466.93 L1396.07,466.78 L1397.56,466.62 L1399.05,466.47 L1400.54,466.31 L1402.03,466.15 L1403.52,465.99 L1405.02,465.83 L1406.51,465.66 L1408.00,465.50 L1409.49,465.34 L1410.98,465.17 L1412.47,465.01 L1413.96,464.84 L1415.45,464.67 L1416.94,464.50 L1418.43,464.33 L1419.92,464.16 L1421.41,463.99 L1422.90,463.82 L1424.39,463.65 L1425.88,463.48 L1427.37,463.31 L1428.86,463.14 L1430.35,462.96 L1431.84,462.79 L1433.33,462.61 L1434.82,462.44 L1436.31,462.27 L1437.80,462.09 L1439.29,461.92 L1440.78,461.74 L1442.27,461.56 L1443.76,461.39 L1445.25,461.21 L1446.74,461.04 L1448.23,460.86 L1449.72,460.68 L1451.21,460.51 L1452.70,460.33 L1454.19,460.15 L1455.68,459.98 L1457.17,459.80 L1458.66,459.62 L1460.15,459.45 L1461.64,459.27 L1463.13,459.09 L1464.62,458.92 L1466.11,458.74 L1467.60,458.56 L1469.08,458.39 L1470.57,458.21 L1472.06,458.04 L1473.55,457.86 L1475.04,457.68 L1476.53,457.51 L1478.02,457.33 L1479.51,457.16 L1481.00,456.98 L1482.49,456.81 L1483.98,456.63 L1485.47,456.46 L1486.96,456.29 L1488.45,456.11 L1489.94,455.94 L1491.43,455.76 L1492.92,455.59 L1494.41,455.42 L1495.90,455.25 L1497.39,455.08 L1498.88,454.90 L1500.37,454.73 L1501.86,454.56 L1503.35,454.39 L1504.84,454.22 L1506.33,454.05 L1507.82,453.88 L1509.31,453.71 L1510.80,453.54 L1512.29,453.37 L1513.79,453.21 L1515.28,453.04 L1516.77,452.87 L1518.26,452.70 L1519.75,452.54 L1521.24,452.37 L1522.73,452.21 L1524.22,452.04 L1525.71,451.88 L1527.20,451.71 L1528.69,451.55 L1530.18,451.38 L1531.68,451.22 L1533.17,451.06 L1534.66,450.90 L1536.15,450.74 L1537.64,450.57 L1539.13,450.41 L1540.62,450.25 L1542.12,450.09 L1543.61,449.93 L1545.10,449.78 L1546.59,449.62 L1548.08,449.46 L1549.57,449.30 L1551.07,449.15 L1552.56,448.99 L1554.05,448.83 L1555.54,448.68 L1557.03,448.52 L1558.52,448.37 L1560.02,448.22 L1561.51,448.06 L1563.00,447.91 L1564.49,447.76 L1565.99,447.61 L1567.48,447.46 L1568.97,447.30 L1570.46,447.15 L1571.96,447.00 L1573.45,446.86 L1574.94,446.71 L1576.43,446.56 L1577.93,446.41 L1579.42,446.26 L1580.91,446.12 L1582.40,445.97 L1583.90,445.83 L1585.39,445.68 L1586.88,445.54 L1588.38,445.39 L1589.87,445.25 L1591.36,445.11 L1592.86,444.97 L1594.35,444.82 L1595.84,444.68 L1597.34,444.54 L1598.83,444.40 L1600.32,444.26 L1601.82,444.12 L1603.31,443.98 L1604.80,443.85 L1606.30,443.71 L1607.79,443.57 L1609.29,443.44 L1610.78,443.30 L1612.27,443.16 L1613.77,443.03 L1615.26,442.90 L1616.75,442.76 L1618.25,442.63 L1619.74,442.50 L1621.24,442.36 L1622.73,442.23 L1624.23,442.10 L1625.72,441.97 L1627.21,441.84 L1628.71,441.71 L1630.20,441.58 L1631.70,441.45 L1633.19,441.32 L1634.69,441.20 L1636.18,441.07 L1637.68,440.94 L1639.17,440.82 L1640.67,440.69 L1642.16,440.57 L1643.66,440.44 L1645.15,440.32 L1646.64,440.20 L1648.14,440.07 L1649.63,439.95 L1651.13,439.83 L1652.62,439.71 L1654.12,439.59 L1655.62,439.47 L1657.11,439.35 L1658.61,439.23 L1660.10,439.11 L1661.60,438.99 L1663.09,438.87 L1664.59,438.76 L1666.08,438.64 L1667.58,438.52 L1669.07,438.41 L1670.57,438.29 L1672.06,438.18 L1673.56,438.06 L1675.06,437.95 L1676.55,437.84 L1678.05,437.72 L1679.54,437.61 L1681.04,437.50 L1682.54,437.39 L1684.03,437.28 L1685.53,437.17 L1686.11,437.12" stroke="#8a5e9b"/>
</g>
<line x1="959.7" y1="406.25" x2="1683.1" y2="406.25" stroke="#000" stroke-opacity="0.3" stroke-width="1.3"/>
<rect x="959.7" y="14.8" width="723.3999999999999" height="469.5" fill="none" stroke="#111" stroke-width="1.15"/>
<path d="M989.84,484.3 v-3.6 M989.84,14.8 v3.6 M1019.98,484.3 v-3.6 M1019.98,14.8 v3.6 M1050.12,484.3 v-3.6 M1050.12,14.8 v3.6 M1080.27,484.3 v-7.2 M1080.27,14.8 v7.2 M1110.41,484.3 v-3.6 M1110.41,14.8 v3.6 M1140.55,484.3 v-3.6 M1140.55,14.8 v3.6 M1170.69,484.3 v-3.6 M1170.69,14.8 v3.6 M1200.83,484.3 v-3.6 M1200.83,14.8 v3.6 M1230.97,484.3 v-7.2 M1230.97,14.8 v7.2 M1261.12,484.3 v-3.6 M1261.12,14.8 v3.6 M1291.26,484.3 v-3.6 M1291.26,14.8 v3.6 M1321.40,484.3 v-3.6 M1321.40,14.8 v3.6 M1351.54,484.3 v-3.6 M1351.54,14.8 v3.6 M1381.68,484.3 v-7.2 M1381.68,14.8 v7.2 M1411.83,484.3 v-3.6 M1411.83,14.8 v3.6 M1441.97,484.3 v-3.6 M1441.97,14.8 v3.6 M1472.11,484.3 v-3.6 M1472.11,14.8 v3.6 M1502.25,484.3 v-3.6 M1502.25,14.8 v3.6 M1532.39,484.3 v-7.2 M1532.39,14.8 v7.2 M1562.53,484.3 v-3.6 M1562.53,14.8 v3.6 M1592.67,484.3 v-3.6 M1592.67,14.8 v3.6 M1622.82,484.3 v-3.6 M1622.82,14.8 v3.6 M1652.96,484.3 v-3.6 M1652.96,14.8 v3.6 M959.7,464.74 h3.6 M1683.1,464.74 h-3.6 M959.7,445.18 h3.6 M1683.1,445.18 h-3.6 M959.7,425.61 h3.6 M1683.1,425.61 h-3.6 M959.7,406.05 h7.2 M1683.1,406.05 h-7.2 M959.7,386.49 h3.6 M1683.1,386.49 h-3.6 M959.7,366.93 h3.6 M1683.1,366.93 h-3.6 M959.7,347.36 h3.6 M1683.1,347.36 h-3.6 M959.7,327.80 h7.2 M1683.1,327.80 h-7.2 M959.7,308.24 h3.6 M1683.1,308.24 h-3.6 M959.7,288.68 h3.6 M1683.1,288.68 h-3.6 M959.7,269.11 h3.6 M1683.1,269.11 h-3.6 M959.7,249.55 h7.2 M1683.1,249.55 h-7.2 M959.7,229.99 h3.6 M1683.1,229.99 h-3.6 M959.7,210.43 h3.6 M1683.1,210.43 h-3.6 M959.7,190.86 h3.6 M1683.1,190.86 h-3.6 M959.7,171.30 h7.2 M1683.1,171.30 h-7.2 M959.7,151.74 h3.6 M1683.1,151.74 h-3.6 M959.7,132.18 h3.6 M1683.1,132.18 h-3.6 M959.7,112.61 h3.6 M1683.1,112.61 h-3.6 M959.7,93.05 h7.2 M1683.1,93.05 h-7.2 M959.7,73.49 h3.6 M1683.1,73.49 h-3.6 M959.7,53.92 h3.6 M1683.1,53.92 h-3.6 M959.7,34.36 h3.6 M1683.1,34.36 h-3.6" stroke="#111" stroke-width="1.15" fill="none"/>
<text x="955.3" y="22.1" font-family="Liberation Sans, Arial, sans-serif" fill="#000" stroke="#000" stroke-width="0.35" font-size="25" text-anchor="end">2.5</text>
<text x="955.3" y="100.4" font-family="Liberation Sans, Arial, sans-serif" fill="#000" stroke="#000" stroke-width="0.35" font-size="25" text-anchor="end">2.0</text>
<text x="955.3" y="178.7" font-family="Liberation Sans, Arial, sans-serif" fill="#000" stroke="#000" stroke-width="0.35" font-size="25" text-anchor="end">1.5</text>
<text x="955.3" y="256.9" font-family="Liberation Sans, Arial, sans-serif" fill="#000" stroke="#000" stroke-width="0.35" font-size="25" text-anchor="end">1.0</text>
<text x="955.3" y="335.2" font-family="Liberation Sans, Arial, sans-serif" fill="#000" stroke="#000" stroke-width="0.35" font-size="25" text-anchor="end">0.5</text>
<text x="955.3" y="413.4" font-family="Liberation Sans, Arial, sans-serif" fill="#000" stroke="#000" stroke-width="0.35" font-size="25" text-anchor="end">0.0</text>
<text x="955.3" y="491.7" font-family="Liberation Sans, Arial, sans-serif" fill="#000" stroke="#000" stroke-width="0.35" font-size="25" text-anchor="end">−0.5</text>
<text x="1080.5" y="508.6" font-family="Liberation Sans, Arial, sans-serif" fill="#000" stroke="#000" stroke-width="0.35" font-size="25" text-anchor="middle">10</text>
<text x="1231.2" y="508.6" font-family="Liberation Sans, Arial, sans-serif" fill="#000" stroke="#000" stroke-width="0.35" font-size="25" text-anchor="middle">20</text>
<text x="1381.9" y="508.6" font-family="Liberation Sans, Arial, sans-serif" fill="#000" stroke="#000" stroke-width="0.35" font-size="25" text-anchor="middle">30</text>
<text x="1532.6" y="508.6" font-family="Liberation Sans, Arial, sans-serif" fill="#000" stroke="#000" stroke-width="0.35" font-size="25" text-anchor="middle">40</text>
<text x="1683.3" y="508.6" font-family="Liberation Sans, Arial, sans-serif" fill="#000" stroke="#000" stroke-width="0.35" font-size="25" text-anchor="middle">50</text>
<text x="1283.5" y="541.3" font-family="Liberation Sans, Arial, sans-serif" fill="#000" stroke="#000" stroke-width="0.35" font-size="25"><tspan font-style="italic">R</tspan> (nm)</text>
<g transform="rotate(-90)" fill="#000" stroke="#000" stroke-width="0.3">
<text x="-342.00" y="888.60" font-family="Liberation Sans, sans-serif" font-size="24.5" >(</text>
<text x="-336.20" y="889.40" font-family="DejaVu Sans, sans-serif" font-size="26.5" textLength="23.2" lengthAdjust="spacingAndGlyphs" >ℱ</text>
<text x="-310.60" y="892.80" font-family="Liberation Sans, sans-serif" font-size="15.5" >fl</text>
<text x="-293.70" y="888.60" font-family="Liberation Sans, sans-serif" font-size="24.5" >+</text>
<text x="-272.50" y="889.40" font-family="DejaVu Sans, sans-serif" font-size="26.5" textLength="23.2" lengthAdjust="spacingAndGlyphs" >ℱ</text>
<text x="-247.10" y="892.80" font-family="Liberation Sans, sans-serif" font-size="15.5" >el</text>
<text x="-230.90" y="888.60" font-family="Liberation Sans, sans-serif" font-size="24.5" >)</text>
<text x="-216.70" y="888.60" font-family="Liberation Sans, sans-serif" font-size="24.5" >/</text>
<text x="-201.10" y="888.60" font-family="Liberation Sans, sans-serif" font-size="24.5" font-style="italic" >k</text>
<text x="-186.40" y="893.50" font-family="Liberation Sans, sans-serif" font-size="18.6" font-style="italic" >B</text>
<text x="-171.60" y="888.60" font-family="Liberation Sans, sans-serif" font-size="24.5" font-style="italic" >T</text>
</g>
<line x1="1301.5" y1="45.3" x2="1325.8" y2="45.3" stroke="#5995cf" stroke-width="2" stroke-linecap="round"/>
<g fill="#000" stroke="#000" stroke-width="0.3">
<text x="1341.00" y="52.40" font-family="Liberation Sans, sans-serif" font-size="22" font-style="italic" >α</text>
<text x="1356.80" y="56.20" font-family="Liberation Sans, sans-serif" font-size="15" >1</text>
<text x="1371.80" y="52.40" font-family="Liberation Sans, sans-serif" font-size="22" >=</text>
<text x="1392.10" y="52.40" font-family="Liberation Sans, sans-serif" font-size="22" font-style="italic" >α</text>
<text x="1408.10" y="56.20" font-family="Liberation Sans, sans-serif" font-size="15" >2</text>
<text x="1422.80" y="52.40" font-family="Liberation Sans, sans-serif" font-size="22" >=</text>
<text x="1441.00" y="52.40" font-family="Liberation Sans, sans-serif" font-size="22" >10</text>
<text x="1470.20" y="42.80" font-family="Liberation Sans, sans-serif" font-size="16" >o</text>
<text x="1480.20" y="52.40" font-family="Liberation Sans, sans-serif" font-size="22" >,</text>
<text x="1492.30" y="52.40" font-family="Liberation Sans, sans-serif" font-size="22" font-style="italic" >σ</text>
<text x="1511.70" y="52.40" font-family="Liberation Sans, sans-serif" font-size="22" >=</text>
<text x="1531.00" y="52.40" font-family="Liberation Sans, sans-serif" font-size="22" >0</text>
</g>
<line x1="1301.5" y1="86.8" x2="1325.8" y2="86.8" stroke="#a7c8f4" stroke-width="2" stroke-linecap="round"/>
<g fill="#000" stroke="#000" stroke-width="0.3">
<text x="1341.00" y="93.92" font-family="Liberation Sans, sans-serif" font-size="22" font-style="italic" >α</text>
<text x="1356.80" y="97.72" font-family="Liberation Sans, sans-serif" font-size="15" >1</text>
<text x="1371.80" y="93.92" font-family="Liberation Sans, sans-serif" font-size="22" >=</text>
<text x="1392.10" y="93.92" font-family="Liberation Sans, sans-serif" font-size="22" font-style="italic" >α</text>
<text x="1408.10" y="97.72" font-family="Liberation Sans, sans-serif" font-size="15" >2</text>
<text x="1422.80" y="93.92" font-family="Liberation Sans, sans-serif" font-size="22" >=</text>
<text x="1442.00" y="93.92" font-family="Liberation Sans, sans-serif" font-size="22" >30</text>
<text x="1470.20" y="84.32" font-family="Liberation Sans, sans-serif" font-size="16" >o</text>
<text x="1480.20" y="93.92" font-family="Liberation Sans, sans-serif" font-size="22" >,</text>
<text x="1492.30" y="93.92" font-family="Liberation Sans, sans-serif" font-size="22" font-style="italic" >σ</text>
<text x="1511.70" y="93.92" font-family="Liberation Sans, sans-serif" font-size="22" >=</text>
<text x="1531.00" y="93.92" font-family="Liberation Sans, sans-serif" font-size="22" >0</text>
</g>
<line x1="1301.5" y1="128.3" x2="1325.8" y2="128.3" stroke="#e5951f" stroke-width="2" stroke-linecap="round"/>
<g fill="#000" stroke="#000" stroke-width="0.3">
<text x="1341.00" y="135.44" font-family="Liberation Sans, sans-serif" font-size="22" font-style="italic" >α</text>
<text x="1356.80" y="139.24" font-family="Liberation Sans, sans-serif" font-size="15" >1</text>
<text x="1371.80" y="135.44" font-family="Liberation Sans, sans-serif" font-size="22" >=</text>
<text x="1392.10" y="135.44" font-family="Liberation Sans, sans-serif" font-size="22" font-style="italic" >α</text>
<text x="1408.10" y="139.24" font-family="Liberation Sans, sans-serif" font-size="15" >2</text>
<text x="1422.80" y="135.44" font-family="Liberation Sans, sans-serif" font-size="22" >=</text>
<text x="1442.00" y="135.44" font-family="Liberation Sans, sans-serif" font-size="22" >30</text>
<text x="1470.20" y="125.84" font-family="Liberation Sans, sans-serif" font-size="16" >o</text>
<text x="1480.20" y="135.44" font-family="Liberation Sans, sans-serif" font-size="22" >,</text>
<text x="1492.30" y="135.44" font-family="Liberation Sans, sans-serif" font-size="22" font-style="italic" >σ</text>
<text x="1511.70" y="135.44" font-family="Liberation Sans, sans-serif" font-size="22" >=</text>
<text x="1530.00" y="135.44" font-family="Liberation Sans, sans-serif" font-size="22" >10</text>
<text x="1567.20" y="135.44" font-family="Liberation Sans, sans-serif" font-size="22" font-style="italic" >μ</text>
<text x="1577.80" y="135.44" font-family="Liberation Sans, sans-serif" font-size="22" >N/m</text>
</g>
<line x1="1301.5" y1="169.9" x2="1325.8" y2="169.9" stroke="#f1c73d" stroke-width="2" stroke-linecap="round"/>
<g fill="#000" stroke="#000" stroke-width="0.3">
<text x="1341.00" y="176.96" font-family="Liberation Sans, sans-serif" font-size="22" font-style="italic" >α</text>
<text x="1356.80" y="180.76" font-family="Liberation Sans, sans-serif" font-size="15" >1</text>
<text x="1371.80" y="176.96" font-family="Liberation Sans, sans-serif" font-size="22" >=</text>
<text x="1391.00" y="176.96" font-family="Liberation Sans, sans-serif" font-size="22" >−</text>
<text x="1406.20" y="176.96" font-family="Liberation Sans, sans-serif" font-size="22" font-style="italic" >α</text>
<text x="1422.20" y="180.76" font-family="Liberation Sans, sans-serif" font-size="15" >2</text>
<text x="1436.70" y="176.96" font-family="Liberation Sans, sans-serif" font-size="22" >=</text>
<text x="1455.10" y="176.96" font-family="Liberation Sans, sans-serif" font-size="22" >30</text>
<text x="1484.30" y="167.36" font-family="Liberation Sans, sans-serif" font-size="16" >o</text>
<text x="1494.30" y="176.96" font-family="Liberation Sans, sans-serif" font-size="22" >,</text>
<text x="1506.40" y="176.96" font-family="Liberation Sans, sans-serif" font-size="22" font-style="italic" >σ</text>
<text x="1525.80" y="176.96" font-family="Liberation Sans, sans-serif" font-size="22" >=</text>
<text x="1544.10" y="176.96" font-family="Liberation Sans, sans-serif" font-size="22" >10</text>
<text x="1575.90" y="176.96" font-family="Liberation Sans, sans-serif" font-size="22" font-style="italic" >μ</text>
<text x="1586.50" y="176.96" font-family="Liberation Sans, sans-serif" font-size="22" >N/m</text>
</g>
<line x1="1301.5" y1="211.4" x2="1325.8" y2="211.4" stroke="#dd5f63" stroke-width="2" stroke-linecap="round"/>
<g fill="#000" stroke="#000" stroke-width="0.3">
<text x="1341.00" y="218.48" font-family="Liberation Sans, sans-serif" font-size="22" font-style="italic" >α</text>
<text x="1356.80" y="222.28" font-family="Liberation Sans, sans-serif" font-size="15" >1</text>
<text x="1371.80" y="218.48" font-family="Liberation Sans, sans-serif" font-size="22" >=</text>
<text x="1392.10" y="218.48" font-family="Liberation Sans, sans-serif" font-size="22" font-style="italic" >α</text>
<text x="1408.10" y="222.28" font-family="Liberation Sans, sans-serif" font-size="15" >2</text>
<text x="1422.80" y="218.48" font-family="Liberation Sans, sans-serif" font-size="22" >=</text>
<text x="1442.00" y="218.48" font-family="Liberation Sans, sans-serif" font-size="22" >30</text>
<text x="1470.20" y="208.88" font-family="Liberation Sans, sans-serif" font-size="16" >o</text>
<text x="1480.20" y="218.48" font-family="Liberation Sans, sans-serif" font-size="22" >,</text>
<text x="1492.30" y="218.48" font-family="Liberation Sans, sans-serif" font-size="22" font-style="italic" >σ</text>
<text x="1511.70" y="218.48" font-family="Liberation Sans, sans-serif" font-size="22" >=</text>
<text x="1530.00" y="218.48" font-family="Liberation Sans, sans-serif" font-size="22" >100</text>
<text x="1579.50" y="218.48" font-family="Liberation Sans, sans-serif" font-size="22" font-style="italic" >μ</text>
<text x="1590.10" y="218.48" font-family="Liberation Sans, sans-serif" font-size="22" >N/m</text>
</g>
<line x1="1301.5" y1="252.9" x2="1325.8" y2="252.9" stroke="#8a5e9b" stroke-width="2" stroke-linecap="round"/>
<g fill="#000" stroke="#000" stroke-width="0.3">
<text x="1341.00" y="260.00" font-family="Liberation Sans, sans-serif" font-size="22" font-style="italic" >α</text>
<text x="1356.80" y="263.80" font-family="Liberation Sans, sans-serif" font-size="15" >1</text>
<text x="1371.80" y="260.00" font-family="Liberation Sans, sans-serif" font-size="22" >=</text>
<text x="1391.00" y="260.00" font-family="Liberation Sans, sans-serif" font-size="22" >−</text>
<text x="1406.20" y="260.00" font-family="Liberation Sans, sans-serif" font-size="22" font-style="italic" >α</text>
<text x="1422.20" y="263.80" font-family="Liberation Sans, sans-serif" font-size="15" >2</text>
<text x="1436.70" y="260.00" font-family="Liberation Sans, sans-serif" font-size="22" >=</text>
<text x="1455.10" y="260.00" font-family="Liberation Sans, sans-serif" font-size="22" >30</text>
<text x="1484.90" y="250.40" font-family="Liberation Sans, sans-serif" font-size="16" font-style="italic" >o</text>
<text x="1494.30" y="260.00" font-family="Liberation Sans, sans-serif" font-size="22" >,</text>
<text x="1506.40" y="260.00" font-family="Liberation Sans, sans-serif" font-size="22" font-style="italic" >σ</text>
<text x="1525.80" y="260.00" font-family="Liberation Sans, sans-serif" font-size="22" >=</text>
<text x="1544.10" y="260.00" font-family="Liberation Sans, sans-serif" font-size="22" >100</text>
<text x="1595.10" y="260.00" font-family="Liberation Sans, sans-serif" font-size="22" font-style="italic" >μ</text>
<text x="1605.70" y="260.00" font-family="Liberation Sans, sans-serif" font-size="22" >N/m</text>
</g>
<g fill="#414141">
<text x="202.20" y="51.70" font-family="Liberation Serif, serif" font-size="30" font-weight="bold" font-style="italic" >a</text>
<text x="217.10" y="62.10" font-family="Liberation Serif, serif" font-size="17.5" font-weight="bold" >1</text>
<text x="232.30" y="51.70" font-family="Liberation Serif, serif" font-size="30" font-weight="bold" >&gt;</text>
<text x="257.40" y="51.70" font-family="Liberation Serif, serif" font-size="31" font-weight="bold" >0</text>
<text x="636.60" y="54.00" font-family="Liberation Serif, serif" font-size="30" font-weight="bold" font-style="italic" >a</text>
<text x="651.60" y="65.10" font-family="Liberation Serif, serif" font-size="17.5" font-weight="bold" >2</text>
<text x="666.80" y="54.40" font-family="Liberation Serif, serif" font-size="30" font-weight="bold" >&gt;</text>
<text x="692.20" y="54.20" font-family="Liberation Serif, serif" font-size="31" font-weight="bold" >0</text>
<text x="203.90" y="272.00" font-family="Liberation Serif, serif" font-size="30" font-weight="bold" font-style="italic" >a</text>
<text x="219.00" y="282.00" font-family="Liberation Serif, serif" font-size="17.5" font-weight="bold" >1</text>
<text x="233.70" y="272.00" font-family="Liberation Serif, serif" font-size="30" font-weight="bold" >&gt;</text>
<text x="259.60" y="272.20" font-family="Liberation Serif, serif" font-size="31" font-weight="bold" >0</text>
<text x="638.40" y="539.10" font-family="Liberation Serif, serif" font-size="30" font-weight="bold" font-style="italic" >a</text>
<text x="653.40" y="549.40" font-family="Liberation Serif, serif" font-size="17.5" font-weight="bold" >2</text>
<text x="668.20" y="539.10" font-family="Liberation Serif, serif" font-size="30" font-weight="bold" >&lt;</text>
<text x="693.40" y="539.20" font-family="Liberation Serif, serif" font-size="31" font-weight="bold" >0</text>
</g>
</svg></body></html>
